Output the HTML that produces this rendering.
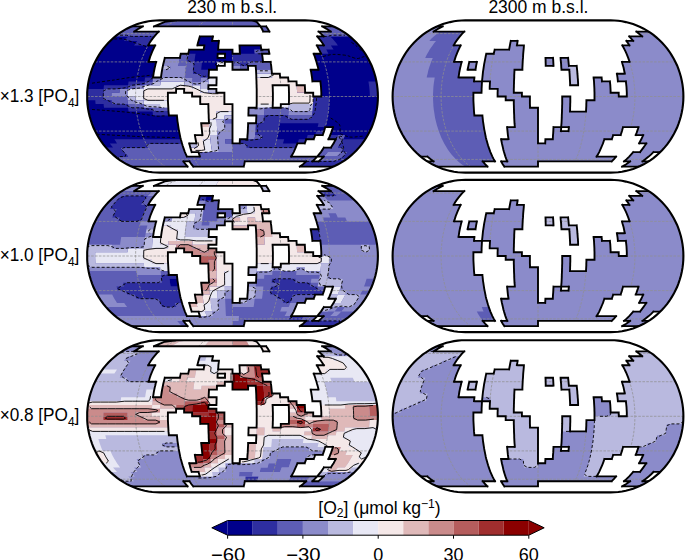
<!DOCTYPE html><html><head><meta charset="utf-8"><style>html,body{margin:0;padding:0;background:#fff;overflow:hidden}svg{display:block}text{font-family:"Liberation Sans",sans-serif}</style></head><body>
<svg width="685" height="560" viewBox="0 0 685 560">
<clipPath id="c232_96"><path d="M305.2,172.6 309.0,172.5 312.8,172.2 316.5,171.7 320.3,170.9 324.0,170.0 327.6,168.9 331.2,167.5 334.7,166.0 338.2,164.3 341.5,162.4 344.8,160.3 347.9,158.1 350.9,155.6 353.8,153.1 356.6,150.3 359.2,147.4 361.7,144.4 364.0,141.2 366.1,137.9 368.1,134.6 369.9,131.0 371.6,127.5 373.0,123.8 374.3,120.0 375.4,116.2 376.3,112.3 377.0,108.4 377.5,104.5 377.8,100.5 377.9,96.5 377.8,92.5 377.5,88.5 377.0,84.6 376.3,80.7 375.4,76.8 374.3,73.0 373.0,69.2 371.6,65.5 369.9,62.0 368.1,58.5 366.1,55.1 364.0,51.8 361.7,48.6 359.2,45.6 356.6,42.7 353.8,39.9 350.9,37.4 347.9,34.9 344.8,32.7 341.5,30.6 338.2,28.7 334.7,27.0 331.2,25.5 327.6,24.1 324.0,23.0 320.3,22.1 316.5,21.3 312.8,20.8 309.0,20.5 305.2,20.4 159.8,20.4 156.0,20.5 152.2,20.8 148.5,21.3 144.7,22.1 141.0,23.0 137.4,24.1 133.8,25.5 130.3,27.0 126.8,28.7 123.5,30.6 120.2,32.7 117.1,34.9 114.1,37.4 111.2,39.9 108.4,42.7 105.8,45.6 103.3,48.6 101.0,51.8 98.9,55.1 96.9,58.5 95.1,62.0 93.4,65.5 92.0,69.2 90.7,73.0 89.6,76.8 88.7,80.7 88.0,84.6 87.5,88.5 87.2,92.5 87.2,96.5 87.2,100.5 87.5,104.5 88.0,108.4 88.7,112.3 89.6,116.2 90.7,120.0 92.0,123.8 93.4,127.5 95.1,131.0 96.9,134.5 98.9,137.9 101.0,141.2 103.3,144.4 105.8,147.4 108.4,150.3 111.2,153.1 114.1,155.6 117.1,158.1 120.2,160.3 123.5,162.4 126.8,164.3 130.3,166.0 133.8,167.5 137.4,168.9 141.0,170.0 144.7,170.9 148.5,171.7 152.2,172.2 156.0,172.5 159.8,172.6Z"/></clipPath>
<g clip-path="url(#c232_96)">
<path d="M305.2,172.6 309.0,172.5 312.8,172.2 316.5,171.7 320.3,170.9 324.0,170.0 327.6,168.9 331.2,167.5 334.7,166.0 338.2,164.3 341.5,162.4 344.8,160.3 347.9,158.1 350.9,155.6 353.8,153.1 356.6,150.3 359.2,147.4 361.7,144.4 364.0,141.2 366.1,137.9 368.1,134.6 369.9,131.0 371.6,127.5 373.0,123.8 374.3,120.0 375.4,116.2 376.3,112.3 377.0,108.4 377.5,104.5 377.8,100.5 377.9,96.5 377.8,92.5 377.5,88.5 377.0,84.6 376.3,80.7 375.4,76.8 374.3,73.0 373.0,69.2 371.6,65.5 369.9,62.0 368.1,58.5 366.1,55.1 364.0,51.8 361.7,48.6 359.2,45.6 356.6,42.7 353.8,39.9 350.9,37.4 347.9,34.9 344.8,32.7 341.5,30.6 338.2,28.7 334.7,27.0 331.2,25.5 327.6,24.1 324.0,23.0 320.3,22.1 316.5,21.3 312.8,20.8 309.0,20.5 305.2,20.4 159.8,20.4 156.0,20.5 152.2,20.8 148.5,21.3 144.7,22.1 141.0,23.0 137.4,24.1 133.8,25.5 130.3,27.0 126.8,28.7 123.5,30.6 120.2,32.7 117.1,34.9 114.1,37.4 111.2,39.9 108.4,42.7 105.8,45.6 103.3,48.6 101.0,51.8 98.9,55.1 96.9,58.5 95.1,62.0 93.4,65.5 92.0,69.2 90.7,73.0 89.6,76.8 88.7,80.7 88.0,84.6 87.5,88.5 87.2,92.5 87.2,96.5 87.2,100.5 87.5,104.5 88.0,108.4 88.7,112.3 89.6,116.2 90.7,120.0 92.0,123.8 93.4,127.5 95.1,131.0 96.9,134.5 98.9,137.9 101.0,141.2 103.3,144.4 105.8,147.4 108.4,150.3 111.2,153.1 114.1,155.6 117.1,158.1 120.2,160.3 123.5,162.4 126.8,164.3 130.3,166.0 133.8,167.5 137.4,168.9 141.0,170.0 144.7,170.9 148.5,171.7 152.2,172.2 156.0,172.5 159.8,172.6Z" fill="#00008b"/>
<path d="M131.6,166.6 126.7,164.2 121.9,161.4 183.4,161.4 185.5,164.2 187.6,166.6ZM193.3,166.6 191.3,164.2 189.5,161.4 244.8,161.4 244.3,164.2 243.7,166.6ZM121.9,161.4 118.5,159.1 115.3,156.6 317.2,156.6 314.8,159.1 312.3,161.4ZM318.5,161.4 321.1,159.1 323.7,156.6 343.2,156.6 340.1,159.1 336.9,161.4ZM128.3,156.6 126.0,154.4 123.8,152.1 184.9,152.1 185.9,154.4 186.9,156.6ZM199.9,156.6 199.2,154.4 198.5,152.1 293.7,152.1 292.4,154.4 291.1,156.6ZM317.2,156.6 319.0,154.4 320.9,152.1 327.7,152.1 325.7,154.4 323.7,156.6ZM336.7,156.6 339.0,154.4 341.2,152.1 348.0,152.1 345.7,154.4 343.2,156.6ZM123.8,152.1 121.9,149.9 120.1,147.6 183.3,147.6 184.1,149.9 184.9,152.1ZM232.5,152.1 232.5,149.9 232.5,147.6 295.7,147.6 294.7,149.9 293.7,152.1ZM320.9,152.1 322.4,149.9 323.9,147.6 344.9,147.6 343.1,149.9 341.2,152.1ZM148.2,147.6 147.0,145.5 145.9,143.4 182.0,143.4 182.6,145.5 183.3,147.6ZM232.5,147.6 232.5,145.5 232.5,143.4 246.9,143.4 246.7,145.5 246.6,147.6ZM330.9,147.6 332.2,145.5 333.6,143.4 340.8,143.4 339.4,145.5 337.9,147.6ZM225.3,143.4 225.2,141.3 225.1,139.2 232.5,139.2 232.5,141.3 232.5,143.4ZM333.6,143.4 334.7,141.3 335.8,139.2 343.2,139.2 342.0,141.3 340.8,143.4ZM254.6,139.2 254.9,137.2 255.1,135.1 262.6,135.1 262.3,137.2 262.0,139.2ZM335.8,139.2 336.8,137.2 337.7,135.1 345.3,135.1 344.3,137.2 343.2,139.2ZM224.7,123.2 224.6,121.3 224.6,119.3 232.5,119.3 232.5,121.3 232.5,123.2ZM256.0,123.2 256.1,121.3 256.2,119.3 264.1,119.3 263.9,121.3 263.8,123.2ZM256.2,119.3 256.3,117.4 256.3,115.5 264.3,115.5 264.2,117.4 264.1,119.3ZM287.7,119.3 287.9,117.4 288.1,115.5 312.0,115.5 311.7,117.4 311.4,119.3ZM264.3,115.5 264.4,113.6 264.5,111.6 288.5,111.6 288.3,113.6 288.1,115.5ZM152.6,111.6 152.4,109.7 152.2,107.8 168.3,107.8 168.4,109.7 168.5,111.6ZM264.5,111.6 264.6,109.7 264.6,107.8 288.7,107.8 288.6,109.7 288.5,111.6ZM128.1,107.8 127.9,106.0 127.8,104.1 143.9,104.1 144.0,106.0 144.2,107.8ZM111.7,104.1 111.5,102.2 111.4,100.3 127.6,100.3 127.7,102.2 127.8,104.1ZM103.4,100.3 103.3,98.4 103.3,96.5 127.5,96.5 127.5,98.4 127.6,100.3ZM103.3,96.5 103.3,94.6 103.4,92.7 111.4,92.7 111.4,94.6 111.4,96.5ZM103.4,92.7 103.5,90.8 103.6,88.9 119.7,88.9 119.6,90.8 119.5,92.7ZM127.8,88.9 127.9,87.0 128.1,85.2 136.1,85.2 136.0,87.0 135.8,88.9ZM144.2,85.2 144.4,83.3 144.6,81.4 152.6,81.4 152.4,83.3 152.2,85.2ZM192.5,81.4 192.6,79.4 192.8,77.5 200.7,77.5 200.6,79.4 200.5,81.4ZM184.8,77.5 185.0,75.6 185.2,73.7 200.9,73.7 200.8,75.6 200.7,77.5ZM185.2,73.7 185.4,71.7 185.6,69.8 193.4,69.8 193.2,71.7 193.1,73.7ZM185.6,69.8 185.8,67.8 186.1,65.9 193.8,65.9 193.6,67.8 193.4,69.8ZM240.3,69.8 240.3,67.8 240.2,65.9 248.0,65.9 248.1,67.8 248.1,69.8ZM256.0,69.8 255.8,67.8 255.7,65.9 271.2,65.9 271.4,67.8 271.6,69.8ZM178.4,65.9 178.7,63.9 179.1,61.9 194.3,61.9 194.1,63.9 193.8,65.9ZM232.5,65.9 232.5,63.9 232.5,61.9 240.1,61.9 240.2,63.9 240.2,65.9ZM248.0,65.9 247.9,63.9 247.8,61.9 270.7,61.9 270.9,63.9 271.2,65.9ZM179.1,61.9 179.5,59.9 179.9,57.9 187.4,57.9 187.0,59.9 186.7,61.9ZM179.9,57.9 180.3,55.8 180.8,53.8 188.2,53.8 187.8,55.8 187.4,57.9ZM254.6,53.8 254.4,51.7 254.2,49.6 268.6,49.6 269.0,51.7 269.4,53.8ZM115.3,36.4 118.5,33.9 121.9,31.6 158.8,31.6 156.5,33.9 154.4,36.4ZM323.7,36.4 321.1,33.9 318.5,31.6 343.1,31.6 346.5,33.9 349.7,36.4ZM121.9,31.6 126.7,28.8 131.6,26.4 142.8,26.4 138.4,28.8 134.2,31.6ZM263.2,31.6 261.9,28.8 260.5,26.4 266.1,26.4 267.8,28.8 269.4,31.6ZM330.8,31.6 326.6,28.8 322.2,26.4 333.4,26.4 338.3,28.8 343.1,31.6ZM154.0,26.4 164.8,21.9 176.0,20.4 252.7,20.4 256.7,21.9 260.5,26.4Z" fill="#5d5db5"/>
<path d="M299.8,166.6 303.1,164.2 306.2,161.4 343.1,161.4 338.3,164.2 333.4,166.6ZM336.9,161.4 340.1,159.1 343.2,156.6 349.7,156.6 346.5,159.1 343.1,161.4ZM115.3,156.6 112.7,154.4 110.2,152.1 123.8,152.1 126.0,154.4 128.3,156.6ZM343.2,156.6 345.7,154.4 348.0,152.1 354.8,152.1 352.3,154.4 349.7,156.6ZM110.2,152.1 108.0,149.9 106.0,147.6 120.1,147.6 121.9,149.9 123.8,152.1ZM341.2,152.1 343.1,149.9 344.9,147.6 359.0,147.6 357.0,149.9 354.8,152.1ZM113.0,147.6 111.4,145.5 109.8,143.4 145.9,143.4 147.0,145.5 148.2,147.6ZM246.6,147.6 246.7,145.5 246.9,143.4 297.5,143.4 296.6,145.5 295.7,147.6ZM337.9,147.6 339.4,145.5 340.8,143.4 362.4,143.4 360.7,145.5 359.0,147.6ZM117.0,143.4 115.7,141.3 114.4,139.2 180.8,139.2 181.4,141.3 182.0,143.4ZM239.7,143.4 239.8,141.3 239.9,139.2 284.2,139.2 283.6,141.3 283.0,143.4ZM297.5,143.4 298.2,141.3 298.9,139.2 306.3,139.2 305.5,141.3 304.7,143.4ZM340.8,143.4 342.0,141.3 343.2,139.2 365.3,139.2 363.9,141.3 362.4,143.4ZM262.0,139.2 262.3,137.2 262.6,135.1 277.6,135.1 277.2,137.2 276.8,139.2ZM306.3,139.2 307.0,137.2 307.7,135.1 315.2,135.1 314.5,137.2 313.7,139.2ZM328.4,139.2 329.4,137.2 330.2,135.1 337.7,135.1 336.8,137.2 335.8,139.2ZM255.1,135.1 255.2,133.1 255.4,131.1 278.3,131.1 278.0,133.1 277.6,135.1ZM315.2,135.1 315.8,133.1 316.5,131.1 324.1,131.1 323.4,133.1 322.7,135.1ZM255.4,131.1 255.6,129.1 255.7,127.1 278.9,127.1 278.6,129.1 278.3,131.1ZM255.7,127.1 255.8,125.2 256.0,123.2 279.4,123.2 279.2,125.2 278.9,127.1ZM317.6,127.1 318.1,125.2 318.5,123.2 326.3,123.2 325.8,125.2 325.3,127.1ZM263.8,123.2 263.9,121.3 264.1,119.3 327.2,119.3 326.8,121.3 326.3,123.2ZM264.1,119.3 264.2,117.4 264.3,115.5 288.1,115.5 287.9,117.4 287.7,119.3ZM311.4,119.3 311.7,117.4 312.0,115.5 327.9,115.5 327.5,117.4 327.2,119.3ZM153.0,115.5 152.8,113.6 152.6,111.6 168.5,111.6 168.7,113.6 168.9,115.5ZM312.0,115.5 312.2,113.6 312.4,111.6 328.4,111.6 328.2,113.6 327.9,115.5ZM128.6,111.6 128.3,109.7 128.1,107.8 152.2,107.8 152.4,109.7 152.6,111.6ZM312.4,111.6 312.6,109.7 312.8,107.8 328.9,107.8 328.7,109.7 328.4,111.6ZM104.0,107.8 103.8,106.0 103.6,104.1 127.8,104.1 127.9,106.0 128.1,107.8ZM312.8,107.8 312.9,106.0 313.1,104.1 329.2,104.1 329.0,106.0 328.9,107.8ZM95.6,104.1 95.4,102.2 95.3,100.3 111.4,100.3 111.5,102.2 111.7,104.1ZM313.1,104.1 313.1,102.2 313.2,100.3 329.3,100.3 329.3,102.2 329.2,104.1ZM87.2,100.3 87.2,98.4 87.2,96.5 103.3,96.5 103.3,98.4 103.4,100.3ZM313.2,100.3 313.2,98.4 313.2,96.5 329.4,96.5 329.4,98.4 329.3,100.3ZM87.2,96.5 87.2,94.6 87.2,92.7 103.4,92.7 103.3,94.6 103.3,96.5ZM369.8,96.5 369.8,94.6 369.7,92.7 377.8,92.7 377.8,94.6 377.9,96.5ZM87.2,92.7 87.4,90.8 87.5,88.9 103.6,88.9 103.5,90.8 103.4,92.7ZM369.7,92.7 369.6,90.8 369.4,88.9 377.5,88.9 377.6,90.8 377.8,92.7ZM103.6,88.9 103.8,87.0 104.0,85.2 128.1,85.2 127.9,87.0 127.8,88.9ZM369.4,88.9 369.2,87.0 369.0,85.2 377.0,85.2 377.3,87.0 377.5,88.9ZM128.1,85.2 128.3,83.3 128.6,81.4 144.6,81.4 144.4,83.3 144.2,85.2ZM369.0,85.2 368.7,83.3 368.4,81.4 376.4,81.4 376.7,83.3 377.0,85.2ZM144.6,81.4 144.8,79.4 145.1,77.5 153.0,77.5 152.8,79.4 152.6,81.4ZM200.7,77.5 200.8,75.6 200.9,73.7 208.8,73.7 208.7,75.6 208.7,77.5ZM193.1,73.7 193.2,71.7 193.4,69.8 209.0,69.8 208.9,71.7 208.8,73.7ZM193.4,69.8 193.6,67.8 193.8,65.9 201.6,65.9 201.4,67.8 201.2,69.8ZM193.8,65.9 194.1,63.9 194.3,61.9 202.0,61.9 201.8,63.9 201.6,65.9ZM240.2,65.9 240.2,63.9 240.1,61.9 247.8,61.9 247.9,63.9 248.0,65.9ZM186.7,61.9 187.0,59.9 187.4,57.9 194.9,57.9 194.6,59.9 194.3,61.9ZM232.5,61.9 232.5,59.9 232.5,57.9 262.6,57.9 262.8,59.9 263.0,61.9ZM187.4,57.9 187.8,55.8 188.2,53.8 195.6,53.8 195.2,55.8 194.9,57.9ZM232.5,57.9 232.5,55.8 232.5,53.8 262.0,53.8 262.3,55.8 262.6,57.9ZM321.1,53.8 320.1,51.7 319.1,49.6 326.3,49.6 327.4,51.7 328.4,53.8ZM319.1,49.6 318.0,47.5 316.8,45.4 330.9,45.4 332.2,47.5 333.6,49.6ZM134.1,45.4 135.7,43.1 137.3,40.9 150.9,40.9 149.5,43.1 148.2,45.4ZM323.9,45.4 322.4,43.1 320.9,40.9 334.5,40.9 336.2,43.1 337.9,45.4ZM123.8,40.9 126.0,38.6 128.3,36.4 154.4,36.4 152.6,38.6 150.9,40.9ZM320.9,40.9 319.0,38.6 317.2,36.4 330.2,36.4 332.4,38.6 334.5,40.9Z" fill="#2e2ea0"/>
<path d="M323.7,156.6 325.7,154.4 327.7,152.1 341.2,152.1 339.0,154.4 336.7,156.6ZM218.9,152.1 218.7,149.9 218.4,147.6 232.5,147.6 232.5,149.9 232.5,152.1ZM218.4,147.6 218.3,145.5 218.1,143.4 232.5,143.4 232.5,145.5 232.5,147.6ZM218.1,143.4 217.9,141.3 217.7,139.2 225.1,139.2 225.2,141.3 225.3,143.4ZM217.7,139.2 217.6,137.2 217.5,135.1 232.5,135.1 232.5,137.2 232.5,139.2ZM247.3,139.2 247.4,137.2 247.5,135.1 255.1,135.1 254.9,137.2 254.6,139.2ZM217.5,135.1 217.3,133.1 217.2,131.1 232.5,131.1 232.5,133.1 232.5,135.1ZM247.5,135.1 247.7,133.1 247.8,131.1 255.4,131.1 255.2,133.1 255.1,135.1ZM224.9,131.1 224.8,129.1 224.8,127.1 232.5,127.1 232.5,129.1 232.5,131.1ZM247.8,131.1 247.9,129.1 248.0,127.1 255.7,127.1 255.6,129.1 255.4,131.1ZM224.8,127.1 224.7,125.2 224.7,123.2 232.5,123.2 232.5,125.2 232.5,127.1ZM248.0,127.1 248.1,125.2 248.1,123.2 256.0,123.2 255.8,125.2 255.7,127.1ZM248.4,115.5 248.4,113.6 248.5,111.6 264.5,111.6 264.4,113.6 264.3,115.5ZM288.1,115.5 288.3,113.6 288.5,111.6 312.4,111.6 312.2,113.6 312.0,115.5ZM248.5,111.6 248.5,109.7 248.6,107.8 264.6,107.8 264.6,109.7 264.5,111.6ZM127.8,104.1 127.7,102.2 127.6,100.3 135.7,100.3 135.7,102.2 135.8,104.1ZM111.4,96.5 111.4,94.6 111.4,92.7 127.6,92.7 127.5,94.6 127.5,96.5ZM119.5,92.7 119.6,90.8 119.7,88.9 127.8,88.9 127.7,90.8 127.6,92.7ZM135.8,88.9 136.0,87.0 136.1,85.2 144.2,85.2 144.0,87.0 143.9,88.9ZM192.4,85.2 192.4,83.3 192.5,81.4 200.5,81.4 200.4,83.3 200.4,85.2ZM152.6,81.4 152.8,79.4 153.0,77.5 161.0,77.5 160.8,79.4 160.6,81.4ZM184.5,81.4 184.7,79.4 184.8,77.5 192.8,77.5 192.6,79.4 192.5,81.4ZM200.5,81.4 200.6,79.4 200.7,77.5 208.7,77.5 208.6,79.4 208.5,81.4ZM161.0,77.5 161.2,75.6 161.5,73.7 185.2,73.7 185.0,75.6 184.8,77.5ZM161.5,73.7 161.8,71.7 162.1,69.8 185.6,69.8 185.4,71.7 185.2,73.7ZM170.0,69.8 170.3,67.8 170.6,65.9 186.1,65.9 185.8,67.8 185.6,69.8ZM232.5,69.8 232.5,67.8 232.5,65.9 240.2,65.9 240.3,67.8 240.3,69.8ZM162.9,65.9 163.3,63.9 163.8,61.9 179.1,61.9 178.7,63.9 178.4,65.9ZM163.8,61.9 164.3,59.9 164.8,57.9 179.9,57.9 179.5,59.9 179.1,61.9Z" fill="#8b8bca"/>
<path d="M191.7,152.1 191.0,149.9 190.3,147.6 204.4,147.6 204.8,149.9 205.3,152.1ZM197.4,147.6 196.9,145.5 196.4,143.4 203.6,143.4 204.0,145.5 204.4,147.6ZM196.4,143.4 196.0,141.3 195.6,139.2 203.0,139.2 203.3,141.3 203.6,143.4ZM195.6,139.2 195.2,137.2 194.9,135.1 209.9,135.1 210.1,137.2 210.4,139.2ZM202.4,135.1 202.2,133.1 202.0,131.1 209.6,131.1 209.8,133.1 209.9,135.1ZM202.0,131.1 201.8,129.1 201.6,127.1 209.3,127.1 209.4,129.1 209.6,131.1ZM208.8,119.3 208.7,117.4 208.7,115.5 216.6,115.5 216.7,117.4 216.7,119.3ZM208.7,115.5 208.6,113.6 208.5,111.6 216.5,111.6 216.6,113.6 216.6,115.5ZM208.5,111.6 208.5,109.7 208.4,107.8 232.5,107.8 232.5,109.7 232.5,111.6ZM208.4,107.8 208.4,106.0 208.3,104.1 232.5,104.1 232.5,106.0 232.5,107.8ZM200.3,104.1 200.2,102.2 200.2,100.3 224.4,100.3 224.4,102.2 224.4,104.1ZM256.7,104.1 256.7,102.2 256.7,100.3 272.9,100.3 272.8,102.2 272.8,104.1ZM288.9,104.1 288.9,102.2 289.0,100.3 313.2,100.3 313.1,102.2 313.1,104.1ZM143.7,100.3 143.7,98.4 143.7,96.5 167.9,96.5 167.9,98.4 167.9,100.3ZM200.2,100.3 200.2,98.4 200.2,96.5 224.4,96.5 224.4,98.4 224.4,100.3ZM256.7,100.3 256.7,98.4 256.7,96.5 272.9,96.5 272.9,98.4 272.9,100.3ZM289.0,100.3 289.0,98.4 289.0,96.5 313.2,96.5 313.2,98.4 313.2,100.3ZM143.7,96.5 143.7,94.6 143.7,92.7 167.9,92.7 167.9,94.6 167.9,96.5ZM192.1,96.5 192.1,94.6 192.1,92.7 224.4,92.7 224.4,94.6 224.4,96.5ZM256.7,96.5 256.7,94.6 256.7,92.7 272.9,92.7 272.9,94.6 272.9,96.5ZM289.0,96.5 289.0,94.6 289.0,92.7 313.2,92.7 313.2,94.6 313.2,96.5ZM143.7,92.7 143.8,90.8 143.9,88.9 176.1,88.9 176.1,90.8 176.0,92.7ZM184.1,92.7 184.1,90.8 184.2,88.9 200.3,88.9 200.2,90.8 200.2,92.7ZM256.7,92.7 256.7,90.8 256.7,88.9 272.8,88.9 272.8,90.8 272.9,92.7ZM289.0,92.7 288.9,90.8 288.9,88.9 296.9,88.9 297.0,90.8 297.1,92.7ZM176.1,88.9 176.2,87.0 176.3,85.2 192.4,85.2 192.3,87.0 192.2,88.9ZM256.7,88.9 256.6,87.0 256.6,85.2 272.6,85.2 272.7,87.0 272.8,88.9ZM288.9,88.9 288.8,87.0 288.7,85.2 296.7,85.2 296.8,87.0 296.9,88.9ZM256.6,85.2 256.5,83.3 256.5,81.4 296.5,81.4 296.6,83.3 296.7,85.2ZM256.5,81.4 256.4,79.4 256.3,77.5 288.1,77.5 288.3,79.4 288.5,81.4ZM272.2,77.5 272.1,75.6 271.9,73.7 279.8,73.7 280.0,75.6 280.2,77.5Z" fill="#f4e8e8"/>
<path d="M205.3,152.1 204.8,149.9 204.4,147.6 211.4,147.6 211.8,149.9 212.1,152.1ZM204.4,147.6 204.0,145.5 203.6,143.4 210.8,143.4 211.1,145.5 211.4,147.6ZM203.6,143.4 203.3,141.3 203.0,139.2 210.4,139.2 210.6,141.3 210.8,143.4ZM209.9,135.1 209.8,133.1 209.6,131.1 217.2,131.1 217.3,133.1 217.5,135.1ZM209.6,131.1 209.4,129.1 209.3,127.1 217.0,127.1 217.1,129.1 217.2,131.1ZM209.3,127.1 209.2,125.2 209.0,123.2 216.9,123.2 216.9,125.2 217.0,127.1ZM209.0,123.2 208.9,121.3 208.8,119.3 216.7,119.3 216.8,121.3 216.9,123.2ZM216.7,119.3 216.7,117.4 216.6,115.5 224.6,115.5 224.6,117.4 224.6,119.3ZM216.6,115.5 216.6,113.6 216.5,111.6 232.5,111.6 232.5,113.6 232.5,115.5ZM160.2,107.8 160.1,106.0 160.0,104.1 168.1,104.1 168.2,106.0 168.3,107.8ZM256.6,107.8 256.6,106.0 256.7,104.1 272.8,104.1 272.7,106.0 272.6,107.8ZM280.7,107.8 280.8,106.0 280.8,104.1 288.9,104.1 288.8,106.0 288.7,107.8ZM143.9,104.1 143.8,102.2 143.7,100.3 167.9,100.3 168.0,102.2 168.1,104.1ZM135.7,100.3 135.6,98.4 135.6,96.5 143.7,96.5 143.7,98.4 143.7,100.3ZM127.5,96.5 127.5,94.6 127.6,92.7 143.7,92.7 143.7,94.6 143.7,96.5ZM127.6,92.7 127.7,90.8 127.8,88.9 143.9,88.9 143.8,90.8 143.7,92.7ZM200.2,92.7 200.2,90.8 200.3,88.9 208.3,88.9 208.3,90.8 208.3,92.7ZM143.9,88.9 144.0,87.0 144.2,85.2 176.3,85.2 176.2,87.0 176.1,88.9ZM192.2,88.9 192.3,87.0 192.4,85.2 200.4,85.2 200.3,87.0 200.3,88.9ZM160.2,85.2 160.4,83.3 160.6,81.4 184.5,81.4 184.4,83.3 184.3,85.2ZM208.4,85.2 208.5,83.3 208.5,81.4 216.5,81.4 216.5,83.3 216.4,85.2ZM208.5,81.4 208.6,79.4 208.7,77.5 216.6,77.5 216.6,79.4 216.5,81.4ZM256.3,77.5 256.3,75.6 256.2,73.7 271.9,73.7 272.1,75.6 272.2,77.5ZM217.0,65.9 217.1,63.9 217.2,61.9 224.9,61.9 224.8,63.9 224.8,65.9Z" fill="#e8e8f4"/>
<path d="M212.1,152.1 211.8,149.9 211.4,147.6 218.4,147.6 218.7,149.9 218.9,152.1ZM190.3,147.6 189.8,145.5 189.2,143.4 196.4,143.4 196.9,145.5 197.4,147.6ZM211.4,147.6 211.1,145.5 210.8,143.4 218.1,143.4 218.3,145.5 218.4,147.6ZM210.8,143.4 210.6,141.3 210.4,139.2 217.7,139.2 217.9,141.3 218.1,143.4ZM210.4,139.2 210.1,137.2 209.9,135.1 217.5,135.1 217.6,137.2 217.7,139.2ZM217.2,131.1 217.1,129.1 217.0,127.1 224.8,127.1 224.8,129.1 224.9,131.1ZM217.0,127.1 216.9,125.2 216.9,123.2 224.7,123.2 224.7,125.2 224.8,127.1ZM216.9,123.2 216.8,121.3 216.7,119.3 224.6,119.3 224.6,121.3 224.7,123.2ZM224.6,119.3 224.6,117.4 224.6,115.5 232.5,115.5 232.5,117.4 232.5,119.3ZM288.5,111.6 288.6,109.7 288.7,107.8 312.8,107.8 312.6,109.7 312.4,111.6ZM144.2,107.8 144.0,106.0 143.9,104.1 160.0,104.1 160.1,106.0 160.2,107.8ZM288.7,107.8 288.8,106.0 288.9,104.1 313.1,104.1 312.9,106.0 312.8,107.8ZM135.8,104.1 135.7,102.2 135.7,100.3 143.7,100.3 143.8,102.2 143.9,104.1ZM127.6,100.3 127.5,98.4 127.5,96.5 135.6,96.5 135.6,98.4 135.7,100.3ZM208.3,92.7 208.3,90.8 208.3,88.9 216.4,88.9 216.4,90.8 216.4,92.7ZM200.3,88.9 200.3,87.0 200.4,85.2 208.4,85.2 208.4,87.0 208.3,88.9ZM152.2,85.2 152.4,83.3 152.6,81.4 160.6,81.4 160.4,83.3 160.2,85.2ZM184.3,85.2 184.4,83.3 184.5,81.4 192.5,81.4 192.4,83.3 192.4,85.2ZM200.4,85.2 200.4,83.3 200.5,81.4 208.5,81.4 208.5,83.3 208.4,85.2ZM160.6,81.4 160.8,79.4 161.0,77.5 184.8,77.5 184.7,79.4 184.5,81.4ZM256.2,73.7 256.1,71.7 256.0,69.8 271.6,69.8 271.8,71.7 271.9,73.7ZM162.1,69.8 162.5,67.8 162.9,65.9 170.6,65.9 170.3,67.8 170.0,69.8Z" fill="#b9b9df"/>
<path d="M201.6,127.1 201.4,125.2 201.2,123.2 209.0,123.2 209.2,125.2 209.3,127.1ZM297.1,92.7 297.0,90.8 296.9,88.9 305.0,88.9 305.1,90.8 305.1,92.7ZM296.9,88.9 296.8,87.0 296.7,85.2 304.8,85.2 304.9,87.0 305.0,88.9Z" fill="#dfb9b9"/>
<path d="M119.0,159.4H346.0M95.1,131.1H369.9M87.2,96.5H377.9M95.1,61.9H369.9M119.0,33.6H346.0M184.1,172.6 180.2,172.4 176.5,171.7 172.7,170.5 169.1,168.9 165.5,166.8 162.1,164.3 158.7,161.4 155.6,158.1 152.6,154.4 149.8,150.3 147.2,145.9 144.9,141.2 142.7,136.3 140.9,131.0 139.3,125.6 138.0,120.0 136.9,114.3 136.2,108.4 135.7,102.5 135.6,96.5 135.7,90.5 136.2,84.6 136.9,78.7 138.0,73.0 139.3,67.4 140.9,62.0 142.7,56.7 144.9,51.8 147.2,47.1 149.8,42.7 152.6,38.6 155.6,34.9 158.7,31.6 162.1,28.7 165.5,26.2 169.1,24.1 172.7,22.5 176.5,21.3 180.2,20.6 184.1,20.4M208.3,172.6 206.4,172.4 204.5,171.7 202.6,170.5 200.8,168.9 199.0,166.8 197.3,164.3 195.6,161.4 194.0,158.1 192.5,154.4 191.1,150.3 189.9,145.9 188.7,141.2 187.6,136.3 186.7,131.0 185.9,125.6 185.2,120.0 184.7,114.3 184.3,108.4 184.1,102.5 184.1,96.5 184.1,90.5 184.3,84.6 184.7,78.7 185.2,73.0 185.9,67.4 186.7,62.0 187.6,56.7 188.7,51.8 189.9,47.1 191.1,42.7 192.5,38.6 194.0,34.9 195.6,31.6 197.3,28.7 199.0,26.2 200.8,24.1 202.6,22.5 204.5,21.3 206.4,20.6 208.3,20.4M232.5,172.6 232.5,172.4 232.5,171.7 232.5,170.5 232.5,168.9 232.5,166.8 232.5,164.3 232.5,161.4 232.5,158.1 232.5,154.4 232.5,150.3 232.5,145.9 232.5,141.2 232.5,136.3 232.5,131.0 232.5,125.6 232.5,120.0 232.5,114.3 232.5,108.4 232.5,102.5 232.5,96.5 232.5,90.5 232.5,84.6 232.5,78.7 232.5,73.0 232.5,67.4 232.5,62.0 232.5,56.7 232.5,51.8 232.5,47.1 232.5,42.7 232.5,38.6 232.5,34.9 232.5,31.6 232.5,28.7 232.5,26.2 232.5,24.1 232.5,22.5 232.5,21.3 232.5,20.6 232.5,20.4M256.7,172.6 258.6,172.4 260.5,171.7 262.4,170.5 264.2,168.9 266.0,166.8 267.7,164.3 269.4,161.4 271.0,158.1 272.5,154.4 273.9,150.3 275.1,145.9 276.3,141.2 277.4,136.3 278.3,131.0 279.1,125.6 279.8,120.0 280.3,114.3 280.7,108.4 280.9,102.5 280.9,96.5 280.9,90.5 280.7,84.6 280.3,78.7 279.8,73.0 279.1,67.4 278.3,62.0 277.4,56.7 276.3,51.8 275.1,47.1 273.9,42.7 272.5,38.6 271.0,34.9 269.4,31.6 267.7,28.7 266.0,26.2 264.2,24.1 262.4,22.5 260.5,21.3 258.6,20.6 256.7,20.4M280.9,172.6 284.8,172.4 288.5,171.7 292.3,170.5 295.9,168.9 299.5,166.8 302.9,164.3 306.3,161.4 309.4,158.1 312.4,154.4 315.2,150.3 317.8,145.9 320.1,141.2 322.3,136.3 324.1,131.0 325.7,125.6 327.0,120.0 328.1,114.3 328.8,108.4 329.3,102.5 329.4,96.5 329.3,90.5 328.8,84.6 328.1,78.7 327.0,73.0 325.7,67.4 324.1,62.0 322.3,56.7 320.1,51.8 317.8,47.1 315.2,42.7 312.4,38.6 309.4,34.9 306.3,31.6 302.9,28.7 299.5,26.2 295.9,24.1 292.3,22.5 288.5,21.3 284.8,20.6 280.9,20.4" fill="none" stroke="#8f8f8f" stroke-opacity="0.9" stroke-width="0.8" stroke-dasharray="2.6,1.3"/>
<path d="M306.2,161.4 309.3,161.4 312.3,161.4M318.5,161.4 321.6,161.4 327.7,161.4 333.8,161.4 340.3,159.0 345.8,154.3 344.6,152.1 343.2,149.8 341.4,147.6 339.4,145.5 342.0,141.3 342.4,137.1 341.0,136.1 336.8,137.1 335.8,139.2M346.6,159.0 338.8,164.0M292.2,147.6 285.2,147.6 278.2,147.6 271.1,147.6 264.1,147.6 257.1,147.6 250.1,147.6 246.8,145.5 243.3,143.4 239.7,143.4M178.4,143.4 171.1,143.4 163.9,143.4 156.7,143.4 149.5,143.4 147.0,145.5 144.7,147.6 137.6,147.6 130.6,147.6 123.6,147.6 121.8,149.8 125.9,154.3 125.1,156.6 118.5,156.6 118.4,159.0 126.2,164.0M245.3,140.2 250.9,140.2 258.3,139.2 262.3,137.1 258.8,135.1 257.1,133.1 257.5,129.1 257.8,125.2 259.9,123.2 263.9,121.3 264.2,117.4 268.3,115.5 276.2,115.5 284.2,115.5 287.9,117.4 291.7,119.3 299.6,119.3 307.4,119.3 311.7,117.4 314.2,113.6 315.3,109.7 315.6,105.9 316.4,102.2 316.5,98.4 316.5,98.0M153.0,77.5 150.8,79.4 148.6,81.4 144.4,83.3 140.2,84.2 132.1,85.2 127.9,87.1 123.8,88.0 115.7,88.9 107.6,88.9 103.5,90.8 103.3,94.6 103.3,98.4 107.4,100.3 111.5,102.2 115.7,104.1 123.8,104.1 127.9,105.9 132.1,107.8 140.2,107.8 148.3,109.1 152.4,109.7 156.6,111.6 164.5,111.6M205.7,76.1 204.7,76.6 200.8,75.6 197.0,73.7 193.2,71.7 193.6,67.8 194.1,63.9 190.5,61.9 187.0,59.9 187.8,55.9 186.1,54.8M226.4,61.1 221.1,61.1 215.6,63.9 215.4,66.7M263.0,61.9 259.2,61.9 251.6,61.9 247.9,63.9 244.1,65.9 240.2,63.9 236.3,61.9 234.4,62.9M263.4,50.7 257.9,50.7 256.2,51.7 258.3,53.8 262.0,53.8M120.0,35.2 126.4,35.2 131.6,36.4 138.1,36.4 144.6,36.4 151.1,36.4M323.7,36.4 326.9,36.4 332.2,35.2 338.6,35.2 345.0,35.2" fill="none" stroke="#000" stroke-width="0.9" stroke-dasharray="3,2"/>
<path d="M199.5,152.6 202.1,152.6 208.7,152.1 215.4,150.9 218.7,149.8 218.2,145.5 217.9,141.3 217.6,137.1 219.2,133.1 221.0,131.1 224.8,129.1 224.7,125.2 222.7,121.3 228.5,118.4M254.6,108.8 260.6,108.8 268.6,107.8 272.6,107.8M280.7,107.8 284.7,107.8 290.6,109.7 292.5,111.6 300.5,111.6 308.4,111.6 310.0,109.7 310.3,105.9 313.1,102.2 313.2,98.4 313.2,96.5M209.6,78.0 206.6,79.4 204.5,81.4 200.4,83.3 196.4,84.2 192.4,83.3 188.5,81.4 184.7,79.4 180.8,77.5 172.9,77.5 164.9,77.5 160.7,79.4 156.6,81.4 154.4,83.3 148.2,85.2 142.0,87.1 139.9,88.0 131.8,88.9 125.7,90.8 125.5,94.6 129.6,98.4 131.6,100.3 135.7,102.2 139.8,103.1 146.0,105.9 148.1,106.6 156.1,106.9 164.2,107.8M166.0,69.8 170.3,67.8 166.8,65.9M267.8,70.8 259.9,70.8M223.3,62.7 221.0,62.7 218.7,63.9 218.6,65.1" fill="none" stroke="#000" stroke-width="0.9" stroke-dasharray="3,2"/>
<path d="M195.5,150.4 201.5,150.4 204.8,149.8 204.0,145.5 203.3,141.3 206.7,139.2 208.3,137.1 209.8,133.1 209.4,129.1 211.1,125.2 210.9,122.2M198.0,142.3 198.6,145.5 194.1,148.7M212.8,119.3 216.7,117.4 216.6,113.6 220.5,111.6 228.5,111.6M260.7,104.1 268.7,104.1M288.9,104.1 292.9,103.1 301.0,103.1 309.1,103.1 309.9,102.2 310.0,98.4 310.0,95.0M218.4,93.7 212.3,93.7 204.3,92.7 200.2,90.8 196.3,88.9 192.3,87.1 188.3,86.1 180.3,85.2 176.2,87.1 172.1,88.9 164.0,88.9 156.0,88.9 147.9,88.9 143.8,90.8 143.7,94.6 143.7,98.4 147.8,100.3 155.8,100.3 163.9,100.3M274.0,74.6 272.1,75.6 268.3,77.5 260.3,77.5" fill="none" stroke="#000" stroke-width="0.9"/>
<path d="M92,83.2 C100,82 108,80.8 114,80 S128,77.5 136.4,76.8 S148,75.5 152,75 M92,109.5 C100,110 108,110.6 118,111.4 S140,113.5 150.4,115.3 S160,115.8 165,115.9 M322.9,56.6 C327,55.5 330,54.5 333,54.4 S340,54.6 344.3,55.1 S350,56.5 354.3,58 S360,57.5 364.3,56.6 M351.4,42.3 C354,44 356,45.5 357.1,46.6 S360,49.5 361.4,50.9 M330.7,118 C334,120 337,122 338.9,123.8 S340,129 340,132 S345,135.5 348.2,136.7 S358,136.5 363.4,136.1 M338.9,136.7 C341,140 343,144 343.5,147.2 S341,153 338.9,155.4 M92,134 C100,134.4 110,135 120,135.5 S135,136.4 139.7,136.6 S165,137.3 177,137.7 M100,44 C105,41.5 109,40 112.4,39.4 S118,38.8 121.1,38.8 S127,40.2 131,41.5 S141,44.8 146.3,46.5" fill="none" stroke="#000" stroke-width="0.9" stroke-dasharray="3,2"/>

<path d="M159.8,172.6 145.4,171.1 131.6,166.6 333.4,166.6 319.6,171.1 305.2,172.6ZM187.6,166.6 185.5,164.2 183.4,161.4 189.5,161.4 191.3,164.2 193.3,166.6ZM243.7,166.6 244.3,164.2 244.8,161.4 306.2,161.4 303.1,164.2 299.8,166.6ZM312.3,161.4 314.8,159.1 317.2,156.6 323.7,156.6 321.1,159.1 318.5,161.4ZM186.9,156.6 185.9,154.4 184.9,152.1 198.5,152.1 199.2,154.4 199.9,156.6ZM291.1,156.6 292.4,154.4 293.7,152.1 320.9,152.1 319.0,154.4 317.2,156.6ZM184.9,152.1 184.1,149.9 183.3,147.6 190.3,147.6 191.0,149.9 191.7,152.1ZM293.7,152.1 294.7,149.9 295.7,147.6 323.9,147.6 322.4,149.9 320.9,152.1ZM183.3,147.6 182.6,145.5 182.0,143.4 189.2,143.4 189.8,145.5 190.3,147.6ZM295.7,147.6 296.6,145.5 297.5,143.4 333.6,143.4 332.2,145.5 330.9,147.6ZM182.0,143.4 181.4,141.3 180.8,139.2 195.6,139.2 196.0,141.3 196.4,143.4ZM232.5,143.4 232.5,141.3 232.5,139.2 239.9,139.2 239.8,141.3 239.7,143.4ZM304.7,143.4 305.5,141.3 306.3,139.2 335.8,139.2 334.7,141.3 333.6,143.4ZM180.8,139.2 180.3,137.2 179.9,135.1 194.9,135.1 195.2,137.2 195.6,139.2ZM232.5,139.2 232.5,137.2 232.5,135.1 247.5,135.1 247.4,137.2 247.3,139.2ZM313.7,139.2 314.5,137.2 315.2,135.1 330.2,135.1 329.4,137.2 328.4,139.2ZM179.9,135.1 179.5,133.1 179.1,131.1 202.0,131.1 202.2,133.1 202.4,135.1ZM232.5,135.1 232.5,133.1 232.5,131.1 247.8,131.1 247.7,133.1 247.5,135.1ZM322.7,135.1 323.4,133.1 324.1,131.1 331.7,131.1 331.0,133.1 330.2,135.1ZM179.1,131.1 178.7,129.1 178.4,127.1 201.6,127.1 201.8,129.1 202.0,131.1ZM232.5,131.1 232.5,129.1 232.5,127.1 248.0,127.1 247.9,129.1 247.8,131.1ZM324.1,131.1 324.7,129.1 325.3,127.1 333.0,127.1 332.4,129.1 331.7,131.1ZM178.4,127.1 178.1,125.2 177.8,123.2 201.2,123.2 201.4,125.2 201.6,127.1ZM232.5,127.1 232.5,125.2 232.5,123.2 248.1,123.2 248.1,125.2 248.0,127.1ZM177.8,123.2 177.5,121.3 177.3,119.3 208.8,119.3 208.9,121.3 209.0,123.2ZM232.5,123.2 232.5,121.3 232.5,119.3 256.2,119.3 256.1,121.3 256.0,123.2ZM177.3,119.3 177.1,117.4 176.9,115.5 208.7,115.5 208.7,117.4 208.8,119.3ZM232.5,119.3 232.5,117.4 232.5,115.5 256.3,115.5 256.3,117.4 256.2,119.3ZM168.9,115.5 168.7,113.6 168.5,111.6 208.5,111.6 208.6,113.6 208.7,115.5ZM232.5,115.5 232.5,113.6 232.5,111.6 248.5,111.6 248.4,113.6 248.4,115.5ZM168.5,111.6 168.4,109.7 168.3,107.8 208.4,107.8 208.5,109.7 208.5,111.6ZM232.5,111.6 232.5,109.7 232.5,107.8 248.6,107.8 248.5,109.7 248.5,111.6ZM168.3,107.8 168.2,106.0 168.1,104.1 208.3,104.1 208.4,106.0 208.4,107.8ZM232.5,107.8 232.5,106.0 232.5,104.1 256.7,104.1 256.6,106.0 256.6,107.8ZM272.6,107.8 272.7,106.0 272.8,104.1 280.8,104.1 280.8,106.0 280.7,107.8ZM168.1,104.1 168.0,102.2 167.9,100.3 200.2,100.3 200.2,102.2 200.3,104.1ZM224.4,104.1 224.4,102.2 224.4,100.3 256.7,100.3 256.7,102.2 256.7,104.1ZM272.8,104.1 272.8,102.2 272.9,100.3 289.0,100.3 288.9,102.2 288.9,104.1ZM167.9,100.3 167.9,98.4 167.9,96.5 200.2,96.5 200.2,98.4 200.2,100.3ZM224.4,100.3 224.4,98.4 224.4,96.5 256.7,96.5 256.7,98.4 256.7,100.3ZM272.9,100.3 272.9,98.4 272.9,96.5 289.0,96.5 289.0,98.4 289.0,100.3ZM167.9,96.5 167.9,94.6 167.9,92.7 192.1,92.7 192.1,94.6 192.1,96.5ZM224.4,96.5 224.4,94.6 224.4,92.7 256.7,92.7 256.7,94.6 256.7,96.5ZM272.9,96.5 272.9,94.6 272.9,92.7 289.0,92.7 289.0,94.6 289.0,96.5ZM313.2,96.5 313.2,94.6 313.2,92.7 321.3,92.7 321.3,94.6 321.3,96.5ZM176.0,92.7 176.1,90.8 176.1,88.9 184.2,88.9 184.1,90.8 184.1,92.7ZM216.4,92.7 216.4,90.8 216.4,88.9 256.7,88.9 256.7,90.8 256.7,92.7ZM272.9,92.7 272.8,90.8 272.8,88.9 288.9,88.9 288.9,90.8 289.0,92.7ZM305.1,92.7 305.1,90.8 305.0,88.9 321.1,88.9 321.2,90.8 321.3,92.7ZM208.3,88.9 208.4,87.0 208.4,85.2 256.6,85.2 256.6,87.0 256.7,88.9ZM272.8,88.9 272.7,87.0 272.6,85.2 288.7,85.2 288.8,87.0 288.9,88.9ZM305.0,88.9 304.9,87.0 304.8,85.2 320.8,85.2 321.0,87.0 321.1,88.9ZM216.4,85.2 216.5,83.3 216.5,81.4 256.5,81.4 256.5,83.3 256.6,85.2ZM296.7,85.2 296.6,83.3 296.5,81.4 320.4,81.4 320.6,83.3 320.8,85.2ZM216.5,81.4 216.6,79.4 216.6,77.5 256.3,77.5 256.4,79.4 256.5,81.4ZM288.5,81.4 288.3,79.4 288.1,77.5 312.0,77.5 312.2,79.4 312.4,81.4ZM153.0,77.5 153.3,75.6 153.6,73.7 161.5,73.7 161.2,75.6 161.0,77.5ZM208.7,77.5 208.7,75.6 208.8,73.7 256.2,73.7 256.3,75.6 256.3,77.5ZM280.2,77.5 280.0,75.6 279.8,73.7 311.4,73.7 311.7,75.6 312.0,77.5ZM153.6,73.7 153.9,71.7 154.3,69.8 162.1,69.8 161.8,71.7 161.5,73.7ZM208.8,73.7 208.9,71.7 209.0,69.8 256.0,69.8 256.1,71.7 256.2,73.7ZM271.9,73.7 271.8,71.7 271.6,69.8 310.7,69.8 311.1,71.7 311.4,73.7ZM154.3,69.8 154.7,67.8 155.2,65.9 162.9,65.9 162.5,67.8 162.1,69.8ZM216.9,69.8 216.9,67.8 217.0,65.9 232.5,65.9 232.5,67.8 232.5,69.8ZM248.1,69.8 248.1,67.8 248.0,65.9 255.7,65.9 255.8,67.8 256.0,69.8ZM271.6,69.8 271.4,67.8 271.2,65.9 317.6,65.9 318.1,67.8 318.5,69.8ZM155.2,65.9 155.6,63.9 156.2,61.9 163.8,61.9 163.3,63.9 162.9,65.9ZM224.8,65.9 224.8,63.9 224.9,61.9 232.5,61.9 232.5,63.9 232.5,65.9ZM271.2,65.9 270.9,63.9 270.7,61.9 316.5,61.9 317.0,63.9 317.6,65.9ZM148.5,61.9 149.2,59.9 149.8,57.9 164.8,57.9 164.3,59.9 163.8,61.9ZM263.0,61.9 262.8,59.9 262.6,57.9 315.2,57.9 315.8,59.9 316.5,61.9ZM149.8,57.9 150.5,55.8 151.3,53.8 180.8,53.8 180.3,55.8 179.9,57.9ZM217.5,57.9 217.6,55.8 217.7,53.8 225.1,53.8 225.0,55.8 225.0,57.9ZM262.6,57.9 262.3,55.8 262.0,53.8 313.7,53.8 314.5,55.8 315.2,57.9ZM151.3,53.8 152.2,51.7 153.1,49.6 189.2,49.6 188.7,51.7 188.2,53.8ZM232.5,53.8 232.5,51.7 232.5,49.6 239.7,49.6 239.8,51.7 239.9,53.8ZM269.4,53.8 269.0,51.7 268.6,49.6 319.1,49.6 320.1,51.7 321.1,53.8ZM153.1,49.6 154.1,47.5 155.2,45.4 204.4,45.4 204.0,47.5 203.6,49.6ZM218.1,49.6 218.3,47.5 218.4,45.4 239.5,45.4 239.6,47.5 239.7,49.6ZM261.4,49.6 261.0,47.5 260.6,45.4 316.8,45.4 318.0,47.5 319.1,49.6ZM148.2,45.4 149.5,43.1 150.9,40.9 198.5,40.9 197.9,43.1 197.4,45.4ZM218.4,45.4 218.7,43.1 218.9,40.9 320.9,40.9 322.4,43.1 323.9,45.4ZM150.9,40.9 152.6,38.6 154.4,36.4 199.9,36.4 199.2,38.6 198.5,40.9ZM212.1,40.9 212.5,38.6 213.0,36.4 317.2,36.4 319.0,38.6 320.9,40.9ZM154.4,36.4 156.5,33.9 158.8,31.6 318.5,31.6 321.1,33.9 323.7,36.4ZM134.2,31.6 138.4,28.8 142.8,26.4 260.5,26.4 261.9,28.8 263.2,31.6ZM269.4,31.6 267.8,28.8 266.1,26.4 322.2,26.4 326.6,28.8 330.8,31.6ZM131.6,26.4 145.4,21.9 159.8,20.4 176.0,20.4 164.8,21.9 154.0,26.4ZM260.5,26.4 256.7,21.9 252.7,20.4 305.2,20.4 319.6,21.9 333.4,26.4Z" fill="#fff"/>
<path d="M131.6,166.6 187.6,166.6M193.3,166.6 243.7,166.6M299.8,166.6 333.4,166.6M183.4,161.4 189.5,161.4M244.8,161.4 306.2,161.4M312.3,161.4 318.5,161.4M186.9,156.6 199.9,156.6M291.1,156.6 323.7,156.6M191.7,152.1 198.5,152.1M323.9,147.6 330.9,147.6M189.2,143.4 196.4,143.4M232.5,143.4 239.7,143.4M297.5,143.4 304.7,143.4M239.9,139.2 247.3,139.2M306.3,139.2 313.7,139.2M328.4,139.2 335.8,139.2M194.9,135.1 202.4,135.1M315.2,135.1 322.7,135.1M325.3,127.1 333.0,127.1M201.2,123.2 209.0,123.2M248.1,123.2 256.0,123.2M168.9,115.5 176.9,115.5M248.4,115.5 256.3,115.5M248.6,107.8 256.6,107.8M272.6,107.8 280.7,107.8M200.3,104.1 208.3,104.1M224.4,104.1 232.5,104.1M280.8,104.1 288.9,104.1M192.1,96.5 200.2,96.5M313.2,96.5 321.3,96.5M167.9,92.7 176.0,92.7M184.1,92.7 192.1,92.7M216.4,92.7 224.4,92.7M305.1,92.7 313.2,92.7M176.1,88.9 184.2,88.9M208.3,88.9 216.4,88.9M208.4,85.2 216.4,85.2M272.6,85.2 288.7,85.2M296.7,85.2 304.8,85.2M288.5,81.4 296.5,81.4M312.4,81.4 320.4,81.4M153.0,77.5 161.0,77.5M208.7,77.5 216.6,77.5M280.2,77.5 288.1,77.5M271.9,73.7 279.8,73.7M209.0,69.8 216.9,69.8M232.5,69.8 248.1,69.8M310.7,69.8 318.5,69.8M217.0,65.9 224.8,65.9M248.0,65.9 255.7,65.9M148.5,61.9 156.2,61.9M224.9,61.9 232.5,61.9M263.0,61.9 270.7,61.9M164.8,57.9 179.9,57.9M217.5,57.9 225.0,57.9M180.8,53.8 188.2,53.8M217.7,53.8 225.1,53.8M232.5,53.8 239.9,53.8M262.0,53.8 269.4,53.8M313.7,53.8 321.1,53.8M189.2,49.6 203.6,49.6M218.1,49.6 232.5,49.6M261.4,49.6 268.6,49.6M148.2,45.4 155.2,45.4M197.4,45.4 204.4,45.4M239.5,45.4 260.6,45.4M316.8,45.4 323.9,45.4M212.1,40.9 218.9,40.9M199.9,36.4 213.0,36.4M317.2,36.4 323.7,36.4M134.2,31.6 158.8,31.6M263.2,31.6 269.4,31.6M318.5,31.6 330.8,31.6M131.6,26.4 142.8,26.4M154.0,26.4 266.1,26.4M322.2,26.4 333.4,26.4M134.2,31.6 138.4,28.8 142.8,26.4M154.0,26.4 164.8,21.9 176.0,20.4M148.2,45.4 149.5,43.1 150.9,40.9 152.6,38.6 154.4,36.4 156.5,33.9 158.8,31.6M148.5,61.9 149.2,59.9 149.8,57.9 150.5,55.8 151.3,53.8 152.2,51.7 153.1,49.6 154.1,47.5 155.2,45.4M153.0,77.5 153.3,75.6 153.6,73.7 153.9,71.7 154.3,69.8 154.7,67.8 155.2,65.9 155.6,63.9 156.2,61.9M161.0,77.5 161.2,75.6 161.5,73.7 161.8,71.7 162.1,69.8 162.5,67.8 162.9,65.9 163.3,63.9 163.8,61.9 164.3,59.9 164.8,57.9M187.6,166.6 185.5,164.2 183.4,161.4M168.9,115.5 168.7,113.6 168.5,111.6 168.4,109.7 168.3,107.8 168.2,106.0 168.1,104.1 168.0,102.2 167.9,100.3 167.9,98.4 167.9,96.5 167.9,94.6 167.9,92.7M193.3,166.6 191.3,164.2 189.5,161.4M186.9,156.6 185.9,154.4 184.9,152.1 184.1,149.9 183.3,147.6 182.6,145.5 182.0,143.4 181.4,141.3 180.8,139.2 180.3,137.2 179.9,135.1 179.5,133.1 179.1,131.1 178.7,129.1 178.4,127.1 178.1,125.2 177.8,123.2 177.5,121.3 177.3,119.3 177.1,117.4 176.9,115.5M176.0,92.7 176.1,90.8 176.1,88.9M179.9,57.9 180.3,55.8 180.8,53.8M191.7,152.1 191.0,149.9 190.3,147.6 189.8,145.5 189.2,143.4M184.1,92.7 184.1,90.8 184.2,88.9M188.2,53.8 188.7,51.7 189.2,49.6M199.9,156.6 199.2,154.4 198.5,152.1M196.4,143.4 196.0,141.3 195.6,139.2 195.2,137.2 194.9,135.1M192.1,96.5 192.1,94.6 192.1,92.7M197.4,45.4 197.9,43.1 198.5,40.9 199.2,38.6 199.9,36.4M202.4,135.1 202.2,133.1 202.0,131.1 201.8,129.1 201.6,127.1 201.4,125.2 201.2,123.2M200.3,104.1 200.2,102.2 200.2,100.3 200.2,98.4 200.2,96.5M203.6,49.6 204.0,47.5 204.4,45.4M209.0,123.2 208.9,121.3 208.8,119.3 208.7,117.4 208.7,115.5 208.6,113.6 208.5,111.6 208.5,109.7 208.4,107.8 208.4,106.0 208.3,104.1M208.3,88.9 208.4,87.0 208.4,85.2M208.7,77.5 208.7,75.6 208.8,73.7 208.9,71.7 209.0,69.8M212.1,40.9 212.5,38.6 213.0,36.4M216.4,92.7 216.4,90.8 216.4,88.9M216.4,85.2 216.5,83.3 216.5,81.4 216.6,79.4 216.6,77.5M216.9,69.8 216.9,67.8 217.0,65.9M217.5,57.9 217.6,55.8 217.7,53.8M218.1,49.6 218.3,47.5 218.4,45.4 218.7,43.1 218.9,40.9M224.4,104.1 224.4,102.2 224.4,100.3 224.4,98.4 224.4,96.5 224.4,94.6 224.4,92.7M224.8,65.9 224.8,63.9 224.9,61.9M225.0,57.9 225.0,55.8 225.1,53.8M232.5,143.4 232.5,141.3 232.5,139.2 232.5,137.2 232.5,135.1 232.5,133.1 232.5,131.1 232.5,129.1 232.5,127.1 232.5,125.2 232.5,123.2 232.5,121.3 232.5,119.3 232.5,117.4 232.5,115.5 232.5,113.6 232.5,111.6 232.5,109.7 232.5,107.8 232.5,106.0 232.5,104.1M232.5,69.8 232.5,67.8 232.5,65.9 232.5,63.9 232.5,61.9M232.5,53.8 232.5,51.7 232.5,49.6M239.7,143.4 239.8,141.3 239.9,139.2M239.9,53.8 239.8,51.7 239.7,49.6 239.6,47.5 239.5,45.4M243.7,166.6 244.3,164.2 244.8,161.4M247.3,139.2 247.4,137.2 247.5,135.1 247.7,133.1 247.8,131.1 247.9,129.1 248.0,127.1 248.1,125.2 248.1,123.2M248.4,115.5 248.4,113.6 248.5,111.6 248.5,109.7 248.6,107.8M248.1,69.8 248.1,67.8 248.0,65.9M256.0,123.2 256.1,121.3 256.2,119.3 256.3,117.4 256.3,115.5M256.6,107.8 256.6,106.0 256.7,104.1 256.7,102.2 256.7,100.3 256.7,98.4 256.7,96.5 256.7,94.6 256.7,92.7 256.7,90.8 256.7,88.9 256.6,87.0 256.6,85.2 256.5,83.3 256.5,81.4 256.4,79.4 256.3,77.5 256.3,75.6 256.2,73.7 256.1,71.7 256.0,69.8 255.8,67.8 255.7,65.9M263.0,61.9 262.8,59.9 262.6,57.9 262.3,55.8 262.0,53.8M261.4,49.6 261.0,47.5 260.6,45.4M272.6,107.8 272.7,106.0 272.8,104.1 272.8,102.2 272.9,100.3 272.9,98.4 272.9,96.5 272.9,94.6 272.9,92.7 272.8,90.8 272.8,88.9 272.7,87.0 272.6,85.2M271.9,73.7 271.8,71.7 271.6,69.8 271.4,67.8 271.2,65.9 270.9,63.9 270.7,61.9M269.4,53.8 269.0,51.7 268.6,49.6M263.2,31.6 261.9,28.8 260.5,26.4 256.7,21.9 252.7,20.4M280.7,107.8 280.8,106.0 280.8,104.1M280.2,77.5 280.0,75.6 279.8,73.7M269.4,31.6 267.8,28.8 266.1,26.4M288.9,104.1 288.9,102.2 289.0,100.3 289.0,98.4 289.0,96.5 289.0,94.6 289.0,92.7 288.9,90.8 288.9,88.9 288.8,87.0 288.7,85.2M288.5,81.4 288.3,79.4 288.1,77.5M296.7,85.2 296.6,83.3 296.5,81.4M291.1,156.6 292.4,154.4 293.7,152.1 294.7,149.9 295.7,147.6 296.6,145.5 297.5,143.4M305.1,92.7 305.1,90.8 305.0,88.9 304.9,87.0 304.8,85.2M304.7,143.4 305.5,141.3 306.3,139.2M313.2,96.5 313.2,94.6 313.2,92.7M312.4,81.4 312.2,79.4 312.0,77.5 311.7,75.6 311.4,73.7 311.1,71.7 310.7,69.8M313.7,139.2 314.5,137.2 315.2,135.1M321.3,96.5 321.3,94.6 321.3,92.7 321.2,90.8 321.1,88.9 321.0,87.0 320.8,85.2 320.6,83.3 320.4,81.4M318.5,69.8 318.1,67.8 317.6,65.9 317.0,63.9 316.5,61.9 315.8,59.9 315.2,57.9 314.5,55.8 313.7,53.8M299.8,166.6 303.1,164.2 306.2,161.4M322.7,135.1 323.4,133.1 324.1,131.1 324.7,129.1 325.3,127.1M321.1,53.8 320.1,51.7 319.1,49.6 318.0,47.5 316.8,45.4M312.3,161.4 314.8,159.1 317.2,156.6 319.0,154.4 320.9,152.1 322.4,149.9 323.9,147.6M328.4,139.2 329.4,137.2 330.2,135.1 331.0,133.1 331.7,131.1 332.4,129.1 333.0,127.1M323.9,45.4 322.4,43.1 320.9,40.9 319.0,38.6 317.2,36.4M318.5,161.4 321.1,159.1 323.7,156.6M330.9,147.6 332.2,145.5 333.6,143.4 334.7,141.3 335.8,139.2M323.7,36.4 321.1,33.9 318.5,31.6M330.8,31.6 326.6,28.8 322.2,26.4" fill="none" stroke="#000" stroke-width="1.9" stroke-linecap="square"/>
</g>
<path d="M305.2,172.6 309.0,172.5 312.8,172.2 316.5,171.7 320.3,170.9 324.0,170.0 327.6,168.9 331.2,167.5 334.7,166.0 338.2,164.3 341.5,162.4 344.8,160.3 347.9,158.1 350.9,155.6 353.8,153.1 356.6,150.3 359.2,147.4 361.7,144.4 364.0,141.2 366.1,137.9 368.1,134.6 369.9,131.0 371.6,127.5 373.0,123.8 374.3,120.0 375.4,116.2 376.3,112.3 377.0,108.4 377.5,104.5 377.8,100.5 377.9,96.5 377.8,92.5 377.5,88.5 377.0,84.6 376.3,80.7 375.4,76.8 374.3,73.0 373.0,69.2 371.6,65.5 369.9,62.0 368.1,58.5 366.1,55.1 364.0,51.8 361.7,48.6 359.2,45.6 356.6,42.7 353.8,39.9 350.9,37.4 347.9,34.9 344.8,32.7 341.5,30.6 338.2,28.7 334.7,27.0 331.2,25.5 327.6,24.1 324.0,23.0 320.3,22.1 316.5,21.3 312.8,20.8 309.0,20.5 305.2,20.4 159.8,20.4 156.0,20.5 152.2,20.8 148.5,21.3 144.7,22.1 141.0,23.0 137.4,24.1 133.8,25.5 130.3,27.0 126.8,28.7 123.5,30.6 120.2,32.7 117.1,34.9 114.1,37.4 111.2,39.9 108.4,42.7 105.8,45.6 103.3,48.6 101.0,51.8 98.9,55.1 96.9,58.5 95.1,62.0 93.4,65.5 92.0,69.2 90.7,73.0 89.6,76.8 88.7,80.7 88.0,84.6 87.5,88.5 87.2,92.5 87.2,96.5 87.2,100.5 87.5,104.5 88.0,108.4 88.7,112.3 89.6,116.2 90.7,120.0 92.0,123.8 93.4,127.5 95.1,131.0 96.9,134.5 98.9,137.9 101.0,141.2 103.3,144.4 105.8,147.4 108.4,150.3 111.2,153.1 114.1,155.6 117.1,158.1 120.2,160.3 123.5,162.4 126.8,164.3 130.3,166.0 133.8,167.5 137.4,168.9 141.0,170.0 144.7,170.9 148.5,171.7 152.2,172.2 156.0,172.5 159.8,172.6Z" fill="none" stroke="#000" stroke-width="2.1"/>
<clipPath id="c538_96"><path d="M610.7,172.6 614.5,172.5 618.3,172.2 622.0,171.7 625.8,170.9 629.5,170.0 633.1,168.9 636.7,167.5 640.2,166.0 643.7,164.3 647.0,162.4 650.3,160.3 653.4,158.1 656.4,155.6 659.3,153.1 662.1,150.3 664.7,147.4 667.2,144.4 669.5,141.2 671.6,137.9 673.6,134.6 675.4,131.0 677.1,127.5 678.5,123.8 679.8,120.0 680.9,116.2 681.8,112.3 682.5,108.4 683.0,104.5 683.3,100.5 683.4,96.5 683.3,92.5 683.0,88.5 682.5,84.6 681.8,80.7 680.9,76.8 679.8,73.0 678.5,69.2 677.1,65.5 675.4,62.0 673.6,58.5 671.6,55.1 669.5,51.8 667.2,48.6 664.7,45.6 662.1,42.7 659.3,39.9 656.4,37.4 653.4,34.9 650.3,32.7 647.0,30.6 643.7,28.7 640.2,27.0 636.7,25.5 633.1,24.1 629.5,23.0 625.8,22.1 622.0,21.3 618.3,20.8 614.5,20.5 610.7,20.4 465.3,20.4 461.5,20.5 457.7,20.8 454.0,21.3 450.2,22.1 446.5,23.0 442.9,24.1 439.3,25.5 435.8,27.0 432.3,28.7 429.0,30.6 425.7,32.7 422.6,34.9 419.6,37.4 416.7,39.9 413.9,42.7 411.3,45.6 408.8,48.6 406.5,51.8 404.4,55.1 402.4,58.5 400.6,62.0 398.9,65.5 397.5,69.2 396.2,73.0 395.1,76.8 394.2,80.7 393.5,84.6 393.0,88.5 392.7,92.5 392.6,96.5 392.7,100.5 393.0,104.5 393.5,108.4 394.2,112.3 395.1,116.2 396.2,120.0 397.5,123.8 398.9,127.5 400.6,131.0 402.4,134.5 404.4,137.9 406.5,141.2 408.8,144.4 411.3,147.4 413.9,150.3 416.7,153.1 419.6,155.6 422.6,158.1 425.7,160.3 429.0,162.4 432.3,164.3 435.8,166.0 439.3,167.5 442.9,168.9 446.5,170.0 450.2,170.9 454.0,171.7 457.7,172.2 461.5,172.5 465.3,172.6Z"/></clipPath>
<g clip-path="url(#c538_96)">
<path d="M610.7,172.6 614.5,172.5 618.3,172.2 622.0,171.7 625.8,170.9 629.5,170.0 633.1,168.9 636.7,167.5 640.2,166.0 643.7,164.3 647.0,162.4 650.3,160.3 653.4,158.1 656.4,155.6 659.3,153.1 662.1,150.3 664.7,147.4 667.2,144.4 669.5,141.2 671.6,137.9 673.6,134.6 675.4,131.0 677.1,127.5 678.5,123.8 679.8,120.0 680.9,116.2 681.8,112.3 682.5,108.4 683.0,104.5 683.3,100.5 683.4,96.5 683.3,92.5 683.0,88.5 682.5,84.6 681.8,80.7 680.9,76.8 679.8,73.0 678.5,69.2 677.1,65.5 675.4,62.0 673.6,58.5 671.6,55.1 669.5,51.8 667.2,48.6 664.7,45.6 662.1,42.7 659.3,39.9 656.4,37.4 653.4,34.9 650.3,32.7 647.0,30.6 643.7,28.7 640.2,27.0 636.7,25.5 633.1,24.1 629.5,23.0 625.8,22.1 622.0,21.3 618.3,20.8 614.5,20.5 610.7,20.4 465.3,20.4 461.5,20.5 457.7,20.8 454.0,21.3 450.2,22.1 446.5,23.0 442.9,24.1 439.3,25.5 435.8,27.0 432.3,28.7 429.0,30.6 425.7,32.7 422.6,34.9 419.6,37.4 416.7,39.9 413.9,42.7 411.3,45.6 408.8,48.6 406.5,51.8 404.4,55.1 402.4,58.5 400.6,62.0 398.9,65.5 397.5,69.2 396.2,73.0 395.1,76.8 394.2,80.7 393.5,84.6 393.0,88.5 392.7,92.5 392.6,96.5 392.7,100.5 393.0,104.5 393.5,108.4 394.2,112.3 395.1,116.2 396.2,120.0 397.5,123.8 398.9,127.5 400.6,131.0 402.4,134.5 404.4,137.9 406.5,141.2 408.8,144.4 411.3,147.4 413.9,150.3 416.7,153.1 419.6,155.6 422.6,158.1 425.7,160.3 429.0,162.4 432.3,164.3 435.8,166.0 439.3,167.5 442.9,168.9 446.5,170.0 450.2,170.9 454.0,171.7 457.7,172.2 461.5,172.5 465.3,172.6Z" fill="#8b8bca"/>
<path d="M465.1,166.6 461.6,164.2 458.2,161.4 482.7,161.4 485.1,164.2 487.5,166.6ZM458.2,161.4 455.7,159.1 453.3,156.6 492.4,156.6 493.7,159.1 495.0,161.4ZM453.3,156.6 451.5,154.4 449.6,152.1 490.4,152.1 491.4,154.4 492.4,156.6ZM449.6,152.1 448.1,149.9 446.6,147.6 488.8,147.6 489.6,149.9 490.4,152.1ZM446.6,147.6 445.4,145.5 444.2,143.4 487.5,143.4 488.1,145.5 488.8,147.6ZM444.2,143.4 443.1,141.3 442.1,139.2 486.3,139.2 486.9,141.3 487.5,143.4ZM442.1,139.2 441.1,137.2 440.3,135.1 485.4,135.1 485.8,137.2 486.3,139.2ZM440.3,135.1 439.5,133.1 438.8,131.1 484.6,131.1 485.0,133.1 485.4,135.1ZM438.8,131.1 438.1,129.1 437.5,127.1 483.9,127.1 484.2,129.1 484.6,131.1ZM437.5,127.1 436.9,125.2 436.4,123.2 483.3,123.2 483.6,125.2 483.9,127.1ZM436.4,123.2 435.9,121.3 435.4,119.3 482.8,119.3 483.0,121.3 483.3,123.2ZM435.4,119.3 435.0,117.4 434.7,115.5 482.4,115.5 482.6,117.4 482.8,119.3ZM434.7,115.5 434.4,113.6 434.1,111.6 474.0,111.6 474.2,113.6 474.4,115.5ZM434.1,111.6 433.8,109.7 433.6,107.8 473.8,107.8 473.9,109.7 474.0,111.6ZM433.6,107.8 433.4,106.0 433.3,104.1 473.6,104.1 473.7,106.0 473.8,107.8ZM433.3,104.1 433.2,102.2 433.1,100.3 473.4,100.3 473.5,102.2 473.6,104.1ZM433.1,100.3 433.0,98.4 433.0,96.5 473.4,96.5 473.4,98.4 473.4,100.3ZM433.0,96.5 433.0,94.6 433.1,92.7 473.4,92.7 473.4,94.6 473.4,96.5ZM433.1,92.7 433.2,90.8 433.3,88.9 481.6,88.9 481.6,90.8 481.5,92.7ZM433.3,88.9 433.4,87.0 433.6,85.2 481.8,85.2 481.7,87.0 481.6,88.9ZM433.6,85.2 433.8,83.3 434.1,81.4 482.0,81.4 481.9,83.3 481.8,85.2ZM434.1,81.4 434.4,79.4 434.7,77.5 474.4,77.5 474.2,79.4 474.0,81.4ZM426.7,77.5 427.1,75.6 427.6,73.7 459.1,73.7 458.8,75.6 458.5,77.5ZM427.6,73.7 428.0,71.7 428.5,69.8 459.8,69.8 459.4,71.7 459.1,73.7ZM428.5,69.8 429.1,67.8 429.7,65.9 460.7,65.9 460.2,67.8 459.8,69.8ZM429.7,65.9 430.4,63.9 431.1,61.9 461.7,61.9 461.1,63.9 460.7,65.9ZM431.1,61.9 431.9,59.9 432.8,57.9 455.3,57.9 454.7,59.9 454.0,61.9ZM425.2,57.9 426.2,55.8 427.3,53.8 456.8,53.8 456.0,55.8 455.3,57.9ZM427.3,53.8 428.5,51.7 429.7,49.6 458.6,49.6 457.7,51.7 456.8,53.8ZM429.7,49.6 431.1,47.5 432.6,45.4 460.7,45.4 459.6,47.5 458.6,49.6ZM432.6,45.4 434.3,43.1 436.0,40.9 456.4,40.9 455.0,43.1 453.7,45.4ZM429.3,40.9 431.5,38.6 433.8,36.4 459.9,36.4 458.1,38.6 456.4,40.9ZM433.8,36.4 436.7,33.9 439.7,31.6 464.3,31.6 462.0,33.9 459.9,36.4Z" fill="#5d5db5"/>
<path d="M570.1,85.2 570.1,83.3 570.0,81.4 578.0,81.4 578.1,83.3 578.1,85.2ZM570.0,81.4 569.9,79.4 569.8,77.5 577.7,77.5 577.9,79.4 578.0,81.4ZM569.8,77.5 569.7,75.6 569.6,73.7 577.4,73.7 577.6,75.6 577.7,77.5ZM569.6,73.7 569.4,71.7 569.3,69.8 577.1,69.8 577.3,71.7 577.4,73.7ZM569.3,69.8 569.1,67.8 568.9,65.9 576.7,65.9 576.9,67.8 577.1,69.8Z" fill="#b9b9df"/>
<path d="M424.5,159.4H651.5M400.6,131.1H675.4M392.6,96.5H683.4M400.6,61.9H675.4M424.5,33.6H651.5M489.6,172.6 485.7,172.4 482.0,171.7 478.2,170.5 474.6,168.9 471.0,166.8 467.6,164.3 464.2,161.4 461.1,158.1 458.1,154.4 455.3,150.3 452.7,145.9 450.4,141.2 448.2,136.3 446.4,131.0 444.8,125.6 443.5,120.0 442.4,114.3 441.7,108.4 441.2,102.5 441.1,96.5 441.2,90.5 441.7,84.6 442.4,78.7 443.5,73.0 444.8,67.4 446.4,62.0 448.2,56.7 450.4,51.8 452.7,47.1 455.3,42.7 458.1,38.6 461.1,34.9 464.2,31.6 467.6,28.7 471.0,26.2 474.6,24.1 478.2,22.5 482.0,21.3 485.7,20.6 489.6,20.4M513.8,172.6 511.9,172.4 510.0,171.7 508.1,170.5 506.3,168.9 504.5,166.8 502.8,164.3 501.1,161.4 499.5,158.1 498.0,154.4 496.6,150.3 495.4,145.9 494.2,141.2 493.1,136.3 492.2,131.0 491.4,125.6 490.7,120.0 490.2,114.3 489.8,108.4 489.6,102.5 489.6,96.5 489.6,90.5 489.8,84.6 490.2,78.7 490.7,73.0 491.4,67.4 492.2,62.0 493.1,56.7 494.2,51.8 495.4,47.1 496.6,42.7 498.0,38.6 499.5,34.9 501.1,31.6 502.8,28.7 504.5,26.2 506.3,24.1 508.1,22.5 510.0,21.3 511.9,20.6 513.8,20.4M538.0,172.6 538.0,172.4 538.0,171.7 538.0,170.5 538.0,168.9 538.0,166.8 538.0,164.3 538.0,161.4 538.0,158.1 538.0,154.4 538.0,150.3 538.0,145.9 538.0,141.2 538.0,136.3 538.0,131.0 538.0,125.6 538.0,120.0 538.0,114.3 538.0,108.4 538.0,102.5 538.0,96.5 538.0,90.5 538.0,84.6 538.0,78.7 538.0,73.0 538.0,67.4 538.0,62.0 538.0,56.7 538.0,51.8 538.0,47.1 538.0,42.7 538.0,38.6 538.0,34.9 538.0,31.6 538.0,28.7 538.0,26.2 538.0,24.1 538.0,22.5 538.0,21.3 538.0,20.6 538.0,20.4M562.2,172.6 564.1,172.4 566.0,171.7 567.9,170.5 569.7,168.9 571.5,166.8 573.2,164.3 574.9,161.4 576.5,158.1 578.0,154.4 579.4,150.3 580.6,145.9 581.8,141.2 582.9,136.3 583.8,131.0 584.6,125.6 585.3,120.0 585.8,114.3 586.2,108.4 586.4,102.5 586.5,96.5 586.4,90.5 586.2,84.6 585.8,78.7 585.3,73.0 584.6,67.4 583.8,62.0 582.9,56.7 581.8,51.8 580.6,47.1 579.4,42.7 578.0,38.6 576.5,34.9 574.9,31.6 573.2,28.7 571.5,26.2 569.7,24.1 567.9,22.5 566.0,21.3 564.1,20.6 562.2,20.4M586.5,172.6 590.3,172.4 594.0,171.7 597.8,170.5 601.4,168.9 605.0,166.8 608.4,164.3 611.8,161.4 614.9,158.1 617.9,154.4 620.7,150.3 623.3,145.9 625.6,141.2 627.8,136.3 629.6,131.0 631.2,125.6 632.5,120.0 633.6,114.3 634.3,108.4 634.8,102.5 634.9,96.5 634.8,90.5 634.3,84.6 633.6,78.7 632.5,73.0 631.2,67.4 629.6,62.0 627.8,56.7 625.6,51.8 623.3,47.1 620.7,42.7 617.9,38.6 614.9,34.9 611.8,31.6 608.4,28.7 605.0,26.2 601.4,24.1 597.8,22.5 594.0,21.3 590.3,20.6 586.5,20.4" fill="none" stroke="#8f8f8f" stroke-opacity="0.9" stroke-width="0.8" stroke-dasharray="2.6,1.3"/>

<path d="M465.3,172.6 450.9,171.1 437.1,166.6 638.9,166.6 625.1,171.1 610.7,172.6ZM487.5,166.6 485.1,164.2 482.7,161.4 501.1,161.4 502.7,164.2 504.4,166.6ZM538.0,166.6 538.0,164.2 538.0,161.4 630.1,161.4 626.2,164.2 622.1,166.6ZM427.4,161.4 424.0,159.1 420.8,156.6 427.3,156.6 430.4,159.1 433.6,161.4ZM495.0,161.4 493.7,159.1 492.4,156.6 505.4,156.6 506.3,159.1 507.3,161.4ZM611.7,161.4 614.0,159.1 616.1,156.6 629.2,156.6 626.6,159.1 624.0,161.4ZM642.4,161.4 645.6,159.1 648.7,156.6 655.2,156.6 652.0,159.1 648.6,161.4ZM492.4,156.6 491.4,154.4 490.4,152.1 504.0,152.1 504.7,154.4 505.4,156.6ZM596.6,156.6 597.9,154.4 599.2,152.1 633.2,152.1 631.2,154.4 629.2,156.6ZM648.7,156.6 651.2,154.4 653.5,152.1 660.3,152.1 657.8,154.4 655.2,156.6ZM490.4,152.1 489.6,149.9 488.8,147.6 502.9,147.6 503.4,149.9 504.0,152.1ZM599.2,152.1 600.2,149.9 601.2,147.6 643.4,147.6 641.7,149.9 640.0,152.1ZM488.8,147.6 488.1,145.5 487.5,143.4 501.9,143.4 502.4,145.5 502.9,147.6ZM601.2,147.6 602.1,145.5 603.0,143.4 646.3,143.4 644.9,145.5 643.4,147.6ZM487.5,143.4 486.9,141.3 486.3,139.2 501.1,139.2 501.5,141.3 501.9,143.4ZM538.0,143.4 538.0,141.3 538.0,139.2 545.4,139.2 545.3,141.3 545.2,143.4ZM603.0,143.4 603.7,141.3 604.4,139.2 641.3,139.2 640.2,141.3 639.1,143.4ZM486.3,139.2 485.8,137.2 485.4,135.1 507.9,135.1 508.2,137.2 508.5,139.2ZM538.0,139.2 538.0,137.2 538.0,135.1 553.0,135.1 552.9,137.2 552.8,139.2ZM611.8,139.2 612.5,137.2 613.2,135.1 643.2,135.1 642.3,137.2 641.3,139.2ZM485.4,135.1 485.0,133.1 484.6,131.1 507.5,131.1 507.7,133.1 507.9,135.1ZM538.0,135.1 538.0,133.1 538.0,131.1 553.3,131.1 553.2,133.1 553.0,135.1ZM620.7,135.1 621.3,133.1 622.0,131.1 637.2,131.1 636.5,133.1 635.7,135.1ZM484.6,131.1 484.2,129.1 483.9,127.1 507.1,127.1 507.3,129.1 507.5,131.1ZM538.0,131.1 538.0,129.1 538.0,127.1 553.5,127.1 553.4,129.1 553.3,131.1ZM560.9,131.1 561.1,129.1 561.2,127.1 568.9,127.1 568.7,129.1 568.5,131.1ZM622.0,131.1 622.5,129.1 623.1,127.1 638.5,127.1 637.9,129.1 637.2,131.1ZM483.9,127.1 483.6,125.2 483.3,123.2 514.5,123.2 514.7,125.2 514.8,127.1ZM538.0,127.1 538.0,125.2 538.0,123.2 561.5,123.2 561.3,125.2 561.2,127.1ZM483.3,123.2 483.0,121.3 482.8,119.3 514.3,119.3 514.4,121.3 514.5,123.2ZM538.0,123.2 538.0,121.3 538.0,119.3 561.7,119.3 561.6,121.3 561.5,123.2ZM482.8,119.3 482.6,117.4 482.4,115.5 514.2,115.5 514.2,117.4 514.3,119.3ZM538.0,119.3 538.0,117.4 538.0,115.5 561.8,115.5 561.8,117.4 561.7,119.3ZM474.4,115.5 474.2,113.6 474.0,111.6 514.0,111.6 514.1,113.6 514.2,115.5ZM538.0,115.5 538.0,113.6 538.0,111.6 562.0,111.6 561.9,113.6 561.8,115.5ZM474.0,111.6 473.9,109.7 473.8,107.8 513.9,107.8 514.0,109.7 514.0,111.6ZM538.0,111.6 538.0,109.7 538.0,107.8 562.1,107.8 562.0,109.7 562.0,111.6ZM570.0,111.6 570.1,109.7 570.1,107.8 586.2,107.8 586.1,109.7 586.0,111.6ZM473.8,107.8 473.7,106.0 473.6,104.1 513.8,104.1 513.9,106.0 513.9,107.8ZM530.0,107.8 530.0,106.0 529.9,104.1 562.2,104.1 562.1,106.0 562.1,107.8ZM570.1,107.8 570.2,106.0 570.2,104.1 586.3,104.1 586.3,106.0 586.2,107.8ZM473.6,104.1 473.5,102.2 473.4,100.3 513.8,100.3 513.8,102.2 513.8,104.1ZM529.9,104.1 529.9,102.2 529.9,100.3 562.2,100.3 562.2,102.2 562.2,104.1ZM570.2,104.1 570.3,102.2 570.3,100.3 586.4,100.3 586.4,102.2 586.3,104.1ZM473.4,100.3 473.4,98.4 473.4,96.5 505.7,96.5 505.7,98.4 505.7,100.3ZM529.9,100.3 529.9,98.4 529.9,96.5 562.2,96.5 562.2,98.4 562.2,100.3ZM570.3,100.3 570.3,98.4 570.3,96.5 594.5,96.5 594.5,98.4 594.5,100.3ZM473.4,96.5 473.4,94.6 473.4,92.7 497.6,92.7 497.6,94.6 497.6,96.5ZM521.9,96.5 521.9,94.6 521.9,92.7 594.5,92.7 594.5,94.6 594.5,96.5ZM618.8,96.5 618.7,94.6 618.7,92.7 626.8,92.7 626.8,94.6 626.8,96.5ZM481.5,92.7 481.6,90.8 481.6,88.9 497.7,88.9 497.7,90.8 497.6,92.7ZM513.8,92.7 513.8,90.8 513.8,88.9 594.4,88.9 594.4,90.8 594.5,92.7ZM610.6,92.7 610.6,90.8 610.5,88.9 626.6,88.9 626.7,90.8 626.8,92.7ZM481.6,88.9 481.7,87.0 481.8,85.2 489.8,85.2 489.7,87.0 489.7,88.9ZM513.8,88.9 513.9,87.0 513.9,85.2 594.2,85.2 594.3,87.0 594.4,88.9ZM610.5,88.9 610.4,87.0 610.3,85.2 626.3,85.2 626.5,87.0 626.6,88.9ZM481.8,85.2 481.9,83.3 482.0,81.4 490.0,81.4 489.9,83.3 489.8,85.2ZM513.9,85.2 514.0,83.3 514.0,81.4 570.0,81.4 570.1,83.3 570.1,85.2ZM578.1,85.2 578.1,83.3 578.0,81.4 594.0,81.4 594.1,83.3 594.2,85.2ZM610.3,85.2 610.1,83.3 609.9,81.4 625.9,81.4 626.1,83.3 626.3,85.2ZM474.0,81.4 474.2,79.4 474.4,77.5 482.4,77.5 482.2,79.4 482.0,81.4ZM514.0,81.4 514.1,79.4 514.2,77.5 569.8,77.5 569.9,79.4 570.0,81.4ZM578.0,81.4 577.9,79.4 577.7,77.5 593.6,77.5 593.8,79.4 594.0,81.4ZM602.0,81.4 601.8,79.4 601.6,77.5 617.5,77.5 617.7,79.4 617.9,81.4ZM458.5,77.5 458.8,75.6 459.1,73.7 482.8,73.7 482.6,75.6 482.4,77.5ZM514.2,77.5 514.2,75.6 514.3,73.7 569.6,73.7 569.7,75.6 569.8,77.5ZM577.7,77.5 577.6,75.6 577.4,73.7 616.9,73.7 617.2,75.6 617.5,77.5ZM459.1,73.7 459.4,71.7 459.8,69.8 483.3,69.8 483.0,71.7 482.8,73.7ZM514.3,73.7 514.4,71.7 514.5,69.8 569.3,69.8 569.4,71.7 569.6,73.7ZM577.4,73.7 577.3,71.7 577.1,69.8 624.0,69.8 624.4,71.7 624.8,73.7ZM459.8,69.8 460.2,67.8 460.7,65.9 468.4,65.9 468.0,67.8 467.6,69.8ZM475.5,69.8 475.8,67.8 476.1,65.9 483.9,65.9 483.6,67.8 483.3,69.8ZM522.4,69.8 522.4,67.8 522.5,65.9 561.2,65.9 561.3,67.8 561.5,69.8ZM577.1,69.8 576.9,67.8 576.7,65.9 623.1,65.9 623.6,67.8 624.0,69.8ZM460.7,65.9 461.1,63.9 461.7,61.9 469.3,61.9 468.8,63.9 468.4,65.9ZM476.1,65.9 476.5,63.9 476.9,61.9 484.6,61.9 484.2,63.9 483.9,65.9ZM522.5,65.9 522.6,63.9 522.7,61.9 545.6,61.9 545.7,63.9 545.7,65.9ZM553.5,65.9 553.4,63.9 553.3,61.9 560.9,61.9 561.1,63.9 561.2,65.9ZM568.9,65.9 568.7,63.9 568.5,61.9 622.0,61.9 622.5,63.9 623.1,65.9ZM454.0,61.9 454.7,59.9 455.3,57.9 485.4,57.9 485.0,59.9 484.6,61.9ZM522.7,61.9 522.8,59.9 523.0,57.9 545.5,57.9 545.6,59.9 545.6,61.9ZM553.3,61.9 553.2,59.9 553.0,57.9 560.6,57.9 560.7,59.9 560.9,61.9ZM568.5,61.9 568.3,59.9 568.1,57.9 628.2,57.9 628.9,59.9 629.6,61.9ZM455.3,57.9 456.0,55.8 456.8,53.8 486.3,53.8 485.8,55.8 485.4,57.9ZM523.0,57.9 523.1,55.8 523.2,53.8 626.6,53.8 627.4,55.8 628.2,57.9ZM456.8,53.8 457.7,51.7 458.6,49.6 494.7,49.6 494.2,51.7 493.7,53.8ZM523.2,53.8 523.4,51.7 523.6,49.6 624.6,49.6 625.6,51.7 626.6,53.8ZM458.6,49.6 459.6,47.5 460.7,45.4 509.9,45.4 509.5,47.5 509.1,49.6ZM523.6,49.6 523.8,47.5 523.9,45.4 622.3,45.4 623.5,47.5 624.6,49.6ZM453.7,45.4 455.0,43.1 456.4,40.9 510.8,40.9 510.3,43.1 509.9,45.4ZM516.9,45.4 517.3,43.1 517.6,40.9 626.4,40.9 627.9,43.1 629.4,45.4ZM456.4,40.9 458.1,38.6 459.9,36.4 629.2,36.4 631.2,38.6 633.2,40.9ZM459.9,36.4 462.0,33.9 464.3,31.6 636.3,31.6 639.3,33.9 642.2,36.4ZM433.6,31.6 438.0,28.8 442.7,26.4 638.9,26.4 643.8,28.8 648.6,31.6ZM437.1,26.4 450.9,21.9 465.3,20.4 610.7,20.4 625.1,21.9 638.9,26.4Z" fill="#fff"/>
<path d="M437.1,166.6 487.5,166.6M504.4,166.6 538.0,166.6M622.1,166.6 638.9,166.6M427.4,161.4 433.6,161.4M482.7,161.4 495.0,161.4M501.1,161.4 507.3,161.4M538.0,161.4 611.7,161.4M624.0,161.4 630.1,161.4M642.4,161.4 648.6,161.4M420.8,156.6 427.3,156.6M596.6,156.6 616.1,156.6M633.2,152.1 640.0,152.1M653.5,152.1 660.3,152.1M538.0,143.4 545.2,143.4M639.1,143.4 646.3,143.4M501.1,139.2 508.5,139.2M545.4,139.2 552.8,139.2M604.4,139.2 611.8,139.2M613.2,135.1 620.7,135.1M635.7,135.1 643.2,135.1M560.9,131.1 568.5,131.1M507.1,127.1 514.8,127.1M553.5,127.1 568.9,127.1M623.1,127.1 638.5,127.1M474.4,115.5 482.4,115.5M570.0,111.6 586.0,111.6M530.0,107.8 538.0,107.8M505.7,100.3 513.8,100.3M586.4,100.3 594.5,100.3M497.6,96.5 505.7,96.5M521.9,96.5 529.9,96.5M562.2,96.5 570.3,96.5M618.8,96.5 626.8,96.5M473.4,92.7 481.5,92.7M513.8,92.7 521.9,92.7M610.6,92.7 618.7,92.7M489.7,88.9 497.7,88.9M570.1,85.2 578.1,85.2M474.0,81.4 490.0,81.4M602.0,81.4 609.9,81.4M617.9,81.4 625.9,81.4M458.5,77.5 474.4,77.5M593.6,77.5 601.6,77.5M616.9,73.7 624.8,73.7M467.6,69.8 475.5,69.8M514.5,69.8 522.4,69.8M561.5,69.8 569.3,69.8M545.7,65.9 553.5,65.9M568.9,65.9 576.7,65.9M454.0,61.9 461.7,61.9M469.3,61.9 476.9,61.9M622.0,61.9 629.6,61.9M545.5,57.9 553.0,57.9M560.6,57.9 568.1,57.9M486.3,53.8 493.7,53.8M494.7,49.6 509.1,49.6M453.7,45.4 460.7,45.4M516.9,45.4 523.9,45.4M622.3,45.4 629.4,45.4M510.8,40.9 517.6,40.9M626.4,40.9 633.2,40.9M629.2,36.4 642.2,36.4M433.6,31.6 464.3,31.6M636.3,31.6 648.6,31.6M437.1,26.4 442.7,26.4M433.6,161.4 430.4,159.1 427.3,156.6M433.6,31.6 438.0,28.8 442.7,26.4M453.7,45.4 455.0,43.1 456.4,40.9 458.1,38.6 459.9,36.4 462.0,33.9 464.3,31.6M454.0,61.9 454.7,59.9 455.3,57.9 456.0,55.8 456.8,53.8 457.7,51.7 458.6,49.6 459.6,47.5 460.7,45.4M458.5,77.5 458.8,75.6 459.1,73.7 459.4,71.7 459.8,69.8 460.2,67.8 460.7,65.9 461.1,63.9 461.7,61.9M487.5,166.6 485.1,164.2 482.7,161.4M467.6,69.8 468.0,67.8 468.4,65.9 468.8,63.9 469.3,61.9M474.4,115.5 474.2,113.6 474.0,111.6 473.9,109.7 473.8,107.8 473.7,106.0 473.6,104.1 473.5,102.2 473.4,100.3 473.4,98.4 473.4,96.5 473.4,94.6 473.4,92.7M474.0,81.4 474.2,79.4 474.4,77.5M475.5,69.8 475.8,67.8 476.1,65.9 476.5,63.9 476.9,61.9M495.0,161.4 493.7,159.1 492.4,156.6 491.4,154.4 490.4,152.1 489.6,149.9 488.8,147.6 488.1,145.5 487.5,143.4 486.9,141.3 486.3,139.2 485.8,137.2 485.4,135.1 485.0,133.1 484.6,131.1 484.2,129.1 483.9,127.1 483.6,125.2 483.3,123.2 483.0,121.3 482.8,119.3 482.6,117.4 482.4,115.5M481.5,92.7 481.6,90.8 481.6,88.9 481.7,87.0 481.8,85.2 481.9,83.3 482.0,81.4 482.2,79.4 482.4,77.5 482.6,75.6 482.8,73.7 483.0,71.7 483.3,69.8 483.6,67.8 483.9,65.9 484.2,63.9 484.6,61.9 485.0,59.9 485.4,57.9 485.8,55.8 486.3,53.8M504.4,166.6 502.7,164.2 501.1,161.4M489.7,88.9 489.7,87.0 489.8,85.2 489.9,83.3 490.0,81.4M493.7,53.8 494.2,51.7 494.7,49.6M507.3,161.4 506.3,159.1 505.4,156.6 504.7,154.4 504.0,152.1 503.4,149.9 502.9,147.6 502.4,145.5 501.9,143.4 501.5,141.3 501.1,139.2M497.6,96.5 497.6,94.6 497.6,92.7 497.7,90.8 497.7,88.9M508.5,139.2 508.2,137.2 507.9,135.1 507.7,133.1 507.5,131.1 507.3,129.1 507.1,127.1M505.7,100.3 505.7,98.4 505.7,96.5M509.1,49.6 509.5,47.5 509.9,45.4 510.3,43.1 510.8,40.9M514.8,127.1 514.7,125.2 514.5,123.2 514.4,121.3 514.3,119.3 514.2,117.4 514.2,115.5 514.1,113.6 514.0,111.6 514.0,109.7 513.9,107.8 513.9,106.0 513.8,104.1 513.8,102.2 513.8,100.3M513.8,92.7 513.8,90.8 513.8,88.9 513.9,87.0 513.9,85.2 514.0,83.3 514.0,81.4 514.1,79.4 514.2,77.5 514.2,75.6 514.3,73.7 514.4,71.7 514.5,69.8M516.9,45.4 517.3,43.1 517.6,40.9M521.9,96.5 521.9,94.6 521.9,92.7M522.4,69.8 522.4,67.8 522.5,65.9 522.6,63.9 522.7,61.9 522.8,59.9 523.0,57.9 523.1,55.8 523.2,53.8 523.4,51.7 523.6,49.6 523.8,47.5 523.9,45.4M530.0,107.8 530.0,106.0 529.9,104.1 529.9,102.2 529.9,100.3 529.9,98.4 529.9,96.5M538.0,166.6 538.0,164.2 538.0,161.4M538.0,143.4 538.0,141.3 538.0,139.2 538.0,137.2 538.0,135.1 538.0,133.1 538.0,131.1 538.0,129.1 538.0,127.1 538.0,125.2 538.0,123.2 538.0,121.3 538.0,119.3 538.0,117.4 538.0,115.5 538.0,113.6 538.0,111.6 538.0,109.7 538.0,107.8M545.2,143.4 545.3,141.3 545.4,139.2M545.7,65.9 545.7,63.9 545.6,61.9 545.6,59.9 545.5,57.9M552.8,139.2 552.9,137.2 553.0,135.1 553.2,133.1 553.3,131.1 553.4,129.1 553.5,127.1M553.5,65.9 553.4,63.9 553.3,61.9 553.2,59.9 553.0,57.9M560.9,131.1 561.1,129.1 561.2,127.1 561.3,125.2 561.5,123.2 561.6,121.3 561.7,119.3 561.8,117.4 561.8,115.5 561.9,113.6 562.0,111.6 562.0,109.7 562.1,107.8 562.1,106.0 562.2,104.1 562.2,102.2 562.2,100.3 562.2,98.4 562.2,96.5M561.5,69.8 561.3,67.8 561.2,65.9 561.1,63.9 560.9,61.9 560.7,59.9 560.6,57.9M568.5,131.1 568.7,129.1 568.9,127.1M570.0,111.6 570.1,109.7 570.1,107.8 570.2,106.0 570.2,104.1 570.3,102.2 570.3,100.3 570.3,98.4 570.3,96.5M570.1,85.2 570.1,83.3 570.0,81.4 569.9,79.4 569.8,77.5 569.7,75.6 569.6,73.7 569.4,71.7 569.3,69.8M568.9,65.9 568.7,63.9 568.5,61.9 568.3,59.9 568.1,57.9M578.1,85.2 578.1,83.3 578.0,81.4 577.9,79.4 577.7,77.5 577.6,75.6 577.4,73.7 577.3,71.7 577.1,69.8 576.9,67.8 576.7,65.9M586.0,111.6 586.1,109.7 586.2,107.8 586.3,106.0 586.3,104.1 586.4,102.2 586.4,100.3M594.5,100.3 594.5,98.4 594.5,96.5 594.5,94.6 594.5,92.7 594.4,90.8 594.4,88.9 594.3,87.0 594.2,85.2 594.1,83.3 594.0,81.4 593.8,79.4 593.6,77.5M602.0,81.4 601.8,79.4 601.6,77.5M596.6,156.6 597.9,154.4 599.2,152.1 600.2,149.9 601.2,147.6 602.1,145.5 603.0,143.4 603.7,141.3 604.4,139.2M610.6,92.7 610.6,90.8 610.5,88.9 610.4,87.0 610.3,85.2 610.1,83.3 609.9,81.4M611.8,139.2 612.5,137.2 613.2,135.1M618.8,96.5 618.7,94.6 618.7,92.7M617.9,81.4 617.7,79.4 617.5,77.5 617.2,75.6 616.9,73.7M620.7,135.1 621.3,133.1 622.0,131.1 622.5,129.1 623.1,127.1M626.8,96.5 626.8,94.6 626.8,92.7 626.7,90.8 626.6,88.9 626.5,87.0 626.3,85.2 626.1,83.3 625.9,81.4M624.8,73.7 624.4,71.7 624.0,69.8 623.6,67.8 623.1,65.9 622.5,63.9 622.0,61.9M611.7,161.4 614.0,159.1 616.1,156.6M629.6,61.9 628.9,59.9 628.2,57.9 627.4,55.8 626.6,53.8 625.6,51.7 624.6,49.6 623.5,47.5 622.3,45.4M635.7,135.1 636.5,133.1 637.2,131.1 637.9,129.1 638.5,127.1M629.4,45.4 627.9,43.1 626.4,40.9M624.0,161.4 626.6,159.1 629.2,156.6 631.2,154.4 633.2,152.1M639.1,143.4 640.2,141.3 641.3,139.2 642.3,137.2 643.2,135.1M633.2,40.9 631.2,38.6 629.2,36.4M622.1,166.6 626.2,164.2 630.1,161.4M640.0,152.1 641.7,149.9 643.4,147.6 644.9,145.5 646.3,143.4M642.2,36.4 639.3,33.9 636.3,31.6M642.4,161.4 645.6,159.1 648.7,156.6 651.2,154.4 653.5,152.1" fill="none" stroke="#000" stroke-width="1.9" stroke-linecap="square"/>
</g>
<path d="M610.7,172.6 614.5,172.5 618.3,172.2 622.0,171.7 625.8,170.9 629.5,170.0 633.1,168.9 636.7,167.5 640.2,166.0 643.7,164.3 647.0,162.4 650.3,160.3 653.4,158.1 656.4,155.6 659.3,153.1 662.1,150.3 664.7,147.4 667.2,144.4 669.5,141.2 671.6,137.9 673.6,134.6 675.4,131.0 677.1,127.5 678.5,123.8 679.8,120.0 680.9,116.2 681.8,112.3 682.5,108.4 683.0,104.5 683.3,100.5 683.4,96.5 683.3,92.5 683.0,88.5 682.5,84.6 681.8,80.7 680.9,76.8 679.8,73.0 678.5,69.2 677.1,65.5 675.4,62.0 673.6,58.5 671.6,55.1 669.5,51.8 667.2,48.6 664.7,45.6 662.1,42.7 659.3,39.9 656.4,37.4 653.4,34.9 650.3,32.7 647.0,30.6 643.7,28.7 640.2,27.0 636.7,25.5 633.1,24.1 629.5,23.0 625.8,22.1 622.0,21.3 618.3,20.8 614.5,20.5 610.7,20.4 465.3,20.4 461.5,20.5 457.7,20.8 454.0,21.3 450.2,22.1 446.5,23.0 442.9,24.1 439.3,25.5 435.8,27.0 432.3,28.7 429.0,30.6 425.7,32.7 422.6,34.9 419.6,37.4 416.7,39.9 413.9,42.7 411.3,45.6 408.8,48.6 406.5,51.8 404.4,55.1 402.4,58.5 400.6,62.0 398.9,65.5 397.5,69.2 396.2,73.0 395.1,76.8 394.2,80.7 393.5,84.6 393.0,88.5 392.7,92.5 392.6,96.5 392.7,100.5 393.0,104.5 393.5,108.4 394.2,112.3 395.1,116.2 396.2,120.0 397.5,123.8 398.9,127.5 400.6,131.0 402.4,134.5 404.4,137.9 406.5,141.2 408.8,144.4 411.3,147.4 413.9,150.3 416.7,153.1 419.6,155.6 422.6,158.1 425.7,160.3 429.0,162.4 432.3,164.3 435.8,166.0 439.3,167.5 442.9,168.9 446.5,170.0 450.2,170.9 454.0,171.7 457.7,172.2 461.5,172.5 465.3,172.6Z" fill="none" stroke="#000" stroke-width="2.1"/>
<clipPath id="c232_256"><path d="M305.2,332.1 309.0,332.0 312.8,331.7 316.5,331.2 320.3,330.4 324.0,329.5 327.6,328.4 331.2,327.0 334.7,325.5 338.2,323.8 341.5,321.9 344.8,319.8 347.9,317.6 350.9,315.1 353.8,312.6 356.6,309.8 359.2,306.9 361.7,303.9 364.0,300.7 366.1,297.4 368.1,294.1 369.9,290.5 371.6,287.0 373.0,283.3 374.3,279.5 375.4,275.7 376.3,271.8 377.0,267.9 377.5,264.0 377.8,260.0 377.9,256.0 377.8,252.0 377.5,248.0 377.0,244.1 376.3,240.2 375.4,236.3 374.3,232.5 373.0,228.7 371.6,225.0 369.9,221.5 368.1,218.0 366.1,214.6 364.0,211.3 361.7,208.1 359.2,205.1 356.6,202.2 353.8,199.4 350.9,196.9 347.9,194.4 344.8,192.2 341.5,190.1 338.2,188.2 334.7,186.5 331.2,185.0 327.6,183.6 324.0,182.5 320.3,181.6 316.5,180.8 312.8,180.3 309.0,180.0 305.2,179.9 159.8,179.9 156.0,180.0 152.2,180.3 148.5,180.8 144.7,181.6 141.0,182.5 137.4,183.6 133.8,185.0 130.3,186.5 126.8,188.2 123.5,190.1 120.2,192.2 117.1,194.4 114.1,196.9 111.2,199.4 108.4,202.2 105.8,205.1 103.3,208.1 101.0,211.3 98.9,214.6 96.9,217.9 95.1,221.5 93.4,225.0 92.0,228.7 90.7,232.5 89.6,236.3 88.7,240.2 88.0,244.1 87.5,248.0 87.2,252.0 87.2,256.0 87.2,260.0 87.5,264.0 88.0,267.9 88.7,271.8 89.6,275.7 90.7,279.5 92.0,283.3 93.4,287.0 95.1,290.5 96.9,294.0 98.9,297.4 101.0,300.7 103.3,303.9 105.8,306.9 108.4,309.8 111.2,312.6 114.1,315.1 117.1,317.6 120.2,319.8 123.5,321.9 126.8,323.8 130.3,325.5 133.8,327.0 137.4,328.4 141.0,329.5 144.7,330.4 148.5,331.2 152.2,331.7 156.0,332.0 159.8,332.1Z"/></clipPath>
<g clip-path="url(#c232_256)">
<path d="M305.2,332.1 309.0,332.0 312.8,331.7 316.5,331.2 320.3,330.4 324.0,329.5 327.6,328.4 331.2,327.0 334.7,325.5 338.2,323.8 341.5,321.9 344.8,319.8 347.9,317.6 350.9,315.1 353.8,312.6 356.6,309.8 359.2,306.9 361.7,303.9 364.0,300.7 366.1,297.4 368.1,294.1 369.9,290.5 371.6,287.0 373.0,283.3 374.3,279.5 375.4,275.7 376.3,271.8 377.0,267.9 377.5,264.0 377.8,260.0 377.9,256.0 377.8,252.0 377.5,248.0 377.0,244.1 376.3,240.2 375.4,236.3 374.3,232.5 373.0,228.7 371.6,225.0 369.9,221.5 368.1,218.0 366.1,214.6 364.0,211.3 361.7,208.1 359.2,205.1 356.6,202.2 353.8,199.4 350.9,196.9 347.9,194.4 344.8,192.2 341.5,190.1 338.2,188.2 334.7,186.5 331.2,185.0 327.6,183.6 324.0,182.5 320.3,181.6 316.5,180.8 312.8,180.3 309.0,180.0 305.2,179.9 159.8,179.9 156.0,180.0 152.2,180.3 148.5,180.8 144.7,181.6 141.0,182.5 137.4,183.6 133.8,185.0 130.3,186.5 126.8,188.2 123.5,190.1 120.2,192.2 117.1,194.4 114.1,196.9 111.2,199.4 108.4,202.2 105.8,205.1 103.3,208.1 101.0,211.3 98.9,214.6 96.9,217.9 95.1,221.5 93.4,225.0 92.0,228.7 90.7,232.5 89.6,236.3 88.7,240.2 88.0,244.1 87.5,248.0 87.2,252.0 87.2,256.0 87.2,260.0 87.5,264.0 88.0,267.9 88.7,271.8 89.6,275.7 90.7,279.5 92.0,283.3 93.4,287.0 95.1,290.5 96.9,294.0 98.9,297.4 101.0,300.7 103.3,303.9 105.8,306.9 108.4,309.8 111.2,312.6 114.1,315.1 117.1,317.6 120.2,319.8 123.5,321.9 126.8,323.8 130.3,325.5 133.8,327.0 137.4,328.4 141.0,329.5 144.7,330.4 148.5,331.2 152.2,331.7 156.0,332.0 159.8,332.1Z" fill="#5d5db5"/>
<path d="M131.6,326.1 126.7,323.7 121.9,320.9 177.2,320.9 179.6,323.7 182.0,326.1ZM193.3,326.1 191.3,323.7 189.5,320.9 232.5,320.9 232.5,323.7 232.5,326.1ZM121.9,320.9 118.5,318.6 115.3,316.1 239.0,316.1 238.8,318.6 238.6,320.9ZM213.0,316.1 212.5,313.9 212.1,311.6 225.7,311.6 225.8,313.9 226.0,316.1ZM284.6,316.1 285.8,313.9 286.9,311.6 293.7,311.6 292.4,313.9 291.1,316.1ZM330.2,316.1 332.4,313.9 334.5,311.6 341.2,311.6 339.0,313.9 336.7,316.1ZM218.9,311.6 218.7,309.4 218.4,307.1 225.5,307.1 225.6,309.4 225.7,311.6ZM280.1,311.6 280.9,309.4 281.7,307.1 295.7,307.1 294.7,309.4 293.7,311.6ZM327.7,311.6 329.3,309.4 330.9,307.1 337.9,307.1 336.2,309.4 334.5,311.6ZM341.2,311.6 343.1,309.4 344.9,307.1 359.0,307.1 357.0,309.4 354.8,311.6ZM106.0,307.1 104.3,305.0 102.6,302.9 124.2,302.9 125.6,305.0 127.1,307.1ZM218.4,307.1 218.3,305.0 218.1,302.9 225.3,302.9 225.4,305.0 225.5,307.1ZM232.5,307.1 232.5,305.0 232.5,302.9 254.2,302.9 253.9,305.0 253.6,307.1ZM288.7,307.1 289.5,305.0 290.2,302.9 297.5,302.9 296.6,305.0 295.7,307.1ZM352.0,307.1 353.6,305.0 355.2,302.9 362.4,302.9 360.7,305.0 359.0,307.1ZM102.6,302.9 101.1,300.8 99.7,298.7 114.4,298.7 115.7,300.8 117.0,302.9ZM218.1,302.9 217.9,300.8 217.7,298.7 225.1,298.7 225.2,300.8 225.3,302.9ZM246.9,302.9 247.1,300.8 247.3,298.7 254.6,298.7 254.4,300.8 254.2,302.9ZM355.2,302.9 356.6,300.8 358.0,298.7 365.3,298.7 363.9,300.8 362.4,302.9ZM99.7,298.7 98.4,296.7 97.2,294.6 112.2,294.6 113.3,296.7 114.4,298.7ZM225.1,298.7 225.0,296.7 225.0,294.6 232.5,294.6 232.5,296.7 232.5,298.7ZM254.6,298.7 254.9,296.7 255.1,294.6 262.6,294.6 262.3,296.7 262.0,298.7ZM358.0,298.7 359.2,296.7 360.3,294.6 367.8,294.6 366.6,296.7 365.3,298.7ZM225.0,294.6 224.9,292.6 224.9,290.6 232.5,290.6 232.5,292.6 232.5,294.6ZM255.1,294.6 255.2,292.6 255.4,290.6 263.0,290.6 262.8,292.6 262.6,294.6ZM345.3,294.6 346.2,292.6 347.0,290.6 362.3,290.6 361.3,292.6 360.3,294.6ZM255.4,290.6 255.6,288.6 255.7,286.6 263.4,286.6 263.2,288.6 263.0,290.6ZM339.4,290.6 340.1,288.6 340.8,286.6 371.7,286.6 370.8,288.6 369.9,290.6ZM248.0,286.6 248.1,284.7 248.1,282.7 256.0,282.7 255.8,284.7 255.7,286.6ZM340.8,286.6 341.4,284.7 342.0,282.7 365.4,282.7 364.7,284.7 364.0,286.6ZM310.7,282.7 311.1,280.8 311.4,278.8 319.3,278.8 318.9,280.8 318.5,282.7ZM342.0,282.7 342.5,280.8 342.9,278.8 366.6,278.8 366.0,280.8 365.4,282.7ZM256.2,278.8 256.3,276.9 256.3,275.0 264.3,275.0 264.2,276.9 264.1,278.8ZM327.2,278.8 327.5,276.9 327.9,275.0 375.6,275.0 375.1,276.9 374.5,278.8ZM137.1,275.0 136.8,273.1 136.6,271.1 160.6,271.1 160.8,273.1 161.0,275.0ZM256.3,275.0 256.4,273.1 256.5,271.1 272.5,271.1 272.4,273.1 272.2,275.0ZM296.1,275.0 296.3,273.1 296.5,271.1 320.4,271.1 320.2,273.1 319.9,275.0ZM327.9,275.0 328.2,273.1 328.4,271.1 376.4,271.1 376.0,273.1 375.6,275.0ZM88.6,271.1 88.3,269.2 88.0,267.3 160.2,267.3 160.4,269.2 160.6,271.1ZM272.5,271.1 272.6,269.2 272.6,267.3 280.7,267.3 280.6,269.2 280.5,271.1ZM296.5,271.1 296.6,269.2 296.7,267.3 304.8,267.3 304.6,269.2 304.4,271.1ZM328.4,271.1 328.7,269.2 328.9,267.3 377.0,267.3 376.7,269.2 376.4,271.1ZM328.9,267.3 329.0,265.5 329.2,263.6 377.5,263.6 377.3,265.5 377.0,267.3ZM329.2,263.6 329.3,261.7 329.3,259.8 377.8,259.8 377.6,261.7 377.5,263.6ZM329.3,259.8 329.4,257.9 329.4,256.0 377.9,256.0 377.8,257.9 377.8,259.8ZM321.3,256.0 321.3,254.1 321.3,252.2 377.8,252.2 377.8,254.1 377.9,256.0ZM321.3,252.2 321.2,250.3 321.1,248.4 361.4,248.4 361.5,250.3 361.6,252.2ZM369.7,252.2 369.6,250.3 369.4,248.4 377.5,248.4 377.6,250.3 377.8,252.2ZM111.7,248.4 111.8,246.5 112.1,244.7 144.2,244.7 144.0,246.5 143.9,248.4ZM321.1,248.4 321.0,246.5 320.8,244.7 361.0,244.7 361.2,246.5 361.4,248.4ZM369.4,248.4 369.2,246.5 369.0,244.7 377.0,244.7 377.3,246.5 377.5,248.4ZM120.1,244.7 120.3,242.8 120.6,240.9 144.6,240.9 144.4,242.8 144.2,244.7ZM120.6,240.9 120.9,238.9 121.2,237.0 145.1,237.0 144.8,238.9 144.6,240.9ZM145.1,237.0 145.4,235.1 145.7,233.2 153.6,233.2 153.3,235.1 153.0,237.0ZM146.5,229.3 146.9,227.3 147.4,225.4 155.2,225.4 154.7,227.3 154.3,229.3ZM193.4,229.3 193.6,227.3 193.8,225.4 217.0,225.4 216.9,227.3 216.9,229.3ZM139.7,225.4 140.3,223.4 140.9,221.4 156.2,221.4 155.6,223.4 155.2,225.4ZM193.8,225.4 194.1,223.4 194.3,221.4 202.0,221.4 201.8,223.4 201.6,225.4ZM209.3,225.4 209.4,223.4 209.6,221.4 224.9,221.4 224.8,223.4 224.8,225.4ZM163.8,221.4 164.3,219.4 164.8,217.4 172.4,217.4 171.9,219.4 171.4,221.4ZM217.2,221.4 217.3,219.4 217.5,217.4 225.0,217.4 224.9,219.4 224.9,221.4ZM316.5,221.4 315.8,219.4 315.2,217.4 322.7,217.4 323.4,219.4 324.1,221.4ZM347.0,221.4 346.2,219.4 345.3,217.4 367.8,217.4 368.9,219.4 369.9,221.4ZM315.2,217.4 314.5,215.3 313.7,213.3 328.4,213.3 329.4,215.3 330.2,217.4ZM337.7,217.4 336.8,215.3 335.8,213.3 365.3,213.3 366.6,215.3 367.8,217.4ZM321.1,213.3 320.1,211.2 319.1,209.1 362.4,209.1 363.9,211.2 365.3,213.3ZM239.7,209.1 239.6,207.0 239.5,204.9 246.6,204.9 246.7,207.0 246.9,209.1ZM333.6,209.1 332.2,207.0 330.9,204.9 359.0,204.9 360.7,207.0 362.4,209.1ZM197.4,204.9 197.9,202.6 198.5,200.4 205.3,200.4 204.8,202.6 204.4,204.9ZM330.9,204.9 329.3,202.6 327.7,200.4 354.8,200.4 357.0,202.6 359.0,204.9ZM320.9,200.4 319.0,198.1 317.2,195.9 323.7,195.9 325.7,198.1 327.7,200.4ZM147.8,195.9 150.2,193.4 152.7,191.1 158.8,191.1 156.5,193.4 154.4,195.9ZM121.9,191.1 126.7,188.3 131.6,185.9 142.8,185.9 138.4,188.3 134.2,191.1Z" fill="#8b8bca"/>
<path d="M299.8,326.1 303.1,323.7 306.2,320.9 343.1,320.9 338.3,323.7 333.4,326.1ZM287.8,320.9 289.5,318.6 291.1,316.1 304.1,316.1 302.1,318.6 300.1,320.9ZM162.2,307.1 161.3,305.0 160.3,302.9 174.8,302.9 175.5,305.0 176.3,307.1ZM160.3,302.9 159.5,300.8 158.7,298.7 180.8,298.7 181.4,300.8 182.0,302.9ZM283.0,302.9 283.6,300.8 284.2,298.7 291.5,298.7 290.9,300.8 290.2,302.9ZM136.6,298.7 135.6,296.7 134.8,294.6 179.9,294.6 180.3,296.7 180.8,298.7ZM276.8,298.7 277.2,296.7 277.6,294.6 292.6,294.6 292.1,296.7 291.5,298.7ZM127.3,294.6 126.4,292.6 125.6,290.6 179.1,290.6 179.5,292.6 179.9,294.6ZM270.1,294.6 270.4,292.6 270.7,290.6 324.1,290.6 323.4,292.6 322.7,294.6ZM118.0,290.6 117.2,288.6 116.5,286.6 178.4,286.6 178.7,288.6 179.1,290.6ZM270.7,290.6 270.9,288.6 271.2,286.6 317.6,286.6 317.0,288.6 316.5,290.6ZM124.2,286.6 123.6,284.7 123.0,282.7 170.0,282.7 170.3,284.7 170.6,286.6ZM278.9,286.6 279.2,284.7 279.4,282.7 310.7,282.7 310.3,284.7 309.8,286.6ZM162.1,282.7 161.8,280.8 161.5,278.8 169.4,278.8 169.7,280.8 170.0,282.7ZM271.6,282.7 271.8,280.8 271.9,278.8 295.6,278.8 295.3,280.8 295.0,282.7ZM161.5,278.8 161.2,276.9 161.0,275.0 176.9,275.0 177.1,276.9 177.3,278.8ZM312.4,240.9 312.2,238.9 312.0,237.0 319.9,237.0 320.2,238.9 320.4,240.9ZM312.0,237.0 311.7,235.1 311.4,233.2 319.3,233.2 319.6,235.1 319.9,237.0ZM311.4,233.2 311.1,231.2 310.7,229.3 318.5,229.3 318.9,231.2 319.3,233.2ZM118.0,221.4 118.8,219.4 119.7,217.4 142.3,217.4 141.6,219.4 140.9,221.4ZM112.2,217.4 113.3,215.3 114.4,213.3 143.9,213.3 143.1,215.3 142.3,217.4ZM114.4,213.3 115.7,211.2 117.0,209.1 145.9,209.1 144.9,211.2 143.9,213.3ZM109.8,209.1 111.4,207.0 113.0,204.9 148.2,204.9 147.0,207.0 145.9,209.1ZM113.0,204.9 115.0,202.6 117.0,200.4 144.1,200.4 142.6,202.6 141.1,204.9ZM117.0,200.4 119.3,198.1 121.8,195.9 147.8,195.9 146.0,198.1 144.1,200.4ZM198.5,200.4 199.2,198.1 199.9,195.9 206.5,195.9 205.9,198.1 205.3,200.4ZM323.7,195.9 321.1,193.4 318.5,191.1 330.8,191.1 333.8,193.4 336.7,195.9Z" fill="#2e2ea0"/>
<path d="M199.9,316.1 199.2,313.9 198.5,311.6 205.3,311.6 205.9,313.9 206.5,316.1ZM205.3,311.6 204.8,309.4 204.4,307.1 211.4,307.1 211.8,309.4 212.1,311.6ZM204.4,307.1 204.0,305.0 203.6,302.9 210.8,302.9 211.1,305.0 211.4,307.1ZM333.6,302.9 334.7,300.8 335.8,298.7 343.2,298.7 342.0,300.8 340.8,302.9ZM210.4,298.7 210.1,296.7 209.9,294.6 217.5,294.6 217.6,296.7 217.7,298.7ZM335.8,298.7 336.8,296.7 337.7,294.6 345.3,294.6 344.3,296.7 343.2,298.7ZM209.9,294.6 209.8,292.6 209.6,290.6 217.2,290.6 217.3,292.6 217.5,294.6ZM330.2,294.6 331.0,292.6 331.7,290.6 339.4,290.6 338.6,292.6 337.7,294.6ZM217.2,290.6 217.1,288.6 217.0,286.6 224.8,286.6 224.8,288.6 224.9,290.6ZM331.7,290.6 332.4,288.6 333.0,286.6 340.8,286.6 340.1,288.6 339.4,290.6ZM224.8,286.6 224.7,284.7 224.7,282.7 232.5,282.7 232.5,284.7 232.5,286.6ZM224.7,282.7 224.6,280.8 224.6,278.8 232.5,278.8 232.5,280.8 232.5,282.7ZM224.6,278.8 224.6,276.9 224.6,275.0 232.5,275.0 232.5,276.9 232.5,278.8ZM224.6,275.0 224.5,273.1 224.5,271.1 232.5,271.1 232.5,273.1 232.5,275.0ZM160.6,271.1 160.4,269.2 160.2,267.3 168.3,267.3 168.4,269.2 168.5,271.1ZM256.5,271.1 256.5,269.2 256.6,267.3 272.6,267.3 272.6,269.2 272.5,271.1ZM280.5,271.1 280.6,269.2 280.7,267.3 296.7,267.3 296.6,269.2 296.5,271.1ZM304.4,271.1 304.6,269.2 304.8,267.3 320.8,267.3 320.6,269.2 320.4,271.1ZM144.2,267.3 144.0,265.5 143.9,263.6 168.1,263.6 168.2,265.5 168.3,267.3ZM256.6,267.3 256.6,265.5 256.7,263.6 272.8,263.6 272.7,265.5 272.6,267.3ZM280.7,267.3 280.8,265.5 280.8,263.6 321.1,263.6 321.0,265.5 320.8,267.3ZM95.6,263.6 95.4,261.7 95.3,259.8 151.8,259.8 151.9,261.7 151.9,263.6ZM321.1,263.6 321.2,261.7 321.3,259.8 329.3,259.8 329.3,261.7 329.2,263.6ZM95.3,259.8 95.2,257.9 95.2,256.0 143.7,256.0 143.7,257.9 143.7,259.8ZM321.3,259.8 321.3,257.9 321.3,256.0 329.4,256.0 329.4,257.9 329.3,259.8ZM95.2,256.0 95.2,254.1 95.3,252.2 143.7,252.2 143.7,254.1 143.7,256.0ZM127.6,252.2 127.7,250.3 127.8,248.4 143.9,248.4 143.8,250.3 143.7,252.2ZM151.9,248.4 152.1,246.5 152.2,244.7 168.3,244.7 168.2,246.5 168.1,248.4ZM152.2,244.7 152.4,242.8 152.6,240.9 160.6,240.9 160.4,242.8 160.2,244.7ZM152.6,240.9 152.8,238.9 153.0,237.0 161.0,237.0 160.8,238.9 160.6,240.9ZM176.5,240.9 176.7,238.9 176.9,237.0 216.6,237.0 216.6,238.9 216.5,240.9ZM176.9,237.0 177.1,235.1 177.3,233.2 185.2,233.2 185.0,235.1 184.8,237.0ZM177.3,233.2 177.5,231.2 177.8,229.3 185.6,229.3 185.4,231.2 185.2,233.2ZM170.0,229.3 170.3,227.3 170.6,225.4 186.1,225.4 185.8,227.3 185.6,229.3ZM162.9,225.4 163.3,223.4 163.8,221.4 186.7,221.4 186.4,223.4 186.1,225.4ZM171.4,221.4 171.9,219.4 172.4,217.4 194.9,217.4 194.6,219.4 194.3,221.4ZM187.4,217.4 187.8,215.3 188.2,213.3 195.6,213.3 195.2,215.3 194.9,217.4ZM232.5,217.4 232.5,215.3 232.5,213.3 239.9,213.3 240.0,215.3 240.0,217.4ZM247.3,213.3 247.1,211.2 246.9,209.1 254.2,209.1 254.4,211.2 254.6,213.3ZM246.9,209.1 246.7,207.0 246.6,204.9 253.6,204.9 253.9,207.0 254.2,209.1ZM154.0,185.9 164.8,181.4 176.0,179.9 220.4,179.9 218.0,181.4 215.7,185.9Z" fill="#e8e8f4"/>
<path d="M206.5,316.1 205.9,313.9 205.3,311.6 212.1,311.6 212.5,313.9 213.0,316.1ZM212.1,311.6 211.8,309.4 211.4,307.1 218.4,307.1 218.7,309.4 218.9,311.6ZM320.9,311.6 322.4,309.4 323.9,307.1 330.9,307.1 329.3,309.4 327.7,311.6ZM211.4,307.1 211.1,305.0 210.8,302.9 218.1,302.9 218.3,305.0 218.4,307.1ZM330.9,307.1 332.2,305.0 333.6,302.9 355.2,302.9 353.6,305.0 352.0,307.1ZM210.8,302.9 210.6,300.8 210.4,298.7 217.7,298.7 217.9,300.8 218.1,302.9ZM239.7,302.9 239.8,300.8 239.9,298.7 247.3,298.7 247.1,300.8 246.9,302.9ZM340.8,302.9 342.0,300.8 343.2,298.7 358.0,298.7 356.6,300.8 355.2,302.9ZM217.7,298.7 217.6,296.7 217.5,294.6 225.0,294.6 225.0,296.7 225.1,298.7ZM247.3,298.7 247.4,296.7 247.5,294.6 255.1,294.6 254.9,296.7 254.6,298.7ZM328.4,298.7 329.4,296.7 330.2,294.6 337.7,294.6 336.8,296.7 335.8,298.7ZM343.2,298.7 344.3,296.7 345.3,294.6 360.3,294.6 359.2,296.7 358.0,298.7ZM217.5,294.6 217.3,292.6 217.2,290.6 224.9,290.6 224.9,292.6 225.0,294.6ZM247.5,294.6 247.7,292.6 247.8,290.6 255.4,290.6 255.2,292.6 255.1,294.6ZM337.7,294.6 338.6,292.6 339.4,290.6 347.0,290.6 346.2,292.6 345.3,294.6ZM224.9,290.6 224.8,288.6 224.8,286.6 232.5,286.6 232.5,288.6 232.5,290.6ZM247.8,290.6 247.9,288.6 248.0,286.6 255.7,286.6 255.6,288.6 255.4,290.6ZM317.6,286.6 318.1,284.7 318.5,282.7 342.0,282.7 341.4,284.7 340.8,286.6ZM318.5,282.7 318.9,280.8 319.3,278.8 342.9,278.8 342.5,280.8 342.0,282.7ZM319.3,278.8 319.6,276.9 319.9,275.0 327.9,275.0 327.5,276.9 327.2,278.8ZM248.4,275.0 248.4,273.1 248.5,271.1 256.5,271.1 256.4,273.1 256.3,275.0ZM319.9,275.0 320.2,273.1 320.4,271.1 328.4,271.1 328.2,273.1 327.9,275.0ZM248.5,271.1 248.5,269.2 248.6,267.3 256.6,267.3 256.5,269.2 256.5,271.1ZM320.4,271.1 320.6,269.2 320.8,267.3 328.9,267.3 328.7,269.2 328.4,271.1ZM88.0,267.3 87.7,265.5 87.5,263.6 143.9,263.6 144.0,265.5 144.2,267.3ZM320.8,267.3 321.0,265.5 321.1,263.6 329.2,263.6 329.0,265.5 328.9,267.3ZM87.5,263.6 87.4,261.7 87.2,259.8 95.3,259.8 95.4,261.7 95.6,263.6ZM87.2,259.8 87.2,257.9 87.2,256.0 95.2,256.0 95.2,257.9 95.3,259.8ZM87.2,256.0 87.2,254.1 87.2,252.2 95.3,252.2 95.2,254.1 95.2,256.0ZM87.2,252.2 87.4,250.3 87.5,248.4 127.8,248.4 127.7,250.3 127.6,252.2ZM361.6,252.2 361.5,250.3 361.4,248.4 369.4,248.4 369.6,250.3 369.7,252.2ZM87.5,248.4 87.7,246.5 88.0,244.7 112.1,244.7 111.8,246.5 111.7,248.4ZM143.9,248.4 144.0,246.5 144.2,244.7 152.2,244.7 152.1,246.5 151.9,248.4ZM361.4,248.4 361.2,246.5 361.0,244.7 369.0,244.7 369.2,246.5 369.4,248.4ZM144.2,244.7 144.4,242.8 144.6,240.9 152.6,240.9 152.4,242.8 152.2,244.7ZM144.6,240.9 144.8,238.9 145.1,237.0 153.0,237.0 152.8,238.9 152.6,240.9ZM184.8,237.0 185.0,235.1 185.2,233.2 208.8,233.2 208.7,235.1 208.7,237.0ZM145.7,233.2 146.1,231.2 146.5,229.3 154.3,229.3 153.9,231.2 153.6,233.2ZM185.2,233.2 185.4,231.2 185.6,229.3 209.0,229.3 208.9,231.2 208.8,233.2ZM185.6,229.3 185.8,227.3 186.1,225.4 193.8,225.4 193.6,227.3 193.4,229.3ZM186.1,225.4 186.4,223.4 186.7,221.4 194.3,221.4 194.1,223.4 193.8,225.4ZM194.3,221.4 194.6,219.4 194.9,217.4 202.4,217.4 202.2,219.4 202.0,221.4ZM224.9,221.4 224.9,219.4 225.0,217.4 232.5,217.4 232.5,219.4 232.5,221.4ZM194.9,217.4 195.2,215.3 195.6,213.3 203.0,213.3 202.7,215.3 202.4,217.4ZM188.2,213.3 188.7,211.2 189.2,209.1 203.6,209.1 203.3,211.2 203.0,213.3ZM239.9,213.3 239.8,211.2 239.7,209.1 246.9,209.1 247.1,211.2 247.3,213.3ZM319.1,209.1 318.0,207.0 316.8,204.9 330.9,204.9 332.2,207.0 333.6,209.1ZM323.9,204.9 322.4,202.6 320.9,200.4 327.7,200.4 329.3,202.6 330.9,204.9ZM263.2,191.1 261.9,188.3 260.5,185.9 266.1,185.9 267.8,188.3 269.4,191.1Z" fill="#b9b9df"/>
<path d="M191.7,311.6 191.0,309.4 190.3,307.1 204.4,307.1 204.8,309.4 205.3,311.6ZM197.4,307.1 196.9,305.0 196.4,302.9 203.6,302.9 204.0,305.0 204.4,307.1ZM203.6,302.9 203.3,300.8 203.0,298.7 210.4,298.7 210.6,300.8 210.8,302.9ZM203.0,298.7 202.7,296.7 202.4,294.6 209.9,294.6 210.1,296.7 210.4,298.7ZM209.6,290.6 209.4,288.6 209.3,286.6 217.0,286.6 217.1,288.6 217.2,290.6ZM217.0,286.6 216.9,284.7 216.9,282.7 224.7,282.7 224.7,284.7 224.8,286.6ZM216.9,282.7 216.8,280.8 216.7,278.8 224.6,278.8 224.6,280.8 224.7,282.7ZM216.7,278.8 216.7,276.9 216.6,275.0 224.6,275.0 224.6,276.9 224.6,278.8ZM216.6,275.0 216.6,273.1 216.5,271.1 224.5,271.1 224.5,273.1 224.6,275.0ZM216.5,271.1 216.5,269.2 216.4,267.3 232.5,267.3 232.5,269.2 232.5,271.1ZM216.4,267.3 216.4,265.5 216.4,263.6 232.5,263.6 232.5,265.5 232.5,267.3ZM151.9,263.6 151.9,261.7 151.8,259.8 167.9,259.8 168.0,261.7 168.1,263.6ZM216.4,263.6 216.4,261.7 216.4,259.8 224.4,259.8 224.4,261.7 224.4,263.6ZM256.7,263.6 256.7,261.7 256.7,259.8 272.9,259.8 272.8,261.7 272.8,263.6ZM288.9,263.6 288.9,261.7 289.0,259.8 321.3,259.8 321.2,261.7 321.1,263.6ZM143.7,259.8 143.7,257.9 143.7,256.0 167.9,256.0 167.9,257.9 167.9,259.8ZM216.4,259.8 216.4,257.9 216.3,256.0 224.4,256.0 224.4,257.9 224.4,259.8ZM256.7,259.8 256.7,257.9 256.7,256.0 272.9,256.0 272.9,257.9 272.9,259.8ZM289.0,259.8 289.0,257.9 289.0,256.0 321.3,256.0 321.3,257.9 321.3,259.8ZM143.7,256.0 143.7,254.1 143.7,252.2 167.9,252.2 167.9,254.1 167.9,256.0ZM216.3,256.0 216.4,254.1 216.4,252.2 224.4,252.2 224.4,254.1 224.4,256.0ZM256.7,256.0 256.7,254.1 256.7,252.2 272.9,252.2 272.9,254.1 272.9,256.0ZM289.0,256.0 289.0,254.1 289.0,252.2 313.2,252.2 313.2,254.1 313.2,256.0ZM143.7,252.2 143.8,250.3 143.9,248.4 176.1,248.4 176.1,250.3 176.0,252.2ZM256.7,252.2 256.7,250.3 256.7,248.4 272.8,248.4 272.8,250.3 272.9,252.2ZM289.0,252.2 288.9,250.3 288.9,248.4 296.9,248.4 297.0,250.3 297.1,252.2ZM168.1,248.4 168.2,246.5 168.3,244.7 176.3,244.7 176.2,246.5 176.1,248.4ZM256.7,248.4 256.6,246.5 256.6,244.7 272.6,244.7 272.7,246.5 272.8,248.4ZM288.9,248.4 288.8,246.5 288.7,244.7 296.7,244.7 296.8,246.5 296.9,248.4ZM160.2,244.7 160.4,242.8 160.6,240.9 168.5,240.9 168.4,242.8 168.3,244.7ZM192.4,244.7 192.4,242.8 192.5,240.9 216.5,240.9 216.5,242.8 216.4,244.7ZM264.6,244.7 264.6,242.8 264.5,240.9 296.5,240.9 296.6,242.8 296.7,244.7ZM160.6,240.9 160.8,238.9 161.0,237.0 176.9,237.0 176.7,238.9 176.5,240.9ZM264.5,240.9 264.4,238.9 264.3,237.0 288.1,237.0 288.3,238.9 288.5,240.9ZM161.0,237.0 161.2,235.1 161.5,233.2 177.3,233.2 177.1,235.1 176.9,237.0ZM272.2,237.0 272.1,235.1 271.9,233.2 279.8,233.2 280.0,235.1 280.2,237.0ZM161.5,233.2 161.8,231.2 162.1,229.3 177.8,229.3 177.5,231.2 177.3,233.2ZM162.1,229.3 162.5,227.3 162.9,225.4 170.6,225.4 170.3,227.3 170.0,229.3ZM232.5,225.4 232.5,223.4 232.5,221.4 247.8,221.4 247.9,223.4 248.0,225.4ZM240.1,221.4 240.1,219.4 240.0,217.4 247.5,217.4 247.7,219.4 247.8,221.4ZM255.4,221.4 255.2,219.4 255.1,217.4 262.6,217.4 262.8,219.4 263.0,221.4ZM179.9,217.4 180.3,215.3 180.8,213.3 188.2,213.3 187.8,215.3 187.4,217.4ZM240.0,217.4 240.0,215.3 239.9,213.3 262.0,213.3 262.3,215.3 262.6,217.4ZM254.6,213.3 254.4,211.2 254.2,209.1 261.4,209.1 261.7,211.2 262.0,213.3ZM254.2,209.1 253.9,207.0 253.6,204.9 260.6,204.9 261.0,207.0 261.4,209.1ZM215.7,185.9 218.0,181.4 220.4,179.9 252.7,179.9 256.7,181.4 260.5,185.9Z" fill="#f4e8e8"/>
<path d="M190.3,307.1 189.8,305.0 189.2,302.9 196.4,302.9 196.9,305.0 197.4,307.1ZM196.4,302.9 196.0,300.8 195.6,298.7 203.0,298.7 203.3,300.8 203.6,302.9ZM195.6,298.7 195.2,296.7 194.9,294.6 202.4,294.6 202.7,296.7 203.0,298.7ZM202.4,294.6 202.2,292.6 202.0,290.6 209.6,290.6 209.8,292.6 209.9,294.6ZM209.3,286.6 209.2,284.7 209.0,282.7 216.9,282.7 216.9,284.7 217.0,286.6ZM208.8,278.8 208.7,276.9 208.7,275.0 216.6,275.0 216.7,276.9 216.7,278.8ZM208.7,275.0 208.6,273.1 208.5,271.1 216.5,271.1 216.6,273.1 216.6,275.0ZM200.2,252.2 200.2,250.3 200.3,248.4 208.3,248.4 208.3,250.3 208.3,252.2ZM297.1,252.2 297.0,250.3 296.9,248.4 305.0,248.4 305.1,250.3 305.1,252.2ZM192.2,248.4 192.3,246.5 192.4,244.7 208.4,244.7 208.4,246.5 208.3,248.4ZM296.9,248.4 296.8,246.5 296.7,244.7 304.8,244.7 304.9,246.5 305.0,248.4ZM168.3,244.7 168.4,242.8 168.5,240.9 192.5,240.9 192.4,242.8 192.4,244.7ZM256.6,244.7 256.5,242.8 256.5,240.9 264.5,240.9 264.6,242.8 264.6,244.7ZM256.5,240.9 256.4,238.9 256.3,237.0 264.3,237.0 264.4,238.9 264.5,240.9ZM264.3,237.0 264.2,235.1 264.1,233.2 271.9,233.2 272.1,235.1 272.2,237.0ZM264.1,233.2 263.9,231.2 263.8,229.3 271.6,229.3 271.8,231.2 271.9,233.2ZM232.5,229.3 232.5,227.3 232.5,225.4 248.0,225.4 248.1,227.3 248.1,229.3ZM256.0,229.3 255.8,227.3 255.7,225.4 271.2,225.4 271.4,227.3 271.6,229.3ZM248.0,225.4 247.9,223.4 247.8,221.4 270.7,221.4 270.9,223.4 271.2,225.4ZM232.5,221.4 232.5,219.4 232.5,217.4 240.0,217.4 240.1,219.4 240.1,221.4ZM247.8,221.4 247.7,219.4 247.5,217.4 255.1,217.4 255.2,219.4 255.4,221.4Z" fill="#dfb9b9"/>
<path d="M202.0,290.6 201.8,288.6 201.6,286.6 209.3,286.6 209.4,288.6 209.6,290.6ZM201.6,286.6 201.4,284.7 201.2,282.7 209.0,282.7 209.2,284.7 209.3,286.6ZM209.0,282.7 208.9,280.8 208.8,278.8 216.7,278.8 216.8,280.8 216.9,282.7ZM208.5,271.1 208.5,269.2 208.4,267.3 216.4,267.3 216.5,269.2 216.5,271.1ZM208.4,267.3 208.4,265.5 208.3,263.6 216.4,263.6 216.4,265.5 216.4,267.3ZM208.3,263.6 208.3,261.7 208.3,259.8 216.4,259.8 216.4,261.7 216.4,263.6ZM192.1,256.0 192.1,254.1 192.1,252.2 216.4,252.2 216.4,254.1 216.3,256.0ZM184.1,252.2 184.1,250.3 184.2,248.4 200.3,248.4 200.2,250.3 200.2,252.2ZM208.3,252.2 208.3,250.3 208.3,248.4 216.4,248.4 216.4,250.3 216.4,252.2ZM176.1,248.4 176.2,246.5 176.3,244.7 192.4,244.7 192.3,246.5 192.2,248.4ZM256.3,237.0 256.3,235.1 256.2,233.2 264.1,233.2 264.2,235.1 264.3,237.0ZM256.2,233.2 256.1,231.2 256.0,229.3 263.8,229.3 263.9,231.2 264.1,233.2ZM262.0,213.3 261.7,211.2 261.4,209.1 268.6,209.1 269.0,211.2 269.4,213.3Z" fill="#ca8b8b"/>
<path d="M170.6,286.6 170.3,284.7 170.0,282.7 177.8,282.7 178.1,284.7 178.4,286.6ZM170.0,282.7 169.7,280.8 169.4,278.8 177.3,278.8 177.5,280.8 177.8,282.7ZM205.3,200.4 205.9,198.1 206.5,195.9 213.0,195.9 212.5,198.1 212.1,200.4Z" fill="#00008b"/>
<path d="M200.3,263.6 200.2,261.7 200.2,259.8 208.3,259.8 208.3,261.7 208.3,263.6ZM200.2,259.8 200.2,257.9 200.2,256.0 216.3,256.0 216.4,257.9 216.4,259.8Z" fill="#b55d5d"/>
<path d="M119.0,318.9H346.0M95.1,290.6H369.9M87.2,256.0H377.9M95.1,221.4H369.9M119.0,193.1H346.0M184.1,332.1 180.2,331.9 176.5,331.2 172.7,330.0 169.1,328.4 165.5,326.3 162.1,323.8 158.7,320.9 155.6,317.6 152.6,313.9 149.8,309.8 147.2,305.4 144.9,300.7 142.7,295.8 140.9,290.5 139.3,285.1 138.0,279.5 136.9,273.8 136.2,267.9 135.7,262.0 135.6,256.0 135.7,250.0 136.2,244.1 136.9,238.2 138.0,232.5 139.3,226.9 140.9,221.5 142.7,216.2 144.9,211.3 147.2,206.6 149.8,202.2 152.6,198.1 155.6,194.4 158.7,191.1 162.1,188.2 165.5,185.7 169.1,183.6 172.7,182.0 176.5,180.8 180.2,180.1 184.1,179.9M208.3,332.1 206.4,331.9 204.5,331.2 202.6,330.0 200.8,328.4 199.0,326.3 197.3,323.8 195.6,320.9 194.0,317.6 192.5,313.9 191.1,309.8 189.9,305.4 188.7,300.7 187.6,295.8 186.7,290.5 185.9,285.1 185.2,279.5 184.7,273.8 184.3,267.9 184.1,262.0 184.1,256.0 184.1,250.0 184.3,244.1 184.7,238.2 185.2,232.5 185.9,226.9 186.7,221.5 187.6,216.2 188.7,211.3 189.9,206.6 191.1,202.2 192.5,198.1 194.0,194.4 195.6,191.1 197.3,188.2 199.0,185.7 200.8,183.6 202.6,182.0 204.5,180.8 206.4,180.1 208.3,179.9M232.5,332.1 232.5,331.9 232.5,331.2 232.5,330.0 232.5,328.4 232.5,326.3 232.5,323.8 232.5,320.9 232.5,317.6 232.5,313.9 232.5,309.8 232.5,305.4 232.5,300.7 232.5,295.8 232.5,290.5 232.5,285.1 232.5,279.5 232.5,273.8 232.5,267.9 232.5,262.0 232.5,256.0 232.5,250.0 232.5,244.1 232.5,238.2 232.5,232.5 232.5,226.9 232.5,221.5 232.5,216.2 232.5,211.3 232.5,206.6 232.5,202.2 232.5,198.1 232.5,194.4 232.5,191.1 232.5,188.2 232.5,185.7 232.5,183.6 232.5,182.0 232.5,180.8 232.5,180.1 232.5,179.9M256.7,332.1 258.6,331.9 260.5,331.2 262.4,330.0 264.2,328.4 266.0,326.3 267.7,323.8 269.4,320.9 271.0,317.6 272.5,313.9 273.9,309.8 275.1,305.4 276.3,300.7 277.4,295.8 278.3,290.5 279.1,285.1 279.8,279.5 280.3,273.8 280.7,267.9 280.9,262.0 280.9,256.0 280.9,250.0 280.7,244.1 280.3,238.2 279.8,232.5 279.1,226.9 278.3,221.5 277.4,216.2 276.3,211.3 275.1,206.6 273.9,202.2 272.5,198.1 271.0,194.4 269.4,191.1 267.7,188.2 266.0,185.7 264.2,183.6 262.4,182.0 260.5,180.8 258.6,180.1 256.7,179.9M280.9,332.1 284.8,331.9 288.5,331.2 292.3,330.0 295.9,328.4 299.5,326.3 302.9,323.8 306.3,320.9 309.4,317.6 312.4,313.9 315.2,309.8 317.8,305.4 320.1,300.7 322.3,295.8 324.1,290.5 325.7,285.1 327.0,279.5 328.1,273.8 328.8,267.9 329.3,262.0 329.4,256.0 329.3,250.0 328.8,244.1 328.1,238.2 327.0,232.5 325.7,226.9 324.1,221.5 322.3,216.2 320.1,211.3 317.8,206.6 315.2,202.2 312.4,198.1 309.4,194.4 306.3,191.1 302.9,188.2 299.5,185.7 295.9,183.6 292.3,182.0 288.5,180.8 284.8,180.1 280.9,179.9" fill="none" stroke="#8f8f8f" stroke-opacity="0.9" stroke-width="0.8" stroke-dasharray="2.6,1.3"/>
<path d="M306.2,320.9 309.3,320.9 312.3,320.9M318.5,320.9 321.6,320.9 327.7,320.9 333.8,320.9 340.0,320.9 337.3,323.5M289.6,318.5 292.0,317.3M178.4,302.9 175.5,305.0 172.8,307.1 165.7,307.1 161.2,305.0 159.5,300.8 155.0,298.7 147.6,298.7 140.3,298.7 135.6,296.6 131.0,294.6 126.4,292.6 121.8,290.6 117.2,288.6 120.4,286.6 123.6,284.7 127.0,282.7 134.8,282.7 142.6,282.7 150.4,282.7 158.2,282.7 161.8,280.8 161.2,276.9 164.9,275.0 168.9,275.0M315.2,294.6 311.4,294.6 303.9,294.6 296.4,294.6 292.1,296.6 290.9,300.8 286.6,302.9 283.6,300.8 280.5,298.7 277.2,296.6 273.8,294.6 270.4,292.6 270.9,288.6 275.0,286.6 279.2,284.7 275.5,282.7 271.8,280.8 275.9,278.8 283.8,278.8 291.7,278.8 295.3,280.8 299.0,282.7 306.8,282.7 310.3,284.7 313.7,286.6 317.0,288.6 320.3,290.6M318.5,229.3 318.9,231.2 319.6,235.1 320.2,238.9 320.4,240.9M121.8,221.4 118.8,219.4 116.0,217.4 113.3,215.4 115.7,211.2 113.4,209.1 111.3,207.0 114.9,202.7 119.2,198.2 125.1,195.9 131.6,195.9 138.1,195.9 144.6,195.9 145.9,198.2 142.6,202.7 144.7,204.9 147.0,207.0 144.9,211.2 143.1,215.4 141.6,219.4 137.1,221.4 129.4,221.4 121.8,221.4M213.6,201.6 208.5,201.6 202.2,199.3M330.8,191.1 334.0,193.5 333.4,195.9 326.9,195.9 324.1,194.7" fill="none" stroke="#000" stroke-width="0.9" stroke-dasharray="3,2"/>
<path d="M198.7,317.3 203.6,317.3 209.7,316.1 212.5,313.8 215.5,311.6 218.7,309.3 218.2,305.0 217.9,300.8 221.4,298.7 225.0,296.6 224.9,292.6 228.7,290.6M325.1,310.4 329.3,309.3 334.4,307.1 342.2,306.1 348.4,307.1 353.7,305.0 356.6,300.8 359.2,296.6 356.5,294.6 349.0,294.6 346.2,292.6 343.2,290.6 342.0,288.6 341.4,284.7 342.5,280.8 339.0,278.8 331.1,278.8 327.5,276.9 328.2,273.1 328.7,269.2 329.0,265.4 331.3,261.7 331.4,257.9 325.4,255.1 324.0,254.7M239.7,302.9 243.3,302.9 247.1,300.8 250.9,298.7 254.9,296.6 255.2,292.6 255.6,288.6 251.8,286.6M256.3,275.0 256.4,273.1 260.4,272.1 268.4,272.1 274.6,269.2 274.6,268.3M278.6,268.3 278.6,269.2 284.5,271.1 292.5,271.1 298.6,269.2 300.7,268.3 302.6,269.2 308.3,272.1 316.3,272.1 320.2,273.1 321.6,276.9 318.9,280.8 320.0,284.7 321.7,285.6 327.5,285.6M361.5,250.3 365.7,252.2 369.6,250.3 369.2,246.6 365.1,245.6 361.2,246.6 361.5,250.3M377.3,246.6 377.6,250.3 377.8,254.1 377.8,257.9 377.6,261.7 377.3,265.4M151.2,236.1 149.1,237.0 144.8,238.9 144.4,242.8 144.0,246.6 139.9,247.5 131.9,247.5 123.8,248.4 115.7,248.4 111.8,246.6 107.9,245.6 99.9,245.6 91.8,245.6 87.7,246.6 87.4,250.3 87.2,254.1 87.2,257.9 87.4,261.7 87.7,265.4 92.0,267.3 100.0,267.3 108.0,267.3 116.1,267.3 124.1,267.3 132.1,267.3 140.2,267.3 148.3,268.3 156.3,268.3 158.4,269.2 164.5,271.1M150.4,229.3 148.1,231.2 149.7,233.2M209.0,229.3 205.1,229.3 197.3,229.3 193.6,227.3 194.1,223.4 198.1,221.4 200.3,219.4 200.8,215.4 201.5,211.2 201.6,210.2M170.0,219.4 167.8,220.4M232.5,213.3 232.5,215.4 228.7,218.4 224.9,219.4 224.9,221.4M245.0,207.0 243.3,209.1M322.7,209.1 329.9,209.1 332.3,207.0 329.3,202.7 324.3,200.4" fill="none" stroke="#000" stroke-width="0.9" stroke-dasharray="3,2"/>
<path d="M198.5,311.6 201.9,311.6 204.8,309.3 204.0,305.0 207.2,302.9 208.8,300.8 210.1,296.6 211.7,292.6 213.4,290.6 217.1,288.6 220.9,286.6 224.7,284.7 224.6,280.8 224.6,276.9 224.5,273.1 228.5,271.1M260.7,263.6 268.7,263.6M288.9,263.6 292.9,263.6 301.0,263.6 309.0,263.6 317.1,263.6 321.2,261.7 321.3,257.9 318.6,257.3M212.5,240.9 204.5,240.9 196.5,240.9 188.6,239.9 180.6,239.9 176.7,238.9 177.1,235.1 177.5,231.2 173.9,229.3 170.3,227.3 166.8,225.4M161.0,237.0 160.7,238.9 160.4,242.8 164.2,244.7 168.1,246.6 164.0,248.4 156.0,248.4 147.9,249.4 143.8,250.3 143.7,254.1 143.7,257.9 147.8,259.8 151.9,261.7 156.0,263.6 164.0,263.6M179.9,217.4 183.6,217.4 187.8,215.4 186.1,214.3M253.9,207.0 254.4,211.2 250.9,213.3 243.6,214.3 240.0,215.4 236.2,216.4 232.5,219.4 234.4,222.4" fill="none" stroke="#000" stroke-width="0.9"/>
<path d="M205.8,290.6 207.5,288.6 209.2,284.7 213.0,282.7 214.8,280.8 212.8,278.8M212.5,271.1 214.5,269.2 214.4,265.4 214.4,261.7 216.4,257.9 214.3,254.1 214.3,251.3M208.3,248.4 208.3,250.3 204.3,252.2 200.2,250.3 196.3,248.4 192.3,246.6 188.3,244.7 180.3,244.7 178.2,246.6 178.2,247.5M260.3,237.0 264.2,235.1 263.9,231.2 259.9,229.3M263.4,210.2 263.5,211.2 263.7,212.3" fill="none" stroke="#000" stroke-width="0.9"/>

<path d="M159.8,332.1 145.4,330.6 131.6,326.1 333.4,326.1 319.6,330.6 305.2,332.1ZM187.6,326.1 185.5,323.7 183.4,320.9 189.5,320.9 191.3,323.7 193.3,326.1ZM243.7,326.1 244.3,323.7 244.8,320.9 306.2,320.9 303.1,323.7 299.8,326.1ZM312.3,320.9 314.8,318.6 317.2,316.1 323.7,316.1 321.1,318.6 318.5,320.9ZM186.9,316.1 185.9,313.9 184.9,311.6 198.5,311.6 199.2,313.9 199.9,316.1ZM291.1,316.1 292.4,313.9 293.7,311.6 320.9,311.6 319.0,313.9 317.2,316.1ZM184.9,311.6 184.1,309.4 183.3,307.1 190.3,307.1 191.0,309.4 191.7,311.6ZM293.7,311.6 294.7,309.4 295.7,307.1 323.9,307.1 322.4,309.4 320.9,311.6ZM183.3,307.1 182.6,305.0 182.0,302.9 189.2,302.9 189.8,305.0 190.3,307.1ZM295.7,307.1 296.6,305.0 297.5,302.9 333.6,302.9 332.2,305.0 330.9,307.1ZM182.0,302.9 181.4,300.8 180.8,298.7 195.6,298.7 196.0,300.8 196.4,302.9ZM232.5,302.9 232.5,300.8 232.5,298.7 239.9,298.7 239.8,300.8 239.7,302.9ZM304.7,302.9 305.5,300.8 306.3,298.7 335.8,298.7 334.7,300.8 333.6,302.9ZM180.8,298.7 180.3,296.7 179.9,294.6 194.9,294.6 195.2,296.7 195.6,298.7ZM232.5,298.7 232.5,296.7 232.5,294.6 247.5,294.6 247.4,296.7 247.3,298.7ZM313.7,298.7 314.5,296.7 315.2,294.6 330.2,294.6 329.4,296.7 328.4,298.7ZM179.9,294.6 179.5,292.6 179.1,290.6 202.0,290.6 202.2,292.6 202.4,294.6ZM232.5,294.6 232.5,292.6 232.5,290.6 247.8,290.6 247.7,292.6 247.5,294.6ZM322.7,294.6 323.4,292.6 324.1,290.6 331.7,290.6 331.0,292.6 330.2,294.6ZM179.1,290.6 178.7,288.6 178.4,286.6 201.6,286.6 201.8,288.6 202.0,290.6ZM232.5,290.6 232.5,288.6 232.5,286.6 248.0,286.6 247.9,288.6 247.8,290.6ZM324.1,290.6 324.7,288.6 325.3,286.6 333.0,286.6 332.4,288.6 331.7,290.6ZM178.4,286.6 178.1,284.7 177.8,282.7 201.2,282.7 201.4,284.7 201.6,286.6ZM232.5,286.6 232.5,284.7 232.5,282.7 248.1,282.7 248.1,284.7 248.0,286.6ZM177.8,282.7 177.5,280.8 177.3,278.8 208.8,278.8 208.9,280.8 209.0,282.7ZM232.5,282.7 232.5,280.8 232.5,278.8 256.2,278.8 256.1,280.8 256.0,282.7ZM177.3,278.8 177.1,276.9 176.9,275.0 208.7,275.0 208.7,276.9 208.8,278.8ZM232.5,278.8 232.5,276.9 232.5,275.0 256.3,275.0 256.3,276.9 256.2,278.8ZM168.9,275.0 168.7,273.1 168.5,271.1 208.5,271.1 208.6,273.1 208.7,275.0ZM232.5,275.0 232.5,273.1 232.5,271.1 248.5,271.1 248.4,273.1 248.4,275.0ZM168.5,271.1 168.4,269.2 168.3,267.3 208.4,267.3 208.5,269.2 208.5,271.1ZM232.5,271.1 232.5,269.2 232.5,267.3 248.6,267.3 248.5,269.2 248.5,271.1ZM168.3,267.3 168.2,265.5 168.1,263.6 208.3,263.6 208.4,265.5 208.4,267.3ZM232.5,267.3 232.5,265.5 232.5,263.6 256.7,263.6 256.6,265.5 256.6,267.3ZM272.6,267.3 272.7,265.5 272.8,263.6 280.8,263.6 280.8,265.5 280.7,267.3ZM168.1,263.6 168.0,261.7 167.9,259.8 200.2,259.8 200.2,261.7 200.3,263.6ZM224.4,263.6 224.4,261.7 224.4,259.8 256.7,259.8 256.7,261.7 256.7,263.6ZM272.8,263.6 272.8,261.7 272.9,259.8 289.0,259.8 288.9,261.7 288.9,263.6ZM167.9,259.8 167.9,257.9 167.9,256.0 200.2,256.0 200.2,257.9 200.2,259.8ZM224.4,259.8 224.4,257.9 224.4,256.0 256.7,256.0 256.7,257.9 256.7,259.8ZM272.9,259.8 272.9,257.9 272.9,256.0 289.0,256.0 289.0,257.9 289.0,259.8ZM167.9,256.0 167.9,254.1 167.9,252.2 192.1,252.2 192.1,254.1 192.1,256.0ZM224.4,256.0 224.4,254.1 224.4,252.2 256.7,252.2 256.7,254.1 256.7,256.0ZM272.9,256.0 272.9,254.1 272.9,252.2 289.0,252.2 289.0,254.1 289.0,256.0ZM313.2,256.0 313.2,254.1 313.2,252.2 321.3,252.2 321.3,254.1 321.3,256.0ZM176.0,252.2 176.1,250.3 176.1,248.4 184.2,248.4 184.1,250.3 184.1,252.2ZM216.4,252.2 216.4,250.3 216.4,248.4 256.7,248.4 256.7,250.3 256.7,252.2ZM272.9,252.2 272.8,250.3 272.8,248.4 288.9,248.4 288.9,250.3 289.0,252.2ZM305.1,252.2 305.1,250.3 305.0,248.4 321.1,248.4 321.2,250.3 321.3,252.2ZM208.3,248.4 208.4,246.5 208.4,244.7 256.6,244.7 256.6,246.5 256.7,248.4ZM272.8,248.4 272.7,246.5 272.6,244.7 288.7,244.7 288.8,246.5 288.9,248.4ZM305.0,248.4 304.9,246.5 304.8,244.7 320.8,244.7 321.0,246.5 321.1,248.4ZM216.4,244.7 216.5,242.8 216.5,240.9 256.5,240.9 256.5,242.8 256.6,244.7ZM296.7,244.7 296.6,242.8 296.5,240.9 320.4,240.9 320.6,242.8 320.8,244.7ZM216.5,240.9 216.6,238.9 216.6,237.0 256.3,237.0 256.4,238.9 256.5,240.9ZM288.5,240.9 288.3,238.9 288.1,237.0 312.0,237.0 312.2,238.9 312.4,240.9ZM153.0,237.0 153.3,235.1 153.6,233.2 161.5,233.2 161.2,235.1 161.0,237.0ZM208.7,237.0 208.7,235.1 208.8,233.2 256.2,233.2 256.3,235.1 256.3,237.0ZM280.2,237.0 280.0,235.1 279.8,233.2 311.4,233.2 311.7,235.1 312.0,237.0ZM153.6,233.2 153.9,231.2 154.3,229.3 162.1,229.3 161.8,231.2 161.5,233.2ZM208.8,233.2 208.9,231.2 209.0,229.3 256.0,229.3 256.1,231.2 256.2,233.2ZM271.9,233.2 271.8,231.2 271.6,229.3 310.7,229.3 311.1,231.2 311.4,233.2ZM154.3,229.3 154.7,227.3 155.2,225.4 162.9,225.4 162.5,227.3 162.1,229.3ZM216.9,229.3 216.9,227.3 217.0,225.4 232.5,225.4 232.5,227.3 232.5,229.3ZM248.1,229.3 248.1,227.3 248.0,225.4 255.7,225.4 255.8,227.3 256.0,229.3ZM271.6,229.3 271.4,227.3 271.2,225.4 317.6,225.4 318.1,227.3 318.5,229.3ZM155.2,225.4 155.6,223.4 156.2,221.4 163.8,221.4 163.3,223.4 162.9,225.4ZM224.8,225.4 224.8,223.4 224.9,221.4 232.5,221.4 232.5,223.4 232.5,225.4ZM271.2,225.4 270.9,223.4 270.7,221.4 316.5,221.4 317.0,223.4 317.6,225.4ZM148.5,221.4 149.2,219.4 149.8,217.4 164.8,217.4 164.3,219.4 163.8,221.4ZM263.0,221.4 262.8,219.4 262.6,217.4 315.2,217.4 315.8,219.4 316.5,221.4ZM149.8,217.4 150.5,215.3 151.3,213.3 180.8,213.3 180.3,215.3 179.9,217.4ZM217.5,217.4 217.6,215.3 217.7,213.3 225.1,213.3 225.0,215.3 225.0,217.4ZM262.6,217.4 262.3,215.3 262.0,213.3 313.7,213.3 314.5,215.3 315.2,217.4ZM151.3,213.3 152.2,211.2 153.1,209.1 189.2,209.1 188.7,211.2 188.2,213.3ZM232.5,213.3 232.5,211.2 232.5,209.1 239.7,209.1 239.8,211.2 239.9,213.3ZM269.4,213.3 269.0,211.2 268.6,209.1 319.1,209.1 320.1,211.2 321.1,213.3ZM153.1,209.1 154.1,207.0 155.2,204.9 204.4,204.9 204.0,207.0 203.6,209.1ZM218.1,209.1 218.3,207.0 218.4,204.9 239.5,204.9 239.6,207.0 239.7,209.1ZM261.4,209.1 261.0,207.0 260.6,204.9 316.8,204.9 318.0,207.0 319.1,209.1ZM148.2,204.9 149.5,202.6 150.9,200.4 198.5,200.4 197.9,202.6 197.4,204.9ZM218.4,204.9 218.7,202.6 218.9,200.4 320.9,200.4 322.4,202.6 323.9,204.9ZM150.9,200.4 152.6,198.1 154.4,195.9 199.9,195.9 199.2,198.1 198.5,200.4ZM212.1,200.4 212.5,198.1 213.0,195.9 317.2,195.9 319.0,198.1 320.9,200.4ZM154.4,195.9 156.5,193.4 158.8,191.1 318.5,191.1 321.1,193.4 323.7,195.9ZM134.2,191.1 138.4,188.3 142.8,185.9 260.5,185.9 261.9,188.3 263.2,191.1ZM269.4,191.1 267.8,188.3 266.1,185.9 322.2,185.9 326.6,188.3 330.8,191.1ZM131.6,185.9 145.4,181.4 159.8,179.9 176.0,179.9 164.8,181.4 154.0,185.9ZM260.5,185.9 256.7,181.4 252.7,179.9 305.2,179.9 319.6,181.4 333.4,185.9Z" fill="#fff"/>
<path d="M131.6,326.1 187.6,326.1M193.3,326.1 243.7,326.1M299.8,326.1 333.4,326.1M183.4,320.9 189.5,320.9M244.8,320.9 306.2,320.9M312.3,320.9 318.5,320.9M186.9,316.1 199.9,316.1M291.1,316.1 323.7,316.1M191.7,311.6 198.5,311.6M323.9,307.1 330.9,307.1M189.2,302.9 196.4,302.9M232.5,302.9 239.7,302.9M297.5,302.9 304.7,302.9M239.9,298.7 247.3,298.7M306.3,298.7 313.7,298.7M328.4,298.7 335.8,298.7M194.9,294.6 202.4,294.6M315.2,294.6 322.7,294.6M325.3,286.6 333.0,286.6M201.2,282.7 209.0,282.7M248.1,282.7 256.0,282.7M168.9,275.0 176.9,275.0M248.4,275.0 256.3,275.0M248.6,267.3 256.6,267.3M272.6,267.3 280.7,267.3M200.3,263.6 208.3,263.6M224.4,263.6 232.5,263.6M280.8,263.6 288.9,263.6M192.1,256.0 200.2,256.0M313.2,256.0 321.3,256.0M167.9,252.2 176.0,252.2M184.1,252.2 192.1,252.2M216.4,252.2 224.4,252.2M305.1,252.2 313.2,252.2M176.1,248.4 184.2,248.4M208.3,248.4 216.4,248.4M208.4,244.7 216.4,244.7M272.6,244.7 288.7,244.7M296.7,244.7 304.8,244.7M288.5,240.9 296.5,240.9M312.4,240.9 320.4,240.9M153.0,237.0 161.0,237.0M208.7,237.0 216.6,237.0M280.2,237.0 288.1,237.0M271.9,233.2 279.8,233.2M209.0,229.3 216.9,229.3M232.5,229.3 248.1,229.3M310.7,229.3 318.5,229.3M217.0,225.4 224.8,225.4M248.0,225.4 255.7,225.4M148.5,221.4 156.2,221.4M224.9,221.4 232.5,221.4M263.0,221.4 270.7,221.4M164.8,217.4 179.9,217.4M217.5,217.4 225.0,217.4M180.8,213.3 188.2,213.3M217.7,213.3 225.1,213.3M232.5,213.3 239.9,213.3M262.0,213.3 269.4,213.3M313.7,213.3 321.1,213.3M189.2,209.1 203.6,209.1M218.1,209.1 232.5,209.1M261.4,209.1 268.6,209.1M148.2,204.9 155.2,204.9M197.4,204.9 204.4,204.9M239.5,204.9 260.6,204.9M316.8,204.9 323.9,204.9M212.1,200.4 218.9,200.4M199.9,195.9 213.0,195.9M317.2,195.9 323.7,195.9M134.2,191.1 158.8,191.1M263.2,191.1 269.4,191.1M318.5,191.1 330.8,191.1M131.6,185.9 142.8,185.9M154.0,185.9 266.1,185.9M322.2,185.9 333.4,185.9M134.2,191.1 138.4,188.3 142.8,185.9M154.0,185.9 164.8,181.4 176.0,179.9M148.2,204.9 149.5,202.6 150.9,200.4 152.6,198.1 154.4,195.9 156.5,193.4 158.8,191.1M148.5,221.4 149.2,219.4 149.8,217.4 150.5,215.3 151.3,213.3 152.2,211.2 153.1,209.1 154.1,207.0 155.2,204.9M153.0,237.0 153.3,235.1 153.6,233.2 153.9,231.2 154.3,229.3 154.7,227.3 155.2,225.4 155.6,223.4 156.2,221.4M161.0,237.0 161.2,235.1 161.5,233.2 161.8,231.2 162.1,229.3 162.5,227.3 162.9,225.4 163.3,223.4 163.8,221.4 164.3,219.4 164.8,217.4M187.6,326.1 185.5,323.7 183.4,320.9M168.9,275.0 168.7,273.1 168.5,271.1 168.4,269.2 168.3,267.3 168.2,265.5 168.1,263.6 168.0,261.7 167.9,259.8 167.9,257.9 167.9,256.0 167.9,254.1 167.9,252.2M193.3,326.1 191.3,323.7 189.5,320.9M186.9,316.1 185.9,313.9 184.9,311.6 184.1,309.4 183.3,307.1 182.6,305.0 182.0,302.9 181.4,300.8 180.8,298.7 180.3,296.7 179.9,294.6 179.5,292.6 179.1,290.6 178.7,288.6 178.4,286.6 178.1,284.7 177.8,282.7 177.5,280.8 177.3,278.8 177.1,276.9 176.9,275.0M176.0,252.2 176.1,250.3 176.1,248.4M179.9,217.4 180.3,215.3 180.8,213.3M191.7,311.6 191.0,309.4 190.3,307.1 189.8,305.0 189.2,302.9M184.1,252.2 184.1,250.3 184.2,248.4M188.2,213.3 188.7,211.2 189.2,209.1M199.9,316.1 199.2,313.9 198.5,311.6M196.4,302.9 196.0,300.8 195.6,298.7 195.2,296.7 194.9,294.6M192.1,256.0 192.1,254.1 192.1,252.2M197.4,204.9 197.9,202.6 198.5,200.4 199.2,198.1 199.9,195.9M202.4,294.6 202.2,292.6 202.0,290.6 201.8,288.6 201.6,286.6 201.4,284.7 201.2,282.7M200.3,263.6 200.2,261.7 200.2,259.8 200.2,257.9 200.2,256.0M203.6,209.1 204.0,207.0 204.4,204.9M209.0,282.7 208.9,280.8 208.8,278.8 208.7,276.9 208.7,275.0 208.6,273.1 208.5,271.1 208.5,269.2 208.4,267.3 208.4,265.5 208.3,263.6M208.3,248.4 208.4,246.5 208.4,244.7M208.7,237.0 208.7,235.1 208.8,233.2 208.9,231.2 209.0,229.3M212.1,200.4 212.5,198.1 213.0,195.9M216.4,252.2 216.4,250.3 216.4,248.4M216.4,244.7 216.5,242.8 216.5,240.9 216.6,238.9 216.6,237.0M216.9,229.3 216.9,227.3 217.0,225.4M217.5,217.4 217.6,215.3 217.7,213.3M218.1,209.1 218.3,207.0 218.4,204.9 218.7,202.6 218.9,200.4M224.4,263.6 224.4,261.7 224.4,259.8 224.4,257.9 224.4,256.0 224.4,254.1 224.4,252.2M224.8,225.4 224.8,223.4 224.9,221.4M225.0,217.4 225.0,215.3 225.1,213.3M232.5,302.9 232.5,300.8 232.5,298.7 232.5,296.7 232.5,294.6 232.5,292.6 232.5,290.6 232.5,288.6 232.5,286.6 232.5,284.7 232.5,282.7 232.5,280.8 232.5,278.8 232.5,276.9 232.5,275.0 232.5,273.1 232.5,271.1 232.5,269.2 232.5,267.3 232.5,265.5 232.5,263.6M232.5,229.3 232.5,227.3 232.5,225.4 232.5,223.4 232.5,221.4M232.5,213.3 232.5,211.2 232.5,209.1M239.7,302.9 239.8,300.8 239.9,298.7M239.9,213.3 239.8,211.2 239.7,209.1 239.6,207.0 239.5,204.9M243.7,326.1 244.3,323.7 244.8,320.9M247.3,298.7 247.4,296.7 247.5,294.6 247.7,292.6 247.8,290.6 247.9,288.6 248.0,286.6 248.1,284.7 248.1,282.7M248.4,275.0 248.4,273.1 248.5,271.1 248.5,269.2 248.6,267.3M248.1,229.3 248.1,227.3 248.0,225.4M256.0,282.7 256.1,280.8 256.2,278.8 256.3,276.9 256.3,275.0M256.6,267.3 256.6,265.5 256.7,263.6 256.7,261.7 256.7,259.8 256.7,257.9 256.7,256.0 256.7,254.1 256.7,252.2 256.7,250.3 256.7,248.4 256.6,246.5 256.6,244.7 256.5,242.8 256.5,240.9 256.4,238.9 256.3,237.0 256.3,235.1 256.2,233.2 256.1,231.2 256.0,229.3 255.8,227.3 255.7,225.4M263.0,221.4 262.8,219.4 262.6,217.4 262.3,215.3 262.0,213.3M261.4,209.1 261.0,207.0 260.6,204.9M272.6,267.3 272.7,265.5 272.8,263.6 272.8,261.7 272.9,259.8 272.9,257.9 272.9,256.0 272.9,254.1 272.9,252.2 272.8,250.3 272.8,248.4 272.7,246.5 272.6,244.7M271.9,233.2 271.8,231.2 271.6,229.3 271.4,227.3 271.2,225.4 270.9,223.4 270.7,221.4M269.4,213.3 269.0,211.2 268.6,209.1M263.2,191.1 261.9,188.3 260.5,185.9 256.7,181.4 252.7,179.9M280.7,267.3 280.8,265.5 280.8,263.6M280.2,237.0 280.0,235.1 279.8,233.2M269.4,191.1 267.8,188.3 266.1,185.9M288.9,263.6 288.9,261.7 289.0,259.8 289.0,257.9 289.0,256.0 289.0,254.1 289.0,252.2 288.9,250.3 288.9,248.4 288.8,246.5 288.7,244.7M288.5,240.9 288.3,238.9 288.1,237.0M296.7,244.7 296.6,242.8 296.5,240.9M291.1,316.1 292.4,313.9 293.7,311.6 294.7,309.4 295.7,307.1 296.6,305.0 297.5,302.9M305.1,252.2 305.1,250.3 305.0,248.4 304.9,246.5 304.8,244.7M304.7,302.9 305.5,300.8 306.3,298.7M313.2,256.0 313.2,254.1 313.2,252.2M312.4,240.9 312.2,238.9 312.0,237.0 311.7,235.1 311.4,233.2 311.1,231.2 310.7,229.3M313.7,298.7 314.5,296.7 315.2,294.6M321.3,256.0 321.3,254.1 321.3,252.2 321.2,250.3 321.1,248.4 321.0,246.5 320.8,244.7 320.6,242.8 320.4,240.9M318.5,229.3 318.1,227.3 317.6,225.4 317.0,223.4 316.5,221.4 315.8,219.4 315.2,217.4 314.5,215.3 313.7,213.3M299.8,326.1 303.1,323.7 306.2,320.9M322.7,294.6 323.4,292.6 324.1,290.6 324.7,288.6 325.3,286.6M321.1,213.3 320.1,211.2 319.1,209.1 318.0,207.0 316.8,204.9M312.3,320.9 314.8,318.6 317.2,316.1 319.0,313.9 320.9,311.6 322.4,309.4 323.9,307.1M328.4,298.7 329.4,296.7 330.2,294.6 331.0,292.6 331.7,290.6 332.4,288.6 333.0,286.6M323.9,204.9 322.4,202.6 320.9,200.4 319.0,198.1 317.2,195.9M318.5,320.9 321.1,318.6 323.7,316.1M330.9,307.1 332.2,305.0 333.6,302.9 334.7,300.8 335.8,298.7M323.7,195.9 321.1,193.4 318.5,191.1M330.8,191.1 326.6,188.3 322.2,185.9" fill="none" stroke="#000" stroke-width="1.9" stroke-linecap="square"/>
</g>
<path d="M305.2,332.1 309.0,332.0 312.8,331.7 316.5,331.2 320.3,330.4 324.0,329.5 327.6,328.4 331.2,327.0 334.7,325.5 338.2,323.8 341.5,321.9 344.8,319.8 347.9,317.6 350.9,315.1 353.8,312.6 356.6,309.8 359.2,306.9 361.7,303.9 364.0,300.7 366.1,297.4 368.1,294.1 369.9,290.5 371.6,287.0 373.0,283.3 374.3,279.5 375.4,275.7 376.3,271.8 377.0,267.9 377.5,264.0 377.8,260.0 377.9,256.0 377.8,252.0 377.5,248.0 377.0,244.1 376.3,240.2 375.4,236.3 374.3,232.5 373.0,228.7 371.6,225.0 369.9,221.5 368.1,218.0 366.1,214.6 364.0,211.3 361.7,208.1 359.2,205.1 356.6,202.2 353.8,199.4 350.9,196.9 347.9,194.4 344.8,192.2 341.5,190.1 338.2,188.2 334.7,186.5 331.2,185.0 327.6,183.6 324.0,182.5 320.3,181.6 316.5,180.8 312.8,180.3 309.0,180.0 305.2,179.9 159.8,179.9 156.0,180.0 152.2,180.3 148.5,180.8 144.7,181.6 141.0,182.5 137.4,183.6 133.8,185.0 130.3,186.5 126.8,188.2 123.5,190.1 120.2,192.2 117.1,194.4 114.1,196.9 111.2,199.4 108.4,202.2 105.8,205.1 103.3,208.1 101.0,211.3 98.9,214.6 96.9,217.9 95.1,221.5 93.4,225.0 92.0,228.7 90.7,232.5 89.6,236.3 88.7,240.2 88.0,244.1 87.5,248.0 87.2,252.0 87.2,256.0 87.2,260.0 87.5,264.0 88.0,267.9 88.7,271.8 89.6,275.7 90.7,279.5 92.0,283.3 93.4,287.0 95.1,290.5 96.9,294.0 98.9,297.4 101.0,300.7 103.3,303.9 105.8,306.9 108.4,309.8 111.2,312.6 114.1,315.1 117.1,317.6 120.2,319.8 123.5,321.9 126.8,323.8 130.3,325.5 133.8,327.0 137.4,328.4 141.0,329.5 144.7,330.4 148.5,331.2 152.2,331.7 156.0,332.0 159.8,332.1Z" fill="none" stroke="#000" stroke-width="2.1"/>
<clipPath id="c538_256"><path d="M610.7,332.1 614.5,332.0 618.3,331.7 622.0,331.2 625.8,330.4 629.5,329.5 633.1,328.4 636.7,327.0 640.2,325.5 643.7,323.8 647.0,321.9 650.3,319.8 653.4,317.6 656.4,315.1 659.3,312.6 662.1,309.8 664.7,306.9 667.2,303.9 669.5,300.7 671.6,297.4 673.6,294.1 675.4,290.5 677.1,287.0 678.5,283.3 679.8,279.5 680.9,275.7 681.8,271.8 682.5,267.9 683.0,264.0 683.3,260.0 683.4,256.0 683.3,252.0 683.0,248.0 682.5,244.1 681.8,240.2 680.9,236.3 679.8,232.5 678.5,228.7 677.1,225.0 675.4,221.5 673.6,218.0 671.6,214.6 669.5,211.3 667.2,208.1 664.7,205.1 662.1,202.2 659.3,199.4 656.4,196.9 653.4,194.4 650.3,192.2 647.0,190.1 643.7,188.2 640.2,186.5 636.7,185.0 633.1,183.6 629.5,182.5 625.8,181.6 622.0,180.8 618.3,180.3 614.5,180.0 610.7,179.9 465.3,179.9 461.5,180.0 457.7,180.3 454.0,180.8 450.2,181.6 446.5,182.5 442.9,183.6 439.3,185.0 435.8,186.5 432.3,188.2 429.0,190.1 425.7,192.2 422.6,194.4 419.6,196.9 416.7,199.4 413.9,202.2 411.3,205.1 408.8,208.1 406.5,211.3 404.4,214.6 402.4,217.9 400.6,221.5 398.9,225.0 397.5,228.7 396.2,232.5 395.1,236.3 394.2,240.2 393.5,244.1 393.0,248.0 392.7,252.0 392.6,256.0 392.7,260.0 393.0,264.0 393.5,267.9 394.2,271.8 395.1,275.7 396.2,279.5 397.5,283.3 398.9,287.0 400.6,290.5 402.4,294.0 404.4,297.4 406.5,300.7 408.8,303.9 411.3,306.9 413.9,309.8 416.7,312.6 419.6,315.1 422.6,317.6 425.7,319.8 429.0,321.9 432.3,323.8 435.8,325.5 439.3,327.0 442.9,328.4 446.5,329.5 450.2,330.4 454.0,331.2 457.7,331.7 461.5,332.0 465.3,332.1Z"/></clipPath>
<g clip-path="url(#c538_256)">
<path d="M610.7,332.1 614.5,332.0 618.3,331.7 622.0,331.2 625.8,330.4 629.5,329.5 633.1,328.4 636.7,327.0 640.2,325.5 643.7,323.8 647.0,321.9 650.3,319.8 653.4,317.6 656.4,315.1 659.3,312.6 662.1,309.8 664.7,306.9 667.2,303.9 669.5,300.7 671.6,297.4 673.6,294.1 675.4,290.5 677.1,287.0 678.5,283.3 679.8,279.5 680.9,275.7 681.8,271.8 682.5,267.9 683.0,264.0 683.3,260.0 683.4,256.0 683.3,252.0 683.0,248.0 682.5,244.1 681.8,240.2 680.9,236.3 679.8,232.5 678.5,228.7 677.1,225.0 675.4,221.5 673.6,218.0 671.6,214.6 669.5,211.3 667.2,208.1 664.7,205.1 662.1,202.2 659.3,199.4 656.4,196.9 653.4,194.4 650.3,192.2 647.0,190.1 643.7,188.2 640.2,186.5 636.7,185.0 633.1,183.6 629.5,182.5 625.8,181.6 622.0,180.8 618.3,180.3 614.5,180.0 610.7,179.9 465.3,179.9 461.5,180.0 457.7,180.3 454.0,180.8 450.2,181.6 446.5,182.5 442.9,183.6 439.3,185.0 435.8,186.5 432.3,188.2 429.0,190.1 425.7,192.2 422.6,194.4 419.6,196.9 416.7,199.4 413.9,202.2 411.3,205.1 408.8,208.1 406.5,211.3 404.4,214.6 402.4,217.9 400.6,221.5 398.9,225.0 397.5,228.7 396.2,232.5 395.1,236.3 394.2,240.2 393.5,244.1 393.0,248.0 392.7,252.0 392.6,256.0 392.7,260.0 393.0,264.0 393.5,267.9 394.2,271.8 395.1,275.7 396.2,279.5 397.5,283.3 398.9,287.0 400.6,290.5 402.4,294.0 404.4,297.4 406.5,300.7 408.8,303.9 411.3,306.9 413.9,309.8 416.7,312.6 419.6,315.1 422.6,317.6 425.7,319.8 429.0,321.9 432.3,323.8 435.8,325.5 439.3,327.0 442.9,328.4 446.5,329.5 450.2,330.4 454.0,331.2 457.7,331.7 461.5,332.0 465.3,332.1Z" fill="#8b8bca"/>
<path d="M482.7,320.9 481.0,318.6 479.4,316.1 492.4,316.1 493.7,318.6 495.0,320.9ZM479.4,316.1 478.1,313.9 476.8,311.6 490.4,311.6 491.4,313.9 492.4,316.1ZM483.6,311.6 482.7,309.4 481.8,307.1 488.8,307.1 489.6,309.4 490.4,311.6Z" fill="#5d5db5"/>
<path d="M570.1,244.7 570.1,242.8 570.0,240.9 578.0,240.9 578.1,242.8 578.1,244.7ZM570.0,240.9 569.9,238.9 569.8,237.0 577.7,237.0 577.9,238.9 578.0,240.9ZM569.8,237.0 569.7,235.1 569.6,233.2 577.4,233.2 577.6,235.1 577.7,237.0ZM569.6,233.2 569.4,231.2 569.3,229.3 577.1,229.3 577.3,231.2 577.4,233.2ZM561.5,229.3 561.3,227.3 561.2,225.4 576.7,225.4 576.9,227.3 577.1,229.3ZM545.7,225.4 545.7,223.4 545.6,221.4 553.3,221.4 553.4,223.4 553.5,225.4ZM561.2,225.4 561.1,223.4 560.9,221.4 568.5,221.4 568.7,223.4 568.9,225.4ZM545.6,221.4 545.6,219.4 545.5,217.4 553.0,217.4 553.2,219.4 553.3,221.4ZM560.9,221.4 560.7,219.4 560.6,217.4 568.1,217.4 568.3,219.4 568.5,221.4Z" fill="#b9b9df"/>
<path d="M424.5,318.9H651.5M400.6,290.6H675.4M392.6,256.0H683.4M400.6,221.4H675.4M424.5,193.1H651.5M489.6,332.1 485.7,331.9 482.0,331.2 478.2,330.0 474.6,328.4 471.0,326.3 467.6,323.8 464.2,320.9 461.1,317.6 458.1,313.9 455.3,309.8 452.7,305.4 450.4,300.7 448.2,295.8 446.4,290.5 444.8,285.1 443.5,279.5 442.4,273.8 441.7,267.9 441.2,262.0 441.1,256.0 441.2,250.0 441.7,244.1 442.4,238.2 443.5,232.5 444.8,226.9 446.4,221.5 448.2,216.2 450.4,211.3 452.7,206.6 455.3,202.2 458.1,198.1 461.1,194.4 464.2,191.1 467.6,188.2 471.0,185.7 474.6,183.6 478.2,182.0 482.0,180.8 485.7,180.1 489.6,179.9M513.8,332.1 511.9,331.9 510.0,331.2 508.1,330.0 506.3,328.4 504.5,326.3 502.8,323.8 501.1,320.9 499.5,317.6 498.0,313.9 496.6,309.8 495.4,305.4 494.2,300.7 493.1,295.8 492.2,290.5 491.4,285.1 490.7,279.5 490.2,273.8 489.8,267.9 489.6,262.0 489.6,256.0 489.6,250.0 489.8,244.1 490.2,238.2 490.7,232.5 491.4,226.9 492.2,221.5 493.1,216.2 494.2,211.3 495.4,206.6 496.6,202.2 498.0,198.1 499.5,194.4 501.1,191.1 502.8,188.2 504.5,185.7 506.3,183.6 508.1,182.0 510.0,180.8 511.9,180.1 513.8,179.9M538.0,332.1 538.0,331.9 538.0,331.2 538.0,330.0 538.0,328.4 538.0,326.3 538.0,323.8 538.0,320.9 538.0,317.6 538.0,313.9 538.0,309.8 538.0,305.4 538.0,300.7 538.0,295.8 538.0,290.5 538.0,285.1 538.0,279.5 538.0,273.8 538.0,267.9 538.0,262.0 538.0,256.0 538.0,250.0 538.0,244.1 538.0,238.2 538.0,232.5 538.0,226.9 538.0,221.5 538.0,216.2 538.0,211.3 538.0,206.6 538.0,202.2 538.0,198.1 538.0,194.4 538.0,191.1 538.0,188.2 538.0,185.7 538.0,183.6 538.0,182.0 538.0,180.8 538.0,180.1 538.0,179.9M562.2,332.1 564.1,331.9 566.0,331.2 567.9,330.0 569.7,328.4 571.5,326.3 573.2,323.8 574.9,320.9 576.5,317.6 578.0,313.9 579.4,309.8 580.6,305.4 581.8,300.7 582.9,295.8 583.8,290.5 584.6,285.1 585.3,279.5 585.8,273.8 586.2,267.9 586.4,262.0 586.5,256.0 586.4,250.0 586.2,244.1 585.8,238.2 585.3,232.5 584.6,226.9 583.8,221.5 582.9,216.2 581.8,211.3 580.6,206.6 579.4,202.2 578.0,198.1 576.5,194.4 574.9,191.1 573.2,188.2 571.5,185.7 569.7,183.6 567.9,182.0 566.0,180.8 564.1,180.1 562.2,179.9M586.5,332.1 590.3,331.9 594.0,331.2 597.8,330.0 601.4,328.4 605.0,326.3 608.4,323.8 611.8,320.9 614.9,317.6 617.9,313.9 620.7,309.8 623.3,305.4 625.6,300.7 627.8,295.8 629.6,290.5 631.2,285.1 632.5,279.5 633.6,273.8 634.3,267.9 634.8,262.0 634.9,256.0 634.8,250.0 634.3,244.1 633.6,238.2 632.5,232.5 631.2,226.9 629.6,221.5 627.8,216.2 625.6,211.3 623.3,206.6 620.7,202.2 617.9,198.1 614.9,194.4 611.8,191.1 608.4,188.2 605.0,185.7 601.4,183.6 597.8,182.0 594.0,180.8 590.3,180.1 586.5,179.9" fill="none" stroke="#8f8f8f" stroke-opacity="0.9" stroke-width="0.8" stroke-dasharray="2.6,1.3"/>

<path d="M465.3,332.1 450.9,330.6 437.1,326.1 638.9,326.1 625.1,330.6 610.7,332.1ZM487.5,326.1 485.1,323.7 482.7,320.9 501.1,320.9 502.7,323.7 504.4,326.1ZM538.0,326.1 538.0,323.7 538.0,320.9 630.1,320.9 626.2,323.7 622.1,326.1ZM427.4,320.9 424.0,318.6 420.8,316.1 427.3,316.1 430.4,318.6 433.6,320.9ZM495.0,320.9 493.7,318.6 492.4,316.1 505.4,316.1 506.3,318.6 507.3,320.9ZM611.7,320.9 614.0,318.6 616.1,316.1 629.2,316.1 626.6,318.6 624.0,320.9ZM642.4,320.9 645.6,318.6 648.7,316.1 655.2,316.1 652.0,318.6 648.6,320.9ZM492.4,316.1 491.4,313.9 490.4,311.6 504.0,311.6 504.7,313.9 505.4,316.1ZM596.6,316.1 597.9,313.9 599.2,311.6 633.2,311.6 631.2,313.9 629.2,316.1ZM648.7,316.1 651.2,313.9 653.5,311.6 660.3,311.6 657.8,313.9 655.2,316.1ZM490.4,311.6 489.6,309.4 488.8,307.1 502.9,307.1 503.4,309.4 504.0,311.6ZM599.2,311.6 600.2,309.4 601.2,307.1 643.4,307.1 641.7,309.4 640.0,311.6ZM488.8,307.1 488.1,305.0 487.5,302.9 501.9,302.9 502.4,305.0 502.9,307.1ZM601.2,307.1 602.1,305.0 603.0,302.9 646.3,302.9 644.9,305.0 643.4,307.1ZM487.5,302.9 486.9,300.8 486.3,298.7 501.1,298.7 501.5,300.8 501.9,302.9ZM538.0,302.9 538.0,300.8 538.0,298.7 545.4,298.7 545.3,300.8 545.2,302.9ZM603.0,302.9 603.7,300.8 604.4,298.7 641.3,298.7 640.2,300.8 639.1,302.9ZM486.3,298.7 485.8,296.7 485.4,294.6 507.9,294.6 508.2,296.7 508.5,298.7ZM538.0,298.7 538.0,296.7 538.0,294.6 553.0,294.6 552.9,296.7 552.8,298.7ZM611.8,298.7 612.5,296.7 613.2,294.6 643.2,294.6 642.3,296.7 641.3,298.7ZM485.4,294.6 485.0,292.6 484.6,290.6 507.5,290.6 507.7,292.6 507.9,294.6ZM538.0,294.6 538.0,292.6 538.0,290.6 553.3,290.6 553.2,292.6 553.0,294.6ZM620.7,294.6 621.3,292.6 622.0,290.6 637.2,290.6 636.5,292.6 635.7,294.6ZM484.6,290.6 484.2,288.6 483.9,286.6 507.1,286.6 507.3,288.6 507.5,290.6ZM538.0,290.6 538.0,288.6 538.0,286.6 553.5,286.6 553.4,288.6 553.3,290.6ZM560.9,290.6 561.1,288.6 561.2,286.6 568.9,286.6 568.7,288.6 568.5,290.6ZM622.0,290.6 622.5,288.6 623.1,286.6 638.5,286.6 637.9,288.6 637.2,290.6ZM483.9,286.6 483.6,284.7 483.3,282.7 514.5,282.7 514.7,284.7 514.8,286.6ZM538.0,286.6 538.0,284.7 538.0,282.7 561.5,282.7 561.3,284.7 561.2,286.6ZM483.3,282.7 483.0,280.8 482.8,278.8 514.3,278.8 514.4,280.8 514.5,282.7ZM538.0,282.7 538.0,280.8 538.0,278.8 561.7,278.8 561.6,280.8 561.5,282.7ZM482.8,278.8 482.6,276.9 482.4,275.0 514.2,275.0 514.2,276.9 514.3,278.8ZM538.0,278.8 538.0,276.9 538.0,275.0 561.8,275.0 561.8,276.9 561.7,278.8ZM474.4,275.0 474.2,273.1 474.0,271.1 514.0,271.1 514.1,273.1 514.2,275.0ZM538.0,275.0 538.0,273.1 538.0,271.1 562.0,271.1 561.9,273.1 561.8,275.0ZM474.0,271.1 473.9,269.2 473.8,267.3 513.9,267.3 514.0,269.2 514.0,271.1ZM538.0,271.1 538.0,269.2 538.0,267.3 562.1,267.3 562.0,269.2 562.0,271.1ZM570.0,271.1 570.1,269.2 570.1,267.3 586.2,267.3 586.1,269.2 586.0,271.1ZM473.8,267.3 473.7,265.5 473.6,263.6 513.8,263.6 513.9,265.5 513.9,267.3ZM530.0,267.3 530.0,265.5 529.9,263.6 562.2,263.6 562.1,265.5 562.1,267.3ZM570.1,267.3 570.2,265.5 570.2,263.6 586.3,263.6 586.3,265.5 586.2,267.3ZM473.6,263.6 473.5,261.7 473.4,259.8 513.8,259.8 513.8,261.7 513.8,263.6ZM529.9,263.6 529.9,261.7 529.9,259.8 562.2,259.8 562.2,261.7 562.2,263.6ZM570.2,263.6 570.3,261.7 570.3,259.8 586.4,259.8 586.4,261.7 586.3,263.6ZM473.4,259.8 473.4,257.9 473.4,256.0 505.7,256.0 505.7,257.9 505.7,259.8ZM529.9,259.8 529.9,257.9 529.9,256.0 562.2,256.0 562.2,257.9 562.2,259.8ZM570.3,259.8 570.3,257.9 570.3,256.0 594.5,256.0 594.5,257.9 594.5,259.8ZM473.4,256.0 473.4,254.1 473.4,252.2 497.6,252.2 497.6,254.1 497.6,256.0ZM521.9,256.0 521.9,254.1 521.9,252.2 594.5,252.2 594.5,254.1 594.5,256.0ZM618.8,256.0 618.7,254.1 618.7,252.2 626.8,252.2 626.8,254.1 626.8,256.0ZM481.5,252.2 481.6,250.3 481.6,248.4 497.7,248.4 497.7,250.3 497.6,252.2ZM513.8,252.2 513.8,250.3 513.8,248.4 594.4,248.4 594.4,250.3 594.5,252.2ZM610.6,252.2 610.6,250.3 610.5,248.4 626.6,248.4 626.7,250.3 626.8,252.2ZM481.6,248.4 481.7,246.5 481.8,244.7 489.8,244.7 489.7,246.5 489.7,248.4ZM513.8,248.4 513.9,246.5 513.9,244.7 594.2,244.7 594.3,246.5 594.4,248.4ZM610.5,248.4 610.4,246.5 610.3,244.7 626.3,244.7 626.5,246.5 626.6,248.4ZM481.8,244.7 481.9,242.8 482.0,240.9 490.0,240.9 489.9,242.8 489.8,244.7ZM513.9,244.7 514.0,242.8 514.0,240.9 570.0,240.9 570.1,242.8 570.1,244.7ZM578.1,244.7 578.1,242.8 578.0,240.9 594.0,240.9 594.1,242.8 594.2,244.7ZM610.3,244.7 610.1,242.8 609.9,240.9 625.9,240.9 626.1,242.8 626.3,244.7ZM474.0,240.9 474.2,238.9 474.4,237.0 482.4,237.0 482.2,238.9 482.0,240.9ZM514.0,240.9 514.1,238.9 514.2,237.0 569.8,237.0 569.9,238.9 570.0,240.9ZM578.0,240.9 577.9,238.9 577.7,237.0 593.6,237.0 593.8,238.9 594.0,240.9ZM602.0,240.9 601.8,238.9 601.6,237.0 617.5,237.0 617.7,238.9 617.9,240.9ZM458.5,237.0 458.8,235.1 459.1,233.2 482.8,233.2 482.6,235.1 482.4,237.0ZM514.2,237.0 514.2,235.1 514.3,233.2 569.6,233.2 569.7,235.1 569.8,237.0ZM577.7,237.0 577.6,235.1 577.4,233.2 616.9,233.2 617.2,235.1 617.5,237.0ZM459.1,233.2 459.4,231.2 459.8,229.3 483.3,229.3 483.0,231.2 482.8,233.2ZM514.3,233.2 514.4,231.2 514.5,229.3 569.3,229.3 569.4,231.2 569.6,233.2ZM577.4,233.2 577.3,231.2 577.1,229.3 624.0,229.3 624.4,231.2 624.8,233.2ZM459.8,229.3 460.2,227.3 460.7,225.4 468.4,225.4 468.0,227.3 467.6,229.3ZM475.5,229.3 475.8,227.3 476.1,225.4 483.9,225.4 483.6,227.3 483.3,229.3ZM522.4,229.3 522.4,227.3 522.5,225.4 561.2,225.4 561.3,227.3 561.5,229.3ZM577.1,229.3 576.9,227.3 576.7,225.4 623.1,225.4 623.6,227.3 624.0,229.3ZM460.7,225.4 461.1,223.4 461.7,221.4 469.3,221.4 468.8,223.4 468.4,225.4ZM476.1,225.4 476.5,223.4 476.9,221.4 484.6,221.4 484.2,223.4 483.9,225.4ZM522.5,225.4 522.6,223.4 522.7,221.4 545.6,221.4 545.7,223.4 545.7,225.4ZM553.5,225.4 553.4,223.4 553.3,221.4 560.9,221.4 561.1,223.4 561.2,225.4ZM568.9,225.4 568.7,223.4 568.5,221.4 622.0,221.4 622.5,223.4 623.1,225.4ZM454.0,221.4 454.7,219.4 455.3,217.4 485.4,217.4 485.0,219.4 484.6,221.4ZM522.7,221.4 522.8,219.4 523.0,217.4 545.5,217.4 545.6,219.4 545.6,221.4ZM553.3,221.4 553.2,219.4 553.0,217.4 560.6,217.4 560.7,219.4 560.9,221.4ZM568.5,221.4 568.3,219.4 568.1,217.4 628.2,217.4 628.9,219.4 629.6,221.4ZM455.3,217.4 456.0,215.3 456.8,213.3 486.3,213.3 485.8,215.3 485.4,217.4ZM523.0,217.4 523.1,215.3 523.2,213.3 626.6,213.3 627.4,215.3 628.2,217.4ZM456.8,213.3 457.7,211.2 458.6,209.1 494.7,209.1 494.2,211.2 493.7,213.3ZM523.2,213.3 523.4,211.2 523.6,209.1 624.6,209.1 625.6,211.2 626.6,213.3ZM458.6,209.1 459.6,207.0 460.7,204.9 509.9,204.9 509.5,207.0 509.1,209.1ZM523.6,209.1 523.8,207.0 523.9,204.9 622.3,204.9 623.5,207.0 624.6,209.1ZM453.7,204.9 455.0,202.6 456.4,200.4 510.8,200.4 510.3,202.6 509.9,204.9ZM516.9,204.9 517.3,202.6 517.6,200.4 626.4,200.4 627.9,202.6 629.4,204.9ZM456.4,200.4 458.1,198.1 459.9,195.9 629.2,195.9 631.2,198.1 633.2,200.4ZM459.9,195.9 462.0,193.4 464.3,191.1 636.3,191.1 639.3,193.4 642.2,195.9ZM433.6,191.1 438.0,188.3 442.7,185.9 638.9,185.9 643.8,188.3 648.6,191.1ZM437.1,185.9 450.9,181.4 465.3,179.9 610.7,179.9 625.1,181.4 638.9,185.9Z" fill="#fff"/>
<path d="M437.1,326.1 487.5,326.1M504.4,326.1 538.0,326.1M622.1,326.1 638.9,326.1M427.4,320.9 433.6,320.9M482.7,320.9 495.0,320.9M501.1,320.9 507.3,320.9M538.0,320.9 611.7,320.9M624.0,320.9 630.1,320.9M642.4,320.9 648.6,320.9M420.8,316.1 427.3,316.1M596.6,316.1 616.1,316.1M633.2,311.6 640.0,311.6M653.5,311.6 660.3,311.6M538.0,302.9 545.2,302.9M639.1,302.9 646.3,302.9M501.1,298.7 508.5,298.7M545.4,298.7 552.8,298.7M604.4,298.7 611.8,298.7M613.2,294.6 620.7,294.6M635.7,294.6 643.2,294.6M560.9,290.6 568.5,290.6M507.1,286.6 514.8,286.6M553.5,286.6 568.9,286.6M623.1,286.6 638.5,286.6M474.4,275.0 482.4,275.0M570.0,271.1 586.0,271.1M530.0,267.3 538.0,267.3M505.7,259.8 513.8,259.8M586.4,259.8 594.5,259.8M497.6,256.0 505.7,256.0M521.9,256.0 529.9,256.0M562.2,256.0 570.3,256.0M618.8,256.0 626.8,256.0M473.4,252.2 481.5,252.2M513.8,252.2 521.9,252.2M610.6,252.2 618.7,252.2M489.7,248.4 497.7,248.4M570.1,244.7 578.1,244.7M474.0,240.9 490.0,240.9M602.0,240.9 609.9,240.9M617.9,240.9 625.9,240.9M458.5,237.0 474.4,237.0M593.6,237.0 601.6,237.0M616.9,233.2 624.8,233.2M467.6,229.3 475.5,229.3M514.5,229.3 522.4,229.3M561.5,229.3 569.3,229.3M545.7,225.4 553.5,225.4M568.9,225.4 576.7,225.4M454.0,221.4 461.7,221.4M469.3,221.4 476.9,221.4M622.0,221.4 629.6,221.4M545.5,217.4 553.0,217.4M560.6,217.4 568.1,217.4M486.3,213.3 493.7,213.3M494.7,209.1 509.1,209.1M453.7,204.9 460.7,204.9M516.9,204.9 523.9,204.9M622.3,204.9 629.4,204.9M510.8,200.4 517.6,200.4M626.4,200.4 633.2,200.4M629.2,195.9 642.2,195.9M433.6,191.1 464.3,191.1M636.3,191.1 648.6,191.1M437.1,185.9 442.7,185.9M433.6,320.9 430.4,318.6 427.3,316.1M433.6,191.1 438.0,188.3 442.7,185.9M453.7,204.9 455.0,202.6 456.4,200.4 458.1,198.1 459.9,195.9 462.0,193.4 464.3,191.1M454.0,221.4 454.7,219.4 455.3,217.4 456.0,215.3 456.8,213.3 457.7,211.2 458.6,209.1 459.6,207.0 460.7,204.9M458.5,237.0 458.8,235.1 459.1,233.2 459.4,231.2 459.8,229.3 460.2,227.3 460.7,225.4 461.1,223.4 461.7,221.4M487.5,326.1 485.1,323.7 482.7,320.9M467.6,229.3 468.0,227.3 468.4,225.4 468.8,223.4 469.3,221.4M474.4,275.0 474.2,273.1 474.0,271.1 473.9,269.2 473.8,267.3 473.7,265.5 473.6,263.6 473.5,261.7 473.4,259.8 473.4,257.9 473.4,256.0 473.4,254.1 473.4,252.2M474.0,240.9 474.2,238.9 474.4,237.0M475.5,229.3 475.8,227.3 476.1,225.4 476.5,223.4 476.9,221.4M495.0,320.9 493.7,318.6 492.4,316.1 491.4,313.9 490.4,311.6 489.6,309.4 488.8,307.1 488.1,305.0 487.5,302.9 486.9,300.8 486.3,298.7 485.8,296.7 485.4,294.6 485.0,292.6 484.6,290.6 484.2,288.6 483.9,286.6 483.6,284.7 483.3,282.7 483.0,280.8 482.8,278.8 482.6,276.9 482.4,275.0M481.5,252.2 481.6,250.3 481.6,248.4 481.7,246.5 481.8,244.7 481.9,242.8 482.0,240.9 482.2,238.9 482.4,237.0 482.6,235.1 482.8,233.2 483.0,231.2 483.3,229.3 483.6,227.3 483.9,225.4 484.2,223.4 484.6,221.4 485.0,219.4 485.4,217.4 485.8,215.3 486.3,213.3M504.4,326.1 502.7,323.7 501.1,320.9M489.7,248.4 489.7,246.5 489.8,244.7 489.9,242.8 490.0,240.9M493.7,213.3 494.2,211.2 494.7,209.1M507.3,320.9 506.3,318.6 505.4,316.1 504.7,313.9 504.0,311.6 503.4,309.4 502.9,307.1 502.4,305.0 501.9,302.9 501.5,300.8 501.1,298.7M497.6,256.0 497.6,254.1 497.6,252.2 497.7,250.3 497.7,248.4M508.5,298.7 508.2,296.7 507.9,294.6 507.7,292.6 507.5,290.6 507.3,288.6 507.1,286.6M505.7,259.8 505.7,257.9 505.7,256.0M509.1,209.1 509.5,207.0 509.9,204.9 510.3,202.6 510.8,200.4M514.8,286.6 514.7,284.7 514.5,282.7 514.4,280.8 514.3,278.8 514.2,276.9 514.2,275.0 514.1,273.1 514.0,271.1 514.0,269.2 513.9,267.3 513.9,265.5 513.8,263.6 513.8,261.7 513.8,259.8M513.8,252.2 513.8,250.3 513.8,248.4 513.9,246.5 513.9,244.7 514.0,242.8 514.0,240.9 514.1,238.9 514.2,237.0 514.2,235.1 514.3,233.2 514.4,231.2 514.5,229.3M516.9,204.9 517.3,202.6 517.6,200.4M521.9,256.0 521.9,254.1 521.9,252.2M522.4,229.3 522.4,227.3 522.5,225.4 522.6,223.4 522.7,221.4 522.8,219.4 523.0,217.4 523.1,215.3 523.2,213.3 523.4,211.2 523.6,209.1 523.8,207.0 523.9,204.9M530.0,267.3 530.0,265.5 529.9,263.6 529.9,261.7 529.9,259.8 529.9,257.9 529.9,256.0M538.0,326.1 538.0,323.7 538.0,320.9M538.0,302.9 538.0,300.8 538.0,298.7 538.0,296.7 538.0,294.6 538.0,292.6 538.0,290.6 538.0,288.6 538.0,286.6 538.0,284.7 538.0,282.7 538.0,280.8 538.0,278.8 538.0,276.9 538.0,275.0 538.0,273.1 538.0,271.1 538.0,269.2 538.0,267.3M545.2,302.9 545.3,300.8 545.4,298.7M545.7,225.4 545.7,223.4 545.6,221.4 545.6,219.4 545.5,217.4M552.8,298.7 552.9,296.7 553.0,294.6 553.2,292.6 553.3,290.6 553.4,288.6 553.5,286.6M553.5,225.4 553.4,223.4 553.3,221.4 553.2,219.4 553.0,217.4M560.9,290.6 561.1,288.6 561.2,286.6 561.3,284.7 561.5,282.7 561.6,280.8 561.7,278.8 561.8,276.9 561.8,275.0 561.9,273.1 562.0,271.1 562.0,269.2 562.1,267.3 562.1,265.5 562.2,263.6 562.2,261.7 562.2,259.8 562.2,257.9 562.2,256.0M561.5,229.3 561.3,227.3 561.2,225.4 561.1,223.4 560.9,221.4 560.7,219.4 560.6,217.4M568.5,290.6 568.7,288.6 568.9,286.6M570.0,271.1 570.1,269.2 570.1,267.3 570.2,265.5 570.2,263.6 570.3,261.7 570.3,259.8 570.3,257.9 570.3,256.0M570.1,244.7 570.1,242.8 570.0,240.9 569.9,238.9 569.8,237.0 569.7,235.1 569.6,233.2 569.4,231.2 569.3,229.3M568.9,225.4 568.7,223.4 568.5,221.4 568.3,219.4 568.1,217.4M578.1,244.7 578.1,242.8 578.0,240.9 577.9,238.9 577.7,237.0 577.6,235.1 577.4,233.2 577.3,231.2 577.1,229.3 576.9,227.3 576.7,225.4M586.0,271.1 586.1,269.2 586.2,267.3 586.3,265.5 586.3,263.6 586.4,261.7 586.4,259.8M594.5,259.8 594.5,257.9 594.5,256.0 594.5,254.1 594.5,252.2 594.4,250.3 594.4,248.4 594.3,246.5 594.2,244.7 594.1,242.8 594.0,240.9 593.8,238.9 593.6,237.0M602.0,240.9 601.8,238.9 601.6,237.0M596.6,316.1 597.9,313.9 599.2,311.6 600.2,309.4 601.2,307.1 602.1,305.0 603.0,302.9 603.7,300.8 604.4,298.7M610.6,252.2 610.6,250.3 610.5,248.4 610.4,246.5 610.3,244.7 610.1,242.8 609.9,240.9M611.8,298.7 612.5,296.7 613.2,294.6M618.8,256.0 618.7,254.1 618.7,252.2M617.9,240.9 617.7,238.9 617.5,237.0 617.2,235.1 616.9,233.2M620.7,294.6 621.3,292.6 622.0,290.6 622.5,288.6 623.1,286.6M626.8,256.0 626.8,254.1 626.8,252.2 626.7,250.3 626.6,248.4 626.5,246.5 626.3,244.7 626.1,242.8 625.9,240.9M624.8,233.2 624.4,231.2 624.0,229.3 623.6,227.3 623.1,225.4 622.5,223.4 622.0,221.4M611.7,320.9 614.0,318.6 616.1,316.1M629.6,221.4 628.9,219.4 628.2,217.4 627.4,215.3 626.6,213.3 625.6,211.2 624.6,209.1 623.5,207.0 622.3,204.9M635.7,294.6 636.5,292.6 637.2,290.6 637.9,288.6 638.5,286.6M629.4,204.9 627.9,202.6 626.4,200.4M624.0,320.9 626.6,318.6 629.2,316.1 631.2,313.9 633.2,311.6M639.1,302.9 640.2,300.8 641.3,298.7 642.3,296.7 643.2,294.6M633.2,200.4 631.2,198.1 629.2,195.9M622.1,326.1 626.2,323.7 630.1,320.9M640.0,311.6 641.7,309.4 643.4,307.1 644.9,305.0 646.3,302.9M642.2,195.9 639.3,193.4 636.3,191.1M642.4,320.9 645.6,318.6 648.7,316.1 651.2,313.9 653.5,311.6" fill="none" stroke="#000" stroke-width="1.9" stroke-linecap="square"/>
</g>
<path d="M610.7,332.1 614.5,332.0 618.3,331.7 622.0,331.2 625.8,330.4 629.5,329.5 633.1,328.4 636.7,327.0 640.2,325.5 643.7,323.8 647.0,321.9 650.3,319.8 653.4,317.6 656.4,315.1 659.3,312.6 662.1,309.8 664.7,306.9 667.2,303.9 669.5,300.7 671.6,297.4 673.6,294.1 675.4,290.5 677.1,287.0 678.5,283.3 679.8,279.5 680.9,275.7 681.8,271.8 682.5,267.9 683.0,264.0 683.3,260.0 683.4,256.0 683.3,252.0 683.0,248.0 682.5,244.1 681.8,240.2 680.9,236.3 679.8,232.5 678.5,228.7 677.1,225.0 675.4,221.5 673.6,218.0 671.6,214.6 669.5,211.3 667.2,208.1 664.7,205.1 662.1,202.2 659.3,199.4 656.4,196.9 653.4,194.4 650.3,192.2 647.0,190.1 643.7,188.2 640.2,186.5 636.7,185.0 633.1,183.6 629.5,182.5 625.8,181.6 622.0,180.8 618.3,180.3 614.5,180.0 610.7,179.9 465.3,179.9 461.5,180.0 457.7,180.3 454.0,180.8 450.2,181.6 446.5,182.5 442.9,183.6 439.3,185.0 435.8,186.5 432.3,188.2 429.0,190.1 425.7,192.2 422.6,194.4 419.6,196.9 416.7,199.4 413.9,202.2 411.3,205.1 408.8,208.1 406.5,211.3 404.4,214.6 402.4,217.9 400.6,221.5 398.9,225.0 397.5,228.7 396.2,232.5 395.1,236.3 394.2,240.2 393.5,244.1 393.0,248.0 392.7,252.0 392.6,256.0 392.7,260.0 393.0,264.0 393.5,267.9 394.2,271.8 395.1,275.7 396.2,279.5 397.5,283.3 398.9,287.0 400.6,290.5 402.4,294.0 404.4,297.4 406.5,300.7 408.8,303.9 411.3,306.9 413.9,309.8 416.7,312.6 419.6,315.1 422.6,317.6 425.7,319.8 429.0,321.9 432.3,323.8 435.8,325.5 439.3,327.0 442.9,328.4 446.5,329.5 450.2,330.4 454.0,331.2 457.7,331.7 461.5,332.0 465.3,332.1Z" fill="none" stroke="#000" stroke-width="2.1"/>
<clipPath id="c232_416"><path d="M305.2,492.4 309.0,492.3 312.8,492.0 316.5,491.5 320.3,490.7 324.0,489.8 327.6,488.7 331.2,487.3 334.7,485.8 338.2,484.1 341.5,482.2 344.8,480.1 347.9,477.9 350.9,475.4 353.8,472.9 356.6,470.1 359.2,467.2 361.7,464.2 364.0,461.0 366.1,457.7 368.1,454.4 369.9,450.8 371.6,447.3 373.0,443.6 374.3,439.8 375.4,436.0 376.3,432.1 377.0,428.2 377.5,424.3 377.8,420.3 377.9,416.3 377.8,412.3 377.5,408.3 377.0,404.4 376.3,400.5 375.4,396.6 374.3,392.8 373.0,389.0 371.6,385.3 369.9,381.8 368.1,378.2 366.1,374.9 364.0,371.6 361.7,368.4 359.2,365.4 356.6,362.5 353.8,359.7 350.9,357.2 347.9,354.7 344.8,352.5 341.5,350.4 338.2,348.5 334.7,346.8 331.2,345.3 327.6,343.9 324.0,342.8 320.3,341.9 316.5,341.1 312.8,340.6 309.0,340.3 305.2,340.2 159.8,340.2 156.0,340.3 152.2,340.6 148.5,341.1 144.7,341.9 141.0,342.8 137.4,343.9 133.8,345.3 130.3,346.8 126.8,348.5 123.5,350.4 120.2,352.5 117.1,354.7 114.1,357.2 111.2,359.7 108.4,362.5 105.8,365.4 103.3,368.4 101.0,371.6 98.9,374.9 96.9,378.2 95.1,381.8 93.4,385.3 92.0,389.0 90.7,392.8 89.6,396.6 88.7,400.5 88.0,404.4 87.5,408.3 87.2,412.3 87.2,416.3 87.2,420.3 87.5,424.3 88.0,428.2 88.7,432.1 89.6,436.0 90.7,439.8 92.0,443.6 93.4,447.3 95.1,450.8 96.9,454.4 98.9,457.7 101.0,461.0 103.3,464.2 105.8,467.2 108.4,470.1 111.2,472.9 114.1,475.4 117.1,477.9 120.2,480.1 123.5,482.2 126.8,484.1 130.3,485.8 133.8,487.3 137.4,488.7 141.0,489.8 144.7,490.7 148.5,491.5 152.2,492.0 156.0,492.3 159.8,492.4Z"/></clipPath>
<g clip-path="url(#c232_416)">
<path d="M305.2,492.4 309.0,492.3 312.8,492.0 316.5,491.5 320.3,490.7 324.0,489.8 327.6,488.7 331.2,487.3 334.7,485.8 338.2,484.1 341.5,482.2 344.8,480.1 347.9,477.9 350.9,475.4 353.8,472.9 356.6,470.1 359.2,467.2 361.7,464.2 364.0,461.0 366.1,457.7 368.1,454.4 369.9,450.8 371.6,447.3 373.0,443.6 374.3,439.8 375.4,436.0 376.3,432.1 377.0,428.2 377.5,424.3 377.8,420.3 377.9,416.3 377.8,412.3 377.5,408.3 377.0,404.4 376.3,400.5 375.4,396.6 374.3,392.8 373.0,389.0 371.6,385.3 369.9,381.8 368.1,378.2 366.1,374.9 364.0,371.6 361.7,368.4 359.2,365.4 356.6,362.5 353.8,359.7 350.9,357.2 347.9,354.7 344.8,352.5 341.5,350.4 338.2,348.5 334.7,346.8 331.2,345.3 327.6,343.9 324.0,342.8 320.3,341.9 316.5,341.1 312.8,340.6 309.0,340.3 305.2,340.2 159.8,340.2 156.0,340.3 152.2,340.6 148.5,341.1 144.7,341.9 141.0,342.8 137.4,343.9 133.8,345.3 130.3,346.8 126.8,348.5 123.5,350.4 120.2,352.5 117.1,354.7 114.1,357.2 111.2,359.7 108.4,362.5 105.8,365.4 103.3,368.4 101.0,371.6 98.9,374.9 96.9,378.2 95.1,381.8 93.4,385.3 92.0,389.0 90.7,392.8 89.6,396.6 88.7,400.5 88.0,404.4 87.5,408.3 87.2,412.3 87.2,416.3 87.2,420.3 87.5,424.3 88.0,428.2 88.7,432.1 89.6,436.0 90.7,439.8 92.0,443.6 93.4,447.3 95.1,450.8 96.9,454.4 98.9,457.7 101.0,461.0 103.3,464.2 105.8,467.2 108.4,470.1 111.2,472.9 114.1,475.4 117.1,477.9 120.2,480.1 123.5,482.2 126.8,484.1 130.3,485.8 133.8,487.3 137.4,488.7 141.0,489.8 144.7,490.7 148.5,491.5 152.2,492.0 156.0,492.3 159.8,492.4Z" fill="#b9b9df"/>
<path d="M131.6,486.4 126.7,484.0 121.9,481.2 183.4,481.2 185.5,484.0 187.6,486.4ZM193.3,486.4 191.3,484.0 189.5,481.2 244.8,481.2 244.3,484.0 243.7,486.4ZM134.2,481.2 131.2,478.9 128.3,476.4 245.5,476.4 245.2,478.9 244.8,481.2ZM257.1,481.2 257.8,478.9 258.5,476.4 291.1,476.4 289.5,478.9 287.8,481.2ZM306.2,481.2 308.5,478.9 310.6,476.4 317.2,476.4 314.8,478.9 312.3,481.2ZM318.5,481.2 321.1,478.9 323.7,476.4 349.7,476.4 346.5,478.9 343.1,481.2ZM134.8,476.4 132.6,474.2 130.5,471.9 184.9,471.9 185.9,474.2 186.9,476.4ZM219.5,476.4 219.2,474.2 218.9,471.9 239.3,471.9 239.2,474.2 239.0,476.4ZM252.0,476.4 252.5,474.2 252.9,471.9 293.7,471.9 292.4,474.2 291.1,476.4ZM323.7,476.4 325.7,474.2 327.7,471.9 354.8,471.9 352.3,474.2 349.7,476.4ZM137.3,471.9 135.7,469.7 134.1,467.4 183.3,467.4 184.1,469.7 184.9,471.9ZM225.7,471.9 225.6,469.7 225.5,467.4 260.6,467.4 260.2,469.7 259.7,471.9ZM280.1,471.9 280.9,469.7 281.7,467.4 295.7,467.4 294.7,469.7 293.7,471.9ZM141.1,467.4 139.9,465.3 138.7,463.2 182.0,463.2 182.6,465.3 183.3,467.4ZM225.5,467.4 225.4,465.3 225.3,463.2 268.6,463.2 268.1,465.3 267.6,467.4ZM288.7,467.4 289.5,465.3 290.2,463.2 297.5,463.2 296.6,465.3 295.7,467.4ZM138.7,463.2 137.6,461.1 136.6,459.0 180.8,459.0 181.4,461.1 182.0,463.2ZM261.4,463.2 261.7,461.1 262.0,459.0 276.8,459.0 276.3,461.1 275.8,463.2ZM290.2,463.2 290.9,461.1 291.5,459.0 306.3,459.0 305.5,461.1 304.7,463.2ZM143.9,459.0 143.1,457.0 142.3,454.9 179.9,454.9 180.3,457.0 180.8,459.0ZM269.4,459.0 269.8,457.0 270.1,454.9 307.7,454.9 307.0,457.0 306.3,459.0ZM157.3,454.9 156.7,452.9 156.2,450.9 179.1,450.9 179.5,452.9 179.9,454.9ZM270.1,454.9 270.4,452.9 270.7,450.9 324.1,450.9 323.4,452.9 322.7,454.9ZM278.3,450.9 278.6,448.9 278.9,446.9 309.8,446.9 309.4,448.9 308.8,450.9ZM162.9,446.9 162.5,445.0 162.1,443.0 177.8,443.0 178.1,445.0 178.4,446.9ZM125.6,381.7 126.4,379.7 127.3,377.7 149.8,377.7 149.2,379.7 148.5,381.7ZM119.7,377.7 120.7,375.6 121.8,373.6 151.3,373.6 150.5,375.6 149.8,377.7ZM121.8,373.6 123.0,371.5 124.2,369.4 153.1,369.4 152.2,371.5 151.3,373.6ZM124.2,369.4 125.6,367.3 127.1,365.2 155.2,365.2 154.1,367.3 153.1,369.4ZM127.1,365.2 128.8,362.9 130.5,360.7 150.9,360.7 149.5,362.9 148.2,365.2ZM123.8,360.7 126.0,358.4 128.3,356.2 154.4,356.2 152.6,358.4 150.9,360.7ZM134.8,356.2 137.5,353.7 140.4,351.4 158.8,351.4 156.5,353.7 154.4,356.2ZM336.7,356.2 333.8,353.7 330.8,351.4 343.1,351.4 346.5,353.7 349.7,356.2ZM121.9,351.4 126.7,348.6 131.6,346.2 142.8,346.2 138.4,348.6 134.2,351.4ZM330.8,351.4 326.6,348.6 322.2,346.2 333.4,346.2 338.3,348.6 343.1,351.4Z" fill="#8b8bca"/>
<path d="M299.8,486.4 303.1,484.0 306.2,481.2 343.1,481.2 338.3,484.0 333.4,486.4ZM287.8,481.2 289.5,478.9 291.1,476.4 310.6,476.4 308.5,478.9 306.2,481.2ZM239.0,476.4 239.2,474.2 239.3,471.9 252.9,471.9 252.5,474.2 252.0,476.4ZM259.7,471.9 260.2,469.7 260.6,467.4 281.7,467.4 280.9,469.7 280.1,471.9ZM267.6,467.4 268.1,465.3 268.6,463.2 290.2,463.2 289.5,465.3 288.7,467.4ZM275.8,463.2 276.3,461.1 276.8,459.0 291.5,459.0 290.9,461.1 290.2,463.2Z" fill="#5d5db5"/>
<path d="M244.8,481.2 245.2,478.9 245.5,476.4 258.5,476.4 257.8,478.9 257.1,481.2Z" fill="#2e2ea0"/>
<path d="M199.9,476.4 199.2,474.2 198.5,471.9 205.3,471.9 205.9,474.2 206.5,476.4ZM205.3,471.9 204.8,469.7 204.4,467.4 211.4,467.4 211.8,469.7 212.1,471.9ZM334.5,471.9 336.2,469.7 337.9,467.4 352.0,467.4 350.0,469.7 348.0,471.9ZM211.4,467.4 211.1,465.3 210.8,463.2 218.1,463.2 218.3,465.3 218.4,467.4ZM344.9,467.4 346.5,465.3 348.0,463.2 355.2,463.2 353.6,465.3 352.0,467.4ZM102.6,463.2 101.1,461.1 99.7,459.0 107.0,459.0 108.4,461.1 109.8,463.2ZM218.1,463.2 217.9,461.1 217.7,459.0 225.1,459.0 225.2,461.1 225.3,463.2ZM239.7,463.2 239.8,461.1 239.9,459.0 247.3,459.0 247.1,461.1 246.9,463.2ZM348.0,463.2 349.3,461.1 350.6,459.0 365.3,459.0 363.9,461.1 362.4,463.2ZM99.7,459.0 98.4,457.0 97.2,454.9 104.7,454.9 105.8,457.0 107.0,459.0ZM225.1,459.0 225.0,457.0 225.0,454.9 232.5,454.9 232.5,457.0 232.5,459.0ZM254.6,459.0 254.9,457.0 255.1,454.9 262.6,454.9 262.3,457.0 262.0,459.0ZM350.6,459.0 351.7,457.0 352.8,454.9 360.3,454.9 359.2,457.0 358.0,459.0ZM97.2,454.9 96.1,452.9 95.1,450.9 102.7,450.9 103.7,452.9 104.7,454.9ZM255.1,454.9 255.2,452.9 255.4,450.9 263.0,450.9 262.8,452.9 262.6,454.9ZM345.3,454.9 346.2,452.9 347.0,450.9 362.3,450.9 361.3,452.9 360.3,454.9ZM255.4,450.9 255.6,448.9 255.7,446.9 263.4,446.9 263.2,448.9 263.0,450.9ZM339.4,450.9 340.1,448.9 340.8,446.9 356.2,446.9 355.5,448.9 354.6,450.9ZM255.7,446.9 255.8,445.0 256.0,443.0 263.8,443.0 263.6,445.0 263.4,446.9ZM325.3,446.9 325.8,445.0 326.3,443.0 349.8,443.0 349.2,445.0 348.5,446.9ZM256.0,443.0 256.1,441.1 256.2,439.1 264.1,439.1 263.9,441.1 263.8,443.0ZM318.5,443.0 318.9,441.1 319.3,439.1 350.8,439.1 350.3,441.1 349.8,443.0ZM256.2,439.1 256.3,437.2 256.3,435.3 264.3,435.3 264.2,437.2 264.1,439.1ZM303.5,439.1 303.8,437.2 304.0,435.3 312.0,435.3 311.7,437.2 311.4,439.1ZM327.2,439.1 327.5,437.2 327.9,435.3 343.8,435.3 343.4,437.2 342.9,439.1ZM224.6,435.3 224.5,433.4 224.5,431.4 232.5,431.4 232.5,433.4 232.5,435.3ZM248.4,435.3 248.4,433.4 248.5,431.4 256.5,431.4 256.4,433.4 256.3,435.3ZM264.3,435.3 264.4,433.4 264.5,431.4 304.4,431.4 304.2,433.4 304.0,435.3ZM335.8,435.3 336.1,433.4 336.4,431.4 344.4,431.4 344.1,433.4 343.8,435.3ZM88.6,431.4 88.3,429.5 88.0,427.6 168.3,427.6 168.4,429.5 168.5,431.4ZM224.5,431.4 224.5,429.5 224.5,427.6 232.5,427.6 232.5,429.5 232.5,431.4ZM248.5,431.4 248.5,429.5 248.6,427.6 256.6,427.6 256.5,429.5 256.5,431.4ZM264.5,431.4 264.6,429.5 264.6,427.6 272.6,427.6 272.6,429.5 272.5,431.4ZM280.5,431.4 280.6,429.5 280.7,427.6 312.8,427.6 312.6,429.5 312.4,431.4ZM344.4,431.4 344.7,429.5 344.9,427.6 352.9,427.6 352.7,429.5 352.4,431.4ZM256.6,427.6 256.6,425.8 256.7,423.9 272.8,423.9 272.7,425.8 272.6,427.6ZM369.0,427.6 369.2,425.8 369.4,423.9 377.5,423.9 377.3,425.8 377.0,427.6ZM256.7,423.9 256.7,422.0 256.7,420.1 272.9,420.1 272.8,422.0 272.8,423.9ZM369.4,423.9 369.6,422.0 369.7,420.1 377.8,420.1 377.6,422.0 377.5,423.9ZM159.9,420.1 159.8,418.2 159.8,416.3 167.9,416.3 167.9,418.2 167.9,420.1ZM256.7,420.1 256.7,418.2 256.7,416.3 272.9,416.3 272.9,418.2 272.9,420.1ZM305.1,420.1 305.2,418.2 305.2,416.3 321.3,416.3 321.3,418.2 321.3,420.1ZM151.8,416.3 151.8,414.4 151.8,412.5 167.9,412.5 167.9,414.4 167.9,416.3ZM256.7,416.3 256.7,414.4 256.7,412.5 272.9,412.5 272.9,414.4 272.9,416.3ZM321.3,416.3 321.3,414.4 321.3,412.5 329.3,412.5 329.4,414.4 329.4,416.3ZM159.9,412.5 159.9,410.6 160.0,408.7 176.1,408.7 176.1,410.6 176.0,412.5ZM256.7,412.5 256.7,410.6 256.7,408.7 272.8,408.7 272.8,410.6 272.9,412.5ZM289.0,412.5 288.9,410.6 288.9,408.7 296.9,408.7 297.0,410.6 297.1,412.5ZM321.3,412.5 321.2,410.6 321.1,408.7 329.2,408.7 329.3,410.6 329.3,412.5ZM151.9,408.7 152.1,406.8 152.2,405.0 160.2,405.0 160.1,406.8 160.0,408.7ZM256.7,408.7 256.6,406.8 256.6,405.0 272.6,405.0 272.7,406.8 272.8,408.7ZM321.1,408.7 321.0,406.8 320.8,405.0 344.9,405.0 345.1,406.8 345.3,408.7ZM88.0,405.0 88.3,403.1 88.6,401.2 152.6,401.2 152.4,403.1 152.2,405.0ZM208.4,405.0 208.5,403.1 208.5,401.2 216.5,401.2 216.5,403.1 216.4,405.0ZM264.6,405.0 264.6,403.1 264.5,401.2 288.5,401.2 288.6,403.1 288.7,405.0ZM208.5,401.2 208.6,399.2 208.7,397.3 216.6,397.3 216.6,399.2 216.5,401.2ZM264.5,401.2 264.4,399.2 264.3,397.3 288.1,397.3 288.3,399.2 288.5,401.2ZM272.2,397.3 272.1,395.4 271.9,393.5 279.8,393.5 280.0,395.4 280.2,397.3ZM193.4,389.6 193.6,387.6 193.8,385.7 201.6,385.7 201.4,387.6 201.2,389.6ZM193.8,385.7 194.1,383.7 194.3,381.7 217.2,381.7 217.1,383.7 217.0,385.7ZM171.4,381.7 171.9,379.7 172.4,377.7 179.9,377.7 179.5,379.7 179.1,381.7ZM186.7,381.7 187.0,379.7 187.4,377.7 232.5,377.7 232.5,379.7 232.5,381.7ZM194.9,377.7 195.2,375.6 195.6,373.6 217.7,373.6 217.6,375.6 217.5,377.7ZM225.0,377.7 225.0,375.6 225.1,373.6 232.5,373.6 232.5,375.6 232.5,377.7ZM195.6,373.6 196.0,371.5 196.4,369.4 210.8,369.4 210.6,371.5 210.4,373.6ZM217.7,373.6 217.9,371.5 218.1,369.4 232.5,369.4 232.5,371.5 232.5,373.6ZM239.9,373.6 239.8,371.5 239.7,369.4 246.9,369.4 247.1,371.5 247.3,373.6ZM321.1,373.6 320.1,371.5 319.1,369.4 326.3,369.4 327.4,371.5 328.4,373.6ZM203.6,369.4 204.0,367.3 204.4,365.2 211.4,365.2 211.1,367.3 210.8,369.4ZM239.7,369.4 239.6,367.3 239.5,365.2 246.6,365.2 246.7,367.3 246.9,369.4ZM319.1,369.4 318.0,367.3 316.8,365.2 344.9,365.2 346.5,367.3 348.0,369.4ZM323.9,365.2 322.4,362.9 320.9,360.7 341.2,360.7 343.1,362.9 344.9,365.2ZM320.9,360.7 319.0,358.4 317.2,356.2 330.2,356.2 332.4,358.4 334.5,360.7ZM263.2,351.4 261.9,348.6 260.5,346.2 266.1,346.2 267.8,348.6 269.4,351.4ZM170.8,346.2 179.3,341.7 188.1,340.2 212.3,340.2 208.3,341.7 204.5,346.2ZM249.3,346.2 247.0,341.7 244.6,340.2 252.7,340.2 256.7,341.7 260.5,346.2Z" fill="#f4e8e8"/>
<path d="M206.5,476.4 205.9,474.2 205.3,471.9 212.1,471.9 212.5,474.2 213.0,476.4ZM110.2,471.9 108.0,469.7 106.0,467.4 113.0,467.4 115.0,469.7 117.0,471.9ZM212.1,471.9 211.8,469.7 211.4,467.4 218.4,467.4 218.7,469.7 218.9,471.9ZM320.9,471.9 322.4,469.7 323.9,467.4 330.9,467.4 329.3,469.7 327.7,471.9ZM106.0,467.4 104.3,465.3 102.6,463.2 117.0,463.2 118.5,465.3 120.1,467.4ZM218.4,467.4 218.3,465.3 218.1,463.2 225.3,463.2 225.4,465.3 225.5,467.4ZM352.0,467.4 353.6,465.3 355.2,463.2 362.4,463.2 360.7,465.3 359.0,467.4ZM109.8,463.2 108.4,461.1 107.0,459.0 114.4,459.0 115.7,461.1 117.0,463.2ZM225.3,463.2 225.2,461.1 225.1,459.0 232.5,459.0 232.5,461.1 232.5,463.2ZM246.9,463.2 247.1,461.1 247.3,459.0 254.6,459.0 254.4,461.1 254.2,463.2ZM107.0,459.0 105.8,457.0 104.7,454.9 112.2,454.9 113.3,457.0 114.4,459.0ZM358.0,459.0 359.2,457.0 360.3,454.9 367.8,454.9 366.6,457.0 365.3,459.0ZM104.7,454.9 103.7,452.9 102.7,450.9 110.4,450.9 111.3,452.9 112.2,454.9ZM360.3,454.9 361.3,452.9 362.3,450.9 369.9,450.9 368.9,452.9 367.8,454.9ZM95.1,450.9 94.2,448.9 93.3,446.9 101.0,446.9 101.8,448.9 102.7,450.9ZM354.6,450.9 355.5,448.9 356.2,446.9 371.7,446.9 370.8,448.9 369.9,450.9ZM93.3,446.9 92.5,445.0 91.8,443.0 99.6,443.0 100.3,445.0 101.0,446.9ZM263.4,446.9 263.6,445.0 263.8,443.0 271.6,443.0 271.4,445.0 271.2,446.9ZM317.6,446.9 318.1,445.0 318.5,443.0 326.3,443.0 325.8,445.0 325.3,446.9ZM348.5,446.9 349.2,445.0 349.8,443.0 373.2,443.0 372.5,445.0 371.7,446.9ZM91.8,443.0 91.1,441.1 90.5,439.1 98.4,439.1 99.0,441.1 99.6,443.0ZM263.8,443.0 263.9,441.1 264.1,439.1 271.9,439.1 271.8,441.1 271.6,443.0ZM302.9,443.0 303.2,441.1 303.5,439.1 319.3,439.1 318.9,441.1 318.5,443.0ZM349.8,443.0 350.3,441.1 350.8,439.1 374.5,439.1 373.9,441.1 373.2,443.0ZM90.5,439.1 89.9,437.2 89.4,435.3 105.3,435.3 105.8,437.2 106.3,439.1ZM264.1,439.1 264.2,437.2 264.3,435.3 304.0,435.3 303.8,437.2 303.5,439.1ZM342.9,439.1 343.4,437.2 343.8,435.3 375.6,435.3 375.1,437.2 374.5,439.1ZM89.4,435.3 89.0,433.4 88.6,431.4 168.5,431.4 168.7,433.4 168.9,435.3ZM343.8,435.3 344.1,433.4 344.4,431.4 376.4,431.4 376.0,433.4 375.6,435.3ZM352.4,431.4 352.7,429.5 352.9,427.6 377.0,427.6 376.7,429.5 376.4,431.4ZM320.8,405.0 320.6,403.1 320.4,401.2 376.4,401.2 376.7,403.1 377.0,405.0ZM120.6,401.2 120.9,399.2 121.2,397.3 153.0,397.3 152.8,399.2 152.6,401.2ZM312.4,401.2 312.2,399.2 312.0,397.3 335.8,397.3 336.1,399.2 336.4,401.2ZM145.1,397.3 145.4,395.4 145.7,393.5 153.6,393.5 153.3,395.4 153.0,397.3ZM312.0,397.3 311.7,395.4 311.4,393.5 327.2,393.5 327.5,395.4 327.9,397.3ZM145.7,393.5 146.1,391.5 146.5,389.6 154.3,389.6 153.9,391.5 153.6,393.5ZM311.4,393.5 311.1,391.5 310.7,389.6 326.3,389.6 326.8,391.5 327.2,393.5ZM318.5,389.6 318.1,387.6 317.6,385.7 325.3,385.7 325.8,387.6 326.3,389.6ZM317.6,385.7 317.0,383.7 316.5,381.7 324.1,381.7 324.7,383.7 325.3,385.7ZM163.8,381.7 164.3,379.7 164.8,377.7 172.4,377.7 171.9,379.7 171.4,381.7ZM316.5,381.7 315.8,379.7 315.2,377.7 330.2,377.7 331.0,379.7 331.7,381.7ZM354.6,381.7 353.7,379.7 352.8,377.7 367.8,377.7 368.9,379.7 369.9,381.7ZM315.2,377.7 314.5,375.6 313.7,373.6 365.3,373.6 366.6,375.6 367.8,377.7ZM99.7,373.6 101.1,371.5 102.6,369.4 117.0,369.4 115.7,371.5 114.4,373.6ZM210.4,373.6 210.6,371.5 210.8,369.4 218.1,369.4 217.9,371.5 217.7,373.6ZM328.4,373.6 327.4,371.5 326.3,369.4 362.4,369.4 363.9,371.5 365.3,373.6ZM210.8,369.4 211.1,367.3 211.4,365.2 218.4,365.2 218.3,367.3 218.1,369.4ZM348.0,369.4 346.5,367.3 344.9,365.2 359.0,365.2 360.7,367.3 362.4,369.4ZM197.4,365.2 197.9,362.9 198.5,360.7 218.9,360.7 218.7,362.9 218.4,365.2ZM344.9,365.2 343.1,362.9 341.2,360.7 354.8,360.7 357.0,362.9 359.0,365.2ZM205.3,360.7 205.9,358.4 206.5,356.2 213.0,356.2 212.5,358.4 212.1,360.7ZM334.5,360.7 332.4,358.4 330.2,356.2 349.7,356.2 352.3,358.4 354.8,360.7Z" fill="#e8e8f4"/>
<path d="M191.7,471.9 191.0,469.7 190.3,467.4 204.4,467.4 204.8,469.7 205.3,471.9ZM327.7,471.9 329.3,469.7 330.9,467.4 337.9,467.4 336.2,469.7 334.5,471.9ZM204.4,467.4 204.0,465.3 203.6,463.2 210.8,463.2 211.1,465.3 211.4,467.4ZM330.9,467.4 332.2,465.3 333.6,463.2 348.0,463.2 346.5,465.3 344.9,467.4ZM210.8,463.2 210.6,461.1 210.4,459.0 217.7,459.0 217.9,461.1 218.1,463.2ZM333.6,463.2 334.7,461.1 335.8,459.0 350.6,459.0 349.3,461.1 348.0,463.2ZM217.7,459.0 217.6,457.0 217.5,454.9 225.0,454.9 225.0,457.0 225.1,459.0ZM247.3,459.0 247.4,457.0 247.5,454.9 255.1,454.9 254.9,457.0 254.6,459.0ZM328.4,459.0 329.4,457.0 330.2,454.9 352.8,454.9 351.7,457.0 350.6,459.0ZM225.0,454.9 224.9,452.9 224.9,450.9 232.5,450.9 232.5,452.9 232.5,454.9ZM247.5,454.9 247.7,452.9 247.8,450.9 255.4,450.9 255.2,452.9 255.1,454.9ZM337.7,454.9 338.6,452.9 339.4,450.9 347.0,450.9 346.2,452.9 345.3,454.9ZM224.9,450.9 224.8,448.9 224.8,446.9 232.5,446.9 232.5,448.9 232.5,450.9ZM247.8,450.9 247.9,448.9 248.0,446.9 255.7,446.9 255.6,448.9 255.4,450.9ZM224.8,446.9 224.7,445.0 224.7,443.0 232.5,443.0 232.5,445.0 232.5,446.9ZM248.0,446.9 248.1,445.0 248.1,443.0 256.0,443.0 255.8,445.0 255.7,446.9ZM224.7,443.0 224.6,441.1 224.6,439.1 232.5,439.1 232.5,441.1 232.5,443.0ZM224.6,439.1 224.6,437.2 224.6,435.3 232.5,435.3 232.5,437.2 232.5,439.1ZM311.4,439.1 311.7,437.2 312.0,435.3 327.9,435.3 327.5,437.2 327.2,439.1ZM256.3,435.3 256.4,433.4 256.5,431.4 264.5,431.4 264.4,433.4 264.3,435.3ZM304.0,435.3 304.2,433.4 304.4,431.4 312.4,431.4 312.2,433.4 312.0,435.3ZM327.9,435.3 328.2,433.4 328.4,431.4 336.4,431.4 336.1,433.4 335.8,435.3ZM256.5,431.4 256.5,429.5 256.6,427.6 264.6,427.6 264.6,429.5 264.5,431.4ZM272.5,431.4 272.6,429.5 272.6,427.6 280.7,427.6 280.6,429.5 280.5,431.4ZM336.4,431.4 336.7,429.5 336.9,427.6 344.9,427.6 344.7,429.5 344.4,431.4ZM88.0,427.6 87.7,425.8 87.5,423.9 168.1,423.9 168.2,425.8 168.3,427.6ZM224.5,427.6 224.5,425.8 224.4,423.9 232.5,423.9 232.5,425.8 232.5,427.6ZM336.9,427.6 337.1,425.8 337.2,423.9 369.4,423.9 369.2,425.8 369.0,427.6ZM160.0,423.9 159.9,422.0 159.9,420.1 167.9,420.1 168.0,422.0 168.1,423.9ZM305.0,423.9 305.1,422.0 305.1,420.1 313.2,420.1 313.1,422.0 313.1,423.9ZM337.2,423.9 337.3,422.0 337.4,420.1 369.7,420.1 369.6,422.0 369.4,423.9ZM143.7,420.1 143.7,418.2 143.7,416.3 159.8,416.3 159.8,418.2 159.9,420.1ZM297.1,420.1 297.1,418.2 297.1,416.3 305.2,416.3 305.2,418.2 305.1,420.1ZM321.3,420.1 321.3,418.2 321.3,416.3 353.6,416.3 353.6,418.2 353.6,420.1ZM135.6,416.3 135.6,414.4 135.7,412.5 151.8,412.5 151.8,414.4 151.8,416.3ZM289.0,416.3 289.0,414.4 289.0,412.5 297.1,412.5 297.1,414.4 297.1,416.3ZM305.2,416.3 305.2,414.4 305.1,412.5 313.2,412.5 313.2,414.4 313.2,416.3ZM329.4,416.3 329.4,414.4 329.3,412.5 353.6,412.5 353.6,414.4 353.6,416.3ZM329.3,412.5 329.3,410.6 329.2,408.7 353.3,408.7 353.5,410.6 353.6,412.5ZM87.5,408.7 87.7,406.8 88.0,405.0 152.2,405.0 152.1,406.8 151.9,408.7ZM160.0,408.7 160.1,406.8 160.2,405.0 176.3,405.0 176.2,406.8 176.1,408.7ZM288.9,408.7 288.8,406.8 288.7,405.0 296.7,405.0 296.8,406.8 296.9,408.7ZM345.3,408.7 345.1,406.8 344.9,405.0 352.9,405.0 353.2,406.8 353.3,408.7ZM152.2,405.0 152.4,403.1 152.6,401.2 160.6,401.2 160.4,403.1 160.2,405.0ZM184.5,401.2 184.7,399.2 184.8,397.3 200.7,397.3 200.6,399.2 200.5,401.2ZM176.9,397.3 177.1,395.4 177.3,393.5 208.8,393.5 208.7,395.4 208.7,397.3ZM169.4,393.5 169.7,391.5 170.0,389.6 209.0,389.6 208.9,391.5 208.8,393.5ZM170.0,389.6 170.3,387.6 170.6,385.7 193.8,385.7 193.6,387.6 193.4,389.6ZM201.2,389.6 201.4,387.6 201.6,385.7 217.0,385.7 216.9,387.6 216.9,389.6ZM162.9,385.7 163.3,383.7 163.8,381.7 194.3,381.7 194.1,383.7 193.8,385.7ZM217.0,385.7 217.1,383.7 217.2,381.7 224.9,381.7 224.8,383.7 224.8,385.7ZM179.1,381.7 179.5,379.7 179.9,377.7 187.4,377.7 187.0,379.7 186.7,381.7ZM179.9,377.7 180.3,375.6 180.8,373.6 195.6,373.6 195.2,375.6 194.9,377.7ZM188.2,373.6 188.7,371.5 189.2,369.4 196.4,369.4 196.0,371.5 195.6,373.6ZM154.0,346.2 164.8,341.7 176.0,340.2 188.1,340.2 179.3,341.7 170.8,346.2ZM204.5,346.2 208.3,341.7 212.3,340.2 232.5,340.2 232.5,341.7 232.5,346.2Z" fill="#dfb9b9"/>
<path d="M190.3,467.4 189.8,465.3 189.2,463.2 203.6,463.2 204.0,465.3 204.4,467.4ZM210.4,459.0 210.1,457.0 209.9,454.9 217.5,454.9 217.6,457.0 217.7,459.0ZM217.5,454.9 217.3,452.9 217.2,450.9 224.9,450.9 224.9,452.9 225.0,454.9ZM330.2,454.9 331.0,452.9 331.7,450.9 339.4,450.9 338.6,452.9 337.7,454.9ZM217.2,450.9 217.1,448.9 217.0,446.9 224.8,446.9 224.8,448.9 224.9,450.9ZM331.7,450.9 332.4,448.9 333.0,446.9 340.8,446.9 340.1,448.9 339.4,450.9ZM217.0,446.9 216.9,445.0 216.9,443.0 224.7,443.0 224.7,445.0 224.8,446.9ZM216.9,443.0 216.8,441.1 216.7,439.1 224.6,439.1 224.6,441.1 224.7,443.0ZM216.6,435.3 216.6,433.4 216.5,431.4 224.5,431.4 224.5,433.4 224.6,435.3ZM312.0,435.3 312.2,433.4 312.4,431.4 328.4,431.4 328.2,433.4 327.9,435.3ZM216.5,431.4 216.5,429.5 216.4,427.6 224.5,427.6 224.5,429.5 224.5,431.4ZM328.4,431.4 328.7,429.5 328.9,427.6 336.9,427.6 336.7,429.5 336.4,431.4ZM280.7,427.6 280.8,425.8 280.8,423.9 296.9,423.9 296.8,425.8 296.7,427.6ZM304.8,427.6 304.9,425.8 305.0,423.9 313.1,423.9 312.9,425.8 312.8,427.6ZM328.9,427.6 329.0,425.8 329.2,423.9 337.2,423.9 337.1,425.8 336.9,427.6ZM87.5,423.9 87.4,422.0 87.2,420.1 159.9,420.1 159.9,422.0 160.0,423.9ZM216.4,423.9 216.4,422.0 216.4,420.1 224.4,420.1 224.4,422.0 224.4,423.9ZM313.1,423.9 313.1,422.0 313.2,420.1 337.4,420.1 337.3,422.0 337.2,423.9ZM87.2,420.1 87.2,418.2 87.2,416.3 103.3,416.3 103.3,418.2 103.4,420.1ZM127.6,420.1 127.5,418.2 127.5,416.3 143.7,416.3 143.7,418.2 143.7,420.1ZM289.0,420.1 289.0,418.2 289.0,416.3 297.1,416.3 297.1,418.2 297.1,420.1ZM353.6,420.1 353.6,418.2 353.6,416.3 377.9,416.3 377.8,418.2 377.8,420.1ZM87.2,416.3 87.2,414.4 87.2,412.5 103.4,412.5 103.3,414.4 103.3,416.3ZM127.5,416.3 127.5,414.4 127.6,412.5 135.7,412.5 135.6,414.4 135.6,416.3ZM297.1,416.3 297.1,414.4 297.1,412.5 305.1,412.5 305.2,414.4 305.2,416.3ZM353.6,416.3 353.6,414.4 353.6,412.5 369.7,412.5 369.8,414.4 369.8,416.3ZM87.2,412.5 87.4,410.6 87.5,408.7 160.0,408.7 159.9,410.6 159.9,412.5ZM353.6,412.5 353.5,410.6 353.3,408.7 369.4,408.7 369.6,410.6 369.7,412.5ZM353.3,408.7 353.2,406.8 352.9,405.0 369.0,405.0 369.2,406.8 369.4,408.7ZM160.2,405.0 160.4,403.1 160.6,401.2 184.5,401.2 184.4,403.1 184.3,405.0ZM288.7,405.0 288.6,403.1 288.5,401.2 296.5,401.2 296.6,403.1 296.7,405.0ZM152.6,401.2 152.8,399.2 153.0,397.3 184.8,397.3 184.7,399.2 184.5,401.2ZM200.5,401.2 200.6,399.2 200.7,397.3 208.7,397.3 208.6,399.2 208.5,401.2ZM161.0,397.3 161.2,395.4 161.5,393.5 177.3,393.5 177.1,395.4 176.9,397.3ZM161.5,393.5 161.8,391.5 162.1,389.6 170.0,389.6 169.7,391.5 169.4,393.5ZM162.1,389.6 162.5,387.6 162.9,385.7 170.6,385.7 170.3,387.6 170.0,389.6ZM240.0,377.7 240.0,375.6 239.9,373.6 254.6,373.6 254.9,375.6 255.1,377.7ZM247.3,373.6 247.1,371.5 246.9,369.4 254.2,369.4 254.4,371.5 254.6,373.6ZM246.9,369.4 246.7,367.3 246.6,365.2 253.6,365.2 253.9,367.3 254.2,369.4ZM232.5,346.2 232.5,341.7 232.5,340.2 244.6,340.2 247.0,341.7 249.3,346.2Z" fill="#ca8b8b"/>
<path d="M196.4,463.2 196.0,461.1 195.6,459.0 203.0,459.0 203.3,461.1 203.6,463.2ZM195.6,459.0 195.2,457.0 194.9,454.9 202.4,454.9 202.7,457.0 203.0,459.0ZM209.6,450.9 209.4,448.9 209.3,446.9 217.0,446.9 217.1,448.9 217.2,450.9ZM209.3,446.9 209.2,445.0 209.0,443.0 216.9,443.0 216.9,445.0 217.0,446.9ZM208.8,439.1 208.7,437.2 208.7,435.3 216.6,435.3 216.7,437.2 216.7,439.1ZM208.7,435.3 208.6,433.4 208.5,431.4 216.5,431.4 216.6,433.4 216.6,435.3ZM312.4,431.4 312.6,429.5 312.8,427.6 320.8,427.6 320.6,429.5 320.4,431.4ZM296.9,423.9 297.0,422.0 297.1,420.1 305.1,420.1 305.1,422.0 305.0,423.9ZM103.4,420.1 103.3,418.2 103.3,416.3 127.5,416.3 127.5,418.2 127.6,420.1ZM192.1,416.3 192.1,414.4 192.1,412.5 208.3,412.5 208.3,414.4 208.3,416.3ZM184.1,412.5 184.1,410.6 184.2,408.7 192.2,408.7 192.2,410.6 192.1,412.5ZM208.3,412.5 208.3,410.6 208.3,408.7 216.4,408.7 216.4,410.6 216.4,412.5ZM297.1,412.5 297.0,410.6 296.9,408.7 305.0,408.7 305.1,410.6 305.1,412.5ZM184.2,408.7 184.2,406.8 184.3,405.0 192.4,405.0 192.3,406.8 192.2,408.7ZM200.4,405.0 200.4,403.1 200.5,401.2 208.5,401.2 208.5,403.1 208.4,405.0ZM256.6,405.0 256.5,403.1 256.5,401.2 264.5,401.2 264.6,403.1 264.6,405.0ZM264.3,397.3 264.2,395.4 264.1,393.5 271.9,393.5 272.1,395.4 272.2,397.3ZM264.1,393.5 263.9,391.5 263.8,389.6 271.6,389.6 271.8,391.5 271.9,393.5ZM263.8,389.6 263.6,387.6 263.4,385.7 271.2,385.7 271.4,387.6 271.6,389.6ZM248.0,385.7 247.9,383.7 247.8,381.7 263.0,381.7 263.2,383.7 263.4,385.7ZM247.8,381.7 247.7,379.7 247.5,377.7 255.1,377.7 255.2,379.7 255.4,381.7ZM255.1,377.7 254.9,375.6 254.6,373.6 262.0,373.6 262.3,375.6 262.6,377.7ZM254.6,373.6 254.4,371.5 254.2,369.4 268.6,369.4 269.0,371.5 269.4,373.6ZM254.2,369.4 253.9,367.3 253.6,365.2 260.6,365.2 261.0,367.3 261.4,369.4Z" fill="#a02e2e"/>
<path d="M203.6,463.2 203.3,461.1 203.0,459.0 210.4,459.0 210.6,461.1 210.8,463.2ZM209.9,454.9 209.8,452.9 209.6,450.9 217.2,450.9 217.3,452.9 217.5,454.9ZM216.7,439.1 216.7,437.2 216.6,435.3 224.6,435.3 224.6,437.2 224.6,439.1ZM320.4,431.4 320.6,429.5 320.8,427.6 328.9,427.6 328.7,429.5 328.4,431.4ZM216.4,427.6 216.4,425.8 216.4,423.9 224.4,423.9 224.5,425.8 224.5,427.6ZM296.7,427.6 296.8,425.8 296.9,423.9 305.0,423.9 304.9,425.8 304.8,427.6ZM312.8,427.6 312.9,425.8 313.1,423.9 329.2,423.9 329.0,425.8 328.9,427.6ZM288.9,423.9 288.9,422.0 289.0,420.1 297.1,420.1 297.0,422.0 296.9,423.9ZM216.4,420.1 216.4,418.2 216.3,416.3 224.4,416.3 224.4,418.2 224.4,420.1ZM103.3,416.3 103.3,414.4 103.4,412.5 127.6,412.5 127.5,414.4 127.5,416.3ZM216.3,416.3 216.4,414.4 216.4,412.5 224.4,412.5 224.4,414.4 224.4,416.3ZM369.8,416.3 369.8,414.4 369.7,412.5 377.8,412.5 377.8,414.4 377.9,416.3ZM369.7,412.5 369.6,410.6 369.4,408.7 377.5,408.7 377.6,410.6 377.8,412.5ZM176.1,408.7 176.2,406.8 176.3,405.0 184.3,405.0 184.2,406.8 184.2,408.7ZM369.4,408.7 369.2,406.8 369.0,405.0 377.0,405.0 377.3,406.8 377.5,408.7ZM184.3,405.0 184.4,403.1 184.5,401.2 200.5,401.2 200.4,403.1 200.4,405.0ZM263.4,385.7 263.2,383.7 263.0,381.7 270.7,381.7 270.9,383.7 271.2,385.7ZM255.4,381.7 255.2,379.7 255.1,377.7 262.6,377.7 262.8,379.7 263.0,381.7Z" fill="#b55d5d"/>
<path d="M203.0,459.0 202.7,457.0 202.4,454.9 209.9,454.9 210.1,457.0 210.4,459.0ZM202.4,454.9 202.2,452.9 202.0,450.9 209.6,450.9 209.8,452.9 209.9,454.9ZM202.0,450.9 201.8,448.9 201.6,446.9 209.3,446.9 209.4,448.9 209.6,450.9ZM201.6,446.9 201.4,445.0 201.2,443.0 209.0,443.0 209.2,445.0 209.3,446.9ZM209.0,443.0 208.9,441.1 208.8,439.1 216.7,439.1 216.8,441.1 216.9,443.0ZM208.5,431.4 208.5,429.5 208.4,427.6 216.4,427.6 216.5,429.5 216.5,431.4ZM208.4,427.6 208.4,425.8 208.3,423.9 216.4,423.9 216.4,425.8 216.4,427.6ZM200.3,423.9 200.2,422.0 200.2,420.1 216.4,420.1 216.4,422.0 216.4,423.9ZM200.2,420.1 200.2,418.2 200.2,416.3 216.3,416.3 216.4,418.2 216.4,420.1ZM208.3,416.3 208.3,414.4 208.3,412.5 216.4,412.5 216.4,414.4 216.3,416.3ZM192.1,412.5 192.2,410.6 192.2,408.7 208.3,408.7 208.3,410.6 208.3,412.5ZM192.2,408.7 192.3,406.8 192.4,405.0 208.4,405.0 208.4,406.8 208.3,408.7ZM296.9,408.7 296.8,406.8 296.7,405.0 304.8,405.0 304.9,406.8 305.0,408.7ZM256.5,401.2 256.4,399.2 256.3,397.3 264.3,397.3 264.4,399.2 264.5,401.2ZM256.3,397.3 256.3,395.4 256.2,393.5 264.1,393.5 264.2,395.4 264.3,397.3ZM256.2,393.5 256.1,391.5 256.0,389.6 263.8,389.6 263.9,391.5 264.1,393.5ZM232.5,389.6 232.5,387.6 232.5,385.7 248.0,385.7 248.1,387.6 248.1,389.6ZM256.0,389.6 255.8,387.6 255.7,385.7 263.4,385.7 263.6,387.6 263.8,389.6ZM232.5,385.7 232.5,383.7 232.5,381.7 247.8,381.7 247.9,383.7 248.0,385.7ZM232.5,381.7 232.5,379.7 232.5,377.7 247.5,377.7 247.7,379.7 247.8,381.7ZM232.5,377.7 232.5,375.6 232.5,373.6 239.9,373.6 240.0,375.6 240.0,377.7Z" fill="#8b0000"/>
<path d="M119.0,479.2H346.0M95.1,450.9H369.9M87.2,416.3H377.9M95.1,381.7H369.9M119.0,353.4H346.0M184.1,492.4 180.2,492.2 176.5,491.5 172.7,490.3 169.1,488.7 165.5,486.6 162.1,484.1 158.7,481.2 155.6,477.9 152.6,474.2 149.8,470.1 147.2,465.7 144.9,461.0 142.7,456.1 140.9,450.8 139.3,445.4 138.0,439.8 136.9,434.1 136.2,428.2 135.7,422.3 135.6,416.3 135.7,410.3 136.2,404.4 136.9,398.5 138.0,392.8 139.3,387.2 140.9,381.8 142.7,376.5 144.9,371.6 147.2,366.9 149.8,362.5 152.6,358.4 155.6,354.7 158.7,351.4 162.1,348.5 165.5,346.0 169.1,343.9 172.7,342.3 176.5,341.1 180.2,340.4 184.1,340.2M208.3,492.4 206.4,492.2 204.5,491.5 202.6,490.3 200.8,488.7 199.0,486.6 197.3,484.1 195.6,481.2 194.0,477.9 192.5,474.2 191.1,470.1 189.9,465.7 188.7,461.0 187.6,456.1 186.7,450.8 185.9,445.4 185.2,439.8 184.7,434.1 184.3,428.2 184.1,422.3 184.1,416.3 184.1,410.3 184.3,404.4 184.7,398.5 185.2,392.8 185.9,387.2 186.7,381.8 187.6,376.5 188.7,371.6 189.9,366.9 191.1,362.5 192.5,358.4 194.0,354.7 195.6,351.4 197.3,348.5 199.0,346.0 200.8,343.9 202.6,342.3 204.5,341.1 206.4,340.4 208.3,340.2M232.5,492.4 232.5,492.2 232.5,491.5 232.5,490.3 232.5,488.7 232.5,486.6 232.5,484.1 232.5,481.2 232.5,477.9 232.5,474.2 232.5,470.1 232.5,465.7 232.5,461.0 232.5,456.1 232.5,450.8 232.5,445.4 232.5,439.8 232.5,434.1 232.5,428.2 232.5,422.3 232.5,416.3 232.5,410.3 232.5,404.4 232.5,398.5 232.5,392.8 232.5,387.2 232.5,381.8 232.5,376.5 232.5,371.6 232.5,366.9 232.5,362.5 232.5,358.4 232.5,354.7 232.5,351.4 232.5,348.5 232.5,346.0 232.5,343.9 232.5,342.3 232.5,341.1 232.5,340.4 232.5,340.2M256.7,492.4 258.6,492.2 260.5,491.5 262.4,490.3 264.2,488.7 266.0,486.6 267.7,484.1 269.4,481.2 271.0,477.9 272.5,474.2 273.9,470.1 275.1,465.7 276.3,461.0 277.4,456.1 278.3,450.8 279.1,445.4 279.8,439.8 280.3,434.1 280.7,428.2 280.9,422.3 280.9,416.3 280.9,410.3 280.7,404.4 280.3,398.5 279.8,392.8 279.1,387.2 278.3,381.8 277.4,376.5 276.3,371.6 275.1,366.9 273.9,362.5 272.5,358.4 271.0,354.7 269.4,351.4 267.7,348.5 266.0,346.0 264.2,343.9 262.4,342.3 260.5,341.1 258.6,340.4 256.7,340.2M280.9,492.4 284.8,492.2 288.5,491.5 292.3,490.3 295.9,488.7 299.5,486.6 302.9,484.1 306.3,481.2 309.4,477.9 312.4,474.2 315.2,470.1 317.8,465.7 320.1,461.0 322.3,456.1 324.1,450.8 325.7,445.4 327.0,439.8 328.1,434.1 328.8,428.2 329.3,422.3 329.4,416.3 329.3,410.3 328.8,404.4 328.1,398.5 327.0,392.8 325.7,387.2 324.1,381.8 322.3,376.5 320.1,371.6 317.8,366.9 315.2,362.5 312.4,358.4 309.4,354.7 306.3,351.4 302.9,348.5 299.5,346.0 295.9,343.9 292.3,342.3 288.5,341.1 284.8,340.4 280.9,340.2" fill="none" stroke="#8f8f8f" stroke-opacity="0.9" stroke-width="0.8" stroke-dasharray="2.6,1.3"/>
<path d="M198.4,478.0 203.7,478.0 210.0,477.6 216.2,476.4 219.2,474.1 222.3,471.9 225.6,469.6 227.2,465.3 228.9,464.2 234.3,464.2M323.7,476.4 325.8,474.1 329.6,473.5 336.5,473.4 343.2,473.4 351.4,471.9 352.4,474.1 346.6,478.8M112.6,474.1 118.4,478.8 125.0,481.2 131.2,481.2 131.0,478.8 131.6,476.4 132.6,474.1 133.9,471.9 135.7,469.6 137.6,467.4 139.8,465.3 137.6,461.1 140.3,459.0 143.1,456.9 146.1,454.9 153.6,454.9 156.7,452.9 160.0,450.9 167.6,450.9 175.2,450.9M237.3,464.6 243.2,464.6 250.4,464.2 257.8,463.2 261.7,461.1 265.7,459.0 269.8,456.9 270.4,452.9 274.5,450.9 278.6,448.9 282.8,446.9 290.5,446.9 298.2,446.9 306.0,446.9 309.4,448.9 312.7,450.9 320.3,450.9M315.2,454.9 311.4,454.9 307.0,456.9 306.3,459.0M174.5,446.9 166.8,446.9 162.5,445.0 166.0,443.0 173.9,443.0M148.5,381.7 144.7,381.7 137.1,381.7 129.4,381.7 126.4,379.7 123.5,377.7 120.7,375.7 123.0,371.5 125.6,367.3 128.7,363.0 127.1,360.7 125.9,358.5 131.6,356.2 137.4,353.8M134.2,351.4 131.2,351.4 125.0,351.4 118.4,353.8M346.6,353.8 345.0,355.0 338.6,355.0 334.0,353.8 330.8,351.4" fill="none" stroke="#000" stroke-width="0.9" stroke-dasharray="3,2"/>
<path d="M201.6,474.9 202.7,474.9 205.8,474.1 208.7,471.9 211.7,469.6 214.9,467.4 218.2,465.3 221.7,463.2 225.2,461.1 228.8,459.0M106.2,463.2 108.4,461.1 105.8,456.9 103.7,452.9 98.9,450.9 96.1,452.9 98.4,456.9M328.4,468.5 327.6,469.6 331.5,471.3 339.1,470.4 346.0,470.4 348.4,469.6 353.7,465.3 358.8,463.2M368.9,452.9 366.6,456.9 361.6,459.0 359.2,456.9 361.3,452.9 358.5,450.9 355.5,448.9 352.4,446.9 349.2,445.0 350.3,441.1 346.9,439.1 343.4,437.2 344.1,433.4 348.4,431.4 352.7,429.5 356.8,428.6 364.9,428.6 373.0,427.6 376.7,429.5M242.2,461.8 243.4,461.8 247.1,461.1 250.9,460.0 258.5,458.0 260.4,456.9 260.9,452.9 261.3,448.9 263.6,445.0 263.9,441.1 264.2,437.2 268.3,435.3 276.2,435.3 284.2,435.3 292.1,435.3 300.1,435.3 303.8,437.2 307.4,439.1 315.2,440.1 318.9,441.1 322.4,443.0 325.8,445.0 327.5,445.9M88.3,429.5 92.6,431.4 100.6,431.4 108.6,431.4 116.6,431.4 124.6,431.4 132.6,431.4 140.6,431.4 148.6,431.4 156.6,431.4 164.5,431.4M376.7,403.1 372.8,403.5 364.8,403.7 356.8,403.7 348.8,404.0 340.9,405.0 332.9,405.0 324.8,405.0M150.6,396.1 150.1,399.2 148.6,401.2 140.6,401.2 132.6,401.2 124.6,401.2 116.4,402.1 108.4,402.1 100.4,402.1 92.4,402.1 88.3,403.1M171.9,379.7 167.8,380.7M321.1,373.6 324.7,373.6 327.4,371.5 329.9,369.4 337.2,369.4 344.4,369.4 346.5,367.3 343.2,363.0 337.9,360.7 332.4,358.5 328.1,357.3 323.1,357.3M218.1,369.4 217.9,371.5 214.1,373.6 210.6,371.5 211.1,367.3 207.9,365.2 204.4,365.2" fill="none" stroke="#000" stroke-width="0.9"/>
<path d="M193.9,467.4 200.9,467.4 204.0,465.3 207.4,464.2 212.4,461.1 214.1,459.0 217.6,456.9 221.2,454.9 224.9,452.9 224.8,448.9 224.7,445.0 224.6,441.1 226.6,437.2 222.5,433.4 222.5,429.5 226.5,425.7 224.4,423.9M334.0,454.9 338.6,452.9 338.2,448.9 336.6,447.9 334.7,447.9M280.7,427.6 284.7,426.7 292.8,426.7 300.8,427.6 308.9,426.7 311.6,429.5 312.2,433.4 315.9,435.3 323.9,435.3 328.2,433.4 332.4,431.4 336.7,429.5 337.1,425.7 337.3,422.0 333.4,420.1 325.3,420.1 317.2,421.0 313.1,422.0 309.0,423.9 307.8,422.0 301.1,418.8 297.1,418.2 293.1,416.3M89.4,422.0 91.5,423.9 99.6,423.9 107.6,423.9 115.7,423.9 123.8,423.9 131.8,423.9 139.9,423.9 147.9,423.9 156.0,423.9 159.9,422.0 155.8,420.1 147.8,420.1 143.7,418.2 139.6,416.3 135.6,414.4 139.7,412.5 147.8,412.5 155.9,411.6 157.9,410.6 155.9,409.7 147.9,408.7 139.9,408.7 131.8,408.7 123.8,408.7 115.7,408.7 107.6,408.7 99.6,408.7 91.5,408.7 89.7,406.9M373.1,405.4 365.2,406.2 357.1,406.2 353.2,406.9 353.5,410.6 353.6,414.4 353.6,418.2 357.6,420.1 365.7,420.1 373.8,419.1M210.0,404.2 209.5,403.1 206.6,399.2 204.7,397.3 200.6,399.2 196.6,400.2 188.6,400.2 184.7,399.2 180.8,397.3 177.1,395.4 173.3,393.5 169.7,391.5 170.3,387.6 166.8,385.7M260.6,405.4 265.6,403.1 266.0,399.2 268.3,397.8 273.1,395.4 273.0,394.0M290.5,402.1 290.6,403.1 292.7,405.0 293.8,406.9 296.0,410.6 297.1,414.4 301.1,416.3 305.2,414.4 307.8,413.8M155.5,398.6 155.4,399.2 156.6,401.2 160.4,403.1 164.2,405.0 172.3,405.0 174.2,406.9 176.1,408.7M231.0,372.8 231.0,375.7 231.0,379.7 231.0,380.9M248.5,367.3 248.9,371.5 243.6,374.6 241.3,372.8" fill="none" stroke="#000" stroke-width="0.9"/>
<path d="M198.0,462.1 199.8,462.1 203.3,461.1 206.8,460.0 210.1,456.9 211.7,452.9 213.4,450.9 215.2,448.9 215.0,445.0 216.8,441.1 216.7,437.2 214.6,433.4 216.5,429.5 218.4,425.7 216.4,422.0 218.4,418.2 218.4,414.4 216.4,412.5M315.6,429.5 316.5,430.5 320.6,429.5 316.8,427.6 315.6,429.5M297.0,422.0 301.0,423.9 302.4,422.0 301.1,421.3 297.0,422.0M105.3,418.2 107.4,419.1 115.5,419.1 123.5,419.1 125.5,418.2 123.5,416.3 115.4,416.3 107.3,416.3 105.3,418.2M206.8,405.7 205.5,403.1 204.5,402.1 200.4,403.1 196.4,404.0 188.3,405.0 184.2,406.9 184.2,408.7M260.6,403.5 261.5,403.1 262.8,399.2 268.2,395.9 269.1,395.4 268.9,392.0M296.7,405.0 297.9,406.9 300.0,410.6 301.1,411.6 302.4,411.3M267.3,385.7 263.2,383.7 259.2,381.7 255.2,379.7 251.4,378.7 243.8,377.7 240.0,375.7 238.4,374.4M234.0,374.4 234.0,375.7 234.0,379.7 234.0,382.5M255.7,367.3 256.2,371.5 256.7,375.7 258.8,377.7" fill="none" stroke="#000" stroke-width="0.9"/>

<path d="M159.8,492.4 145.4,490.9 131.6,486.4 333.4,486.4 319.6,490.9 305.2,492.4ZM187.6,486.4 185.5,484.0 183.4,481.2 189.5,481.2 191.3,484.0 193.3,486.4ZM243.7,486.4 244.3,484.0 244.8,481.2 306.2,481.2 303.1,484.0 299.8,486.4ZM312.3,481.2 314.8,478.9 317.2,476.4 323.7,476.4 321.1,478.9 318.5,481.2ZM186.9,476.4 185.9,474.2 184.9,471.9 198.5,471.9 199.2,474.2 199.9,476.4ZM291.1,476.4 292.4,474.2 293.7,471.9 320.9,471.9 319.0,474.2 317.2,476.4ZM184.9,471.9 184.1,469.7 183.3,467.4 190.3,467.4 191.0,469.7 191.7,471.9ZM293.7,471.9 294.7,469.7 295.7,467.4 323.9,467.4 322.4,469.7 320.9,471.9ZM183.3,467.4 182.6,465.3 182.0,463.2 189.2,463.2 189.8,465.3 190.3,467.4ZM295.7,467.4 296.6,465.3 297.5,463.2 333.6,463.2 332.2,465.3 330.9,467.4ZM182.0,463.2 181.4,461.1 180.8,459.0 195.6,459.0 196.0,461.1 196.4,463.2ZM232.5,463.2 232.5,461.1 232.5,459.0 239.9,459.0 239.8,461.1 239.7,463.2ZM304.7,463.2 305.5,461.1 306.3,459.0 335.8,459.0 334.7,461.1 333.6,463.2ZM180.8,459.0 180.3,457.0 179.9,454.9 194.9,454.9 195.2,457.0 195.6,459.0ZM232.5,459.0 232.5,457.0 232.5,454.9 247.5,454.9 247.4,457.0 247.3,459.0ZM313.7,459.0 314.5,457.0 315.2,454.9 330.2,454.9 329.4,457.0 328.4,459.0ZM179.9,454.9 179.5,452.9 179.1,450.9 202.0,450.9 202.2,452.9 202.4,454.9ZM232.5,454.9 232.5,452.9 232.5,450.9 247.8,450.9 247.7,452.9 247.5,454.9ZM322.7,454.9 323.4,452.9 324.1,450.9 331.7,450.9 331.0,452.9 330.2,454.9ZM179.1,450.9 178.7,448.9 178.4,446.9 201.6,446.9 201.8,448.9 202.0,450.9ZM232.5,450.9 232.5,448.9 232.5,446.9 248.0,446.9 247.9,448.9 247.8,450.9ZM324.1,450.9 324.7,448.9 325.3,446.9 333.0,446.9 332.4,448.9 331.7,450.9ZM178.4,446.9 178.1,445.0 177.8,443.0 201.2,443.0 201.4,445.0 201.6,446.9ZM232.5,446.9 232.5,445.0 232.5,443.0 248.1,443.0 248.1,445.0 248.0,446.9ZM177.8,443.0 177.5,441.1 177.3,439.1 208.8,439.1 208.9,441.1 209.0,443.0ZM232.5,443.0 232.5,441.1 232.5,439.1 256.2,439.1 256.1,441.1 256.0,443.0ZM177.3,439.1 177.1,437.2 176.9,435.3 208.7,435.3 208.7,437.2 208.8,439.1ZM232.5,439.1 232.5,437.2 232.5,435.3 256.3,435.3 256.3,437.2 256.2,439.1ZM168.9,435.3 168.7,433.4 168.5,431.4 208.5,431.4 208.6,433.4 208.7,435.3ZM232.5,435.3 232.5,433.4 232.5,431.4 248.5,431.4 248.4,433.4 248.4,435.3ZM168.5,431.4 168.4,429.5 168.3,427.6 208.4,427.6 208.5,429.5 208.5,431.4ZM232.5,431.4 232.5,429.5 232.5,427.6 248.6,427.6 248.5,429.5 248.5,431.4ZM168.3,427.6 168.2,425.8 168.1,423.9 208.3,423.9 208.4,425.8 208.4,427.6ZM232.5,427.6 232.5,425.8 232.5,423.9 256.7,423.9 256.6,425.8 256.6,427.6ZM272.6,427.6 272.7,425.8 272.8,423.9 280.8,423.9 280.8,425.8 280.7,427.6ZM168.1,423.9 168.0,422.0 167.9,420.1 200.2,420.1 200.2,422.0 200.3,423.9ZM224.4,423.9 224.4,422.0 224.4,420.1 256.7,420.1 256.7,422.0 256.7,423.9ZM272.8,423.9 272.8,422.0 272.9,420.1 289.0,420.1 288.9,422.0 288.9,423.9ZM167.9,420.1 167.9,418.2 167.9,416.3 200.2,416.3 200.2,418.2 200.2,420.1ZM224.4,420.1 224.4,418.2 224.4,416.3 256.7,416.3 256.7,418.2 256.7,420.1ZM272.9,420.1 272.9,418.2 272.9,416.3 289.0,416.3 289.0,418.2 289.0,420.1ZM167.9,416.3 167.9,414.4 167.9,412.5 192.1,412.5 192.1,414.4 192.1,416.3ZM224.4,416.3 224.4,414.4 224.4,412.5 256.7,412.5 256.7,414.4 256.7,416.3ZM272.9,416.3 272.9,414.4 272.9,412.5 289.0,412.5 289.0,414.4 289.0,416.3ZM313.2,416.3 313.2,414.4 313.2,412.5 321.3,412.5 321.3,414.4 321.3,416.3ZM176.0,412.5 176.1,410.6 176.1,408.7 184.2,408.7 184.1,410.6 184.1,412.5ZM216.4,412.5 216.4,410.6 216.4,408.7 256.7,408.7 256.7,410.6 256.7,412.5ZM272.9,412.5 272.8,410.6 272.8,408.7 288.9,408.7 288.9,410.6 289.0,412.5ZM305.1,412.5 305.1,410.6 305.0,408.7 321.1,408.7 321.2,410.6 321.3,412.5ZM208.3,408.7 208.4,406.8 208.4,405.0 256.6,405.0 256.6,406.8 256.7,408.7ZM272.8,408.7 272.7,406.8 272.6,405.0 288.7,405.0 288.8,406.8 288.9,408.7ZM305.0,408.7 304.9,406.8 304.8,405.0 320.8,405.0 321.0,406.8 321.1,408.7ZM216.4,405.0 216.5,403.1 216.5,401.2 256.5,401.2 256.5,403.1 256.6,405.0ZM296.7,405.0 296.6,403.1 296.5,401.2 320.4,401.2 320.6,403.1 320.8,405.0ZM216.5,401.2 216.6,399.2 216.6,397.3 256.3,397.3 256.4,399.2 256.5,401.2ZM288.5,401.2 288.3,399.2 288.1,397.3 312.0,397.3 312.2,399.2 312.4,401.2ZM153.0,397.3 153.3,395.4 153.6,393.5 161.5,393.5 161.2,395.4 161.0,397.3ZM208.7,397.3 208.7,395.4 208.8,393.5 256.2,393.5 256.3,395.4 256.3,397.3ZM280.2,397.3 280.0,395.4 279.8,393.5 311.4,393.5 311.7,395.4 312.0,397.3ZM153.6,393.5 153.9,391.5 154.3,389.6 162.1,389.6 161.8,391.5 161.5,393.5ZM208.8,393.5 208.9,391.5 209.0,389.6 256.0,389.6 256.1,391.5 256.2,393.5ZM271.9,393.5 271.8,391.5 271.6,389.6 310.7,389.6 311.1,391.5 311.4,393.5ZM154.3,389.6 154.7,387.6 155.2,385.7 162.9,385.7 162.5,387.6 162.1,389.6ZM216.9,389.6 216.9,387.6 217.0,385.7 232.5,385.7 232.5,387.6 232.5,389.6ZM248.1,389.6 248.1,387.6 248.0,385.7 255.7,385.7 255.8,387.6 256.0,389.6ZM271.6,389.6 271.4,387.6 271.2,385.7 317.6,385.7 318.1,387.6 318.5,389.6ZM155.2,385.7 155.6,383.7 156.2,381.7 163.8,381.7 163.3,383.7 162.9,385.7ZM224.8,385.7 224.8,383.7 224.9,381.7 232.5,381.7 232.5,383.7 232.5,385.7ZM271.2,385.7 270.9,383.7 270.7,381.7 316.5,381.7 317.0,383.7 317.6,385.7ZM148.5,381.7 149.2,379.7 149.8,377.7 164.8,377.7 164.3,379.7 163.8,381.7ZM263.0,381.7 262.8,379.7 262.6,377.7 315.2,377.7 315.8,379.7 316.5,381.7ZM149.8,377.7 150.5,375.6 151.3,373.6 180.8,373.6 180.3,375.6 179.9,377.7ZM217.5,377.7 217.6,375.6 217.7,373.6 225.1,373.6 225.0,375.6 225.0,377.7ZM262.6,377.7 262.3,375.6 262.0,373.6 313.7,373.6 314.5,375.6 315.2,377.7ZM151.3,373.6 152.2,371.5 153.1,369.4 189.2,369.4 188.7,371.5 188.2,373.6ZM232.5,373.6 232.5,371.5 232.5,369.4 239.7,369.4 239.8,371.5 239.9,373.6ZM269.4,373.6 269.0,371.5 268.6,369.4 319.1,369.4 320.1,371.5 321.1,373.6ZM153.1,369.4 154.1,367.3 155.2,365.2 204.4,365.2 204.0,367.3 203.6,369.4ZM218.1,369.4 218.3,367.3 218.4,365.2 239.5,365.2 239.6,367.3 239.7,369.4ZM261.4,369.4 261.0,367.3 260.6,365.2 316.8,365.2 318.0,367.3 319.1,369.4ZM148.2,365.2 149.5,362.9 150.9,360.7 198.5,360.7 197.9,362.9 197.4,365.2ZM218.4,365.2 218.7,362.9 218.9,360.7 320.9,360.7 322.4,362.9 323.9,365.2ZM150.9,360.7 152.6,358.4 154.4,356.2 199.9,356.2 199.2,358.4 198.5,360.7ZM212.1,360.7 212.5,358.4 213.0,356.2 317.2,356.2 319.0,358.4 320.9,360.7ZM154.4,356.2 156.5,353.7 158.8,351.4 318.5,351.4 321.1,353.7 323.7,356.2ZM134.2,351.4 138.4,348.6 142.8,346.2 260.5,346.2 261.9,348.6 263.2,351.4ZM269.4,351.4 267.8,348.6 266.1,346.2 322.2,346.2 326.6,348.6 330.8,351.4ZM131.6,346.2 145.4,341.7 159.8,340.2 176.0,340.2 164.8,341.7 154.0,346.2ZM260.5,346.2 256.7,341.7 252.7,340.2 305.2,340.2 319.6,341.7 333.4,346.2Z" fill="#fff"/>
<path d="M131.6,486.4 187.6,486.4M193.3,486.4 243.7,486.4M299.8,486.4 333.4,486.4M183.4,481.2 189.5,481.2M244.8,481.2 306.2,481.2M312.3,481.2 318.5,481.2M186.9,476.4 199.9,476.4M291.1,476.4 323.7,476.4M191.7,471.9 198.5,471.9M323.9,467.4 330.9,467.4M189.2,463.2 196.4,463.2M232.5,463.2 239.7,463.2M297.5,463.2 304.7,463.2M239.9,459.0 247.3,459.0M306.3,459.0 313.7,459.0M328.4,459.0 335.8,459.0M194.9,454.9 202.4,454.9M315.2,454.9 322.7,454.9M325.3,446.9 333.0,446.9M201.2,443.0 209.0,443.0M248.1,443.0 256.0,443.0M168.9,435.3 176.9,435.3M248.4,435.3 256.3,435.3M248.6,427.6 256.6,427.6M272.6,427.6 280.7,427.6M200.3,423.9 208.3,423.9M224.4,423.9 232.5,423.9M280.8,423.9 288.9,423.9M192.1,416.3 200.2,416.3M313.2,416.3 321.3,416.3M167.9,412.5 176.0,412.5M184.1,412.5 192.1,412.5M216.4,412.5 224.4,412.5M305.1,412.5 313.2,412.5M176.1,408.7 184.2,408.7M208.3,408.7 216.4,408.7M208.4,405.0 216.4,405.0M272.6,405.0 288.7,405.0M296.7,405.0 304.8,405.0M288.5,401.2 296.5,401.2M312.4,401.2 320.4,401.2M153.0,397.3 161.0,397.3M208.7,397.3 216.6,397.3M280.2,397.3 288.1,397.3M271.9,393.5 279.8,393.5M209.0,389.6 216.9,389.6M232.5,389.6 248.1,389.6M310.7,389.6 318.5,389.6M217.0,385.7 224.8,385.7M248.0,385.7 255.7,385.7M148.5,381.7 156.2,381.7M224.9,381.7 232.5,381.7M263.0,381.7 270.7,381.7M164.8,377.7 179.9,377.7M217.5,377.7 225.0,377.7M180.8,373.6 188.2,373.6M217.7,373.6 225.1,373.6M232.5,373.6 239.9,373.6M262.0,373.6 269.4,373.6M313.7,373.6 321.1,373.6M189.2,369.4 203.6,369.4M218.1,369.4 232.5,369.4M261.4,369.4 268.6,369.4M148.2,365.2 155.2,365.2M197.4,365.2 204.4,365.2M239.5,365.2 260.6,365.2M316.8,365.2 323.9,365.2M212.1,360.7 218.9,360.7M199.9,356.2 213.0,356.2M317.2,356.2 323.7,356.2M134.2,351.4 158.8,351.4M263.2,351.4 269.4,351.4M318.5,351.4 330.8,351.4M131.6,346.2 142.8,346.2M154.0,346.2 266.1,346.2M322.2,346.2 333.4,346.2M134.2,351.4 138.4,348.6 142.8,346.2M154.0,346.2 164.8,341.7 176.0,340.2M148.2,365.2 149.5,362.9 150.9,360.7 152.6,358.4 154.4,356.2 156.5,353.7 158.8,351.4M148.5,381.7 149.2,379.7 149.8,377.7 150.5,375.6 151.3,373.6 152.2,371.5 153.1,369.4 154.1,367.3 155.2,365.2M153.0,397.3 153.3,395.4 153.6,393.5 153.9,391.5 154.3,389.6 154.7,387.6 155.2,385.7 155.6,383.7 156.2,381.7M161.0,397.3 161.2,395.4 161.5,393.5 161.8,391.5 162.1,389.6 162.5,387.6 162.9,385.7 163.3,383.7 163.8,381.7 164.3,379.7 164.8,377.7M187.6,486.4 185.5,484.0 183.4,481.2M168.9,435.3 168.7,433.4 168.5,431.4 168.4,429.5 168.3,427.6 168.2,425.8 168.1,423.9 168.0,422.0 167.9,420.1 167.9,418.2 167.9,416.3 167.9,414.4 167.9,412.5M193.3,486.4 191.3,484.0 189.5,481.2M186.9,476.4 185.9,474.2 184.9,471.9 184.1,469.7 183.3,467.4 182.6,465.3 182.0,463.2 181.4,461.1 180.8,459.0 180.3,457.0 179.9,454.9 179.5,452.9 179.1,450.9 178.7,448.9 178.4,446.9 178.1,445.0 177.8,443.0 177.5,441.1 177.3,439.1 177.1,437.2 176.9,435.3M176.0,412.5 176.1,410.6 176.1,408.7M179.9,377.7 180.3,375.6 180.8,373.6M191.7,471.9 191.0,469.7 190.3,467.4 189.8,465.3 189.2,463.2M184.1,412.5 184.1,410.6 184.2,408.7M188.2,373.6 188.7,371.5 189.2,369.4M199.9,476.4 199.2,474.2 198.5,471.9M196.4,463.2 196.0,461.1 195.6,459.0 195.2,457.0 194.9,454.9M192.1,416.3 192.1,414.4 192.1,412.5M197.4,365.2 197.9,362.9 198.5,360.7 199.2,358.4 199.9,356.2M202.4,454.9 202.2,452.9 202.0,450.9 201.8,448.9 201.6,446.9 201.4,445.0 201.2,443.0M200.3,423.9 200.2,422.0 200.2,420.1 200.2,418.2 200.2,416.3M203.6,369.4 204.0,367.3 204.4,365.2M209.0,443.0 208.9,441.1 208.8,439.1 208.7,437.2 208.7,435.3 208.6,433.4 208.5,431.4 208.5,429.5 208.4,427.6 208.4,425.8 208.3,423.9M208.3,408.7 208.4,406.8 208.4,405.0M208.7,397.3 208.7,395.4 208.8,393.5 208.9,391.5 209.0,389.6M212.1,360.7 212.5,358.4 213.0,356.2M216.4,412.5 216.4,410.6 216.4,408.7M216.4,405.0 216.5,403.1 216.5,401.2 216.6,399.2 216.6,397.3M216.9,389.6 216.9,387.6 217.0,385.7M217.5,377.7 217.6,375.6 217.7,373.6M218.1,369.4 218.3,367.3 218.4,365.2 218.7,362.9 218.9,360.7M224.4,423.9 224.4,422.0 224.4,420.1 224.4,418.2 224.4,416.3 224.4,414.4 224.4,412.5M224.8,385.7 224.8,383.7 224.9,381.7M225.0,377.7 225.0,375.6 225.1,373.6M232.5,463.2 232.5,461.1 232.5,459.0 232.5,457.0 232.5,454.9 232.5,452.9 232.5,450.9 232.5,448.9 232.5,446.9 232.5,445.0 232.5,443.0 232.5,441.1 232.5,439.1 232.5,437.2 232.5,435.3 232.5,433.4 232.5,431.4 232.5,429.5 232.5,427.6 232.5,425.8 232.5,423.9M232.5,389.6 232.5,387.6 232.5,385.7 232.5,383.7 232.5,381.7M232.5,373.6 232.5,371.5 232.5,369.4M239.7,463.2 239.8,461.1 239.9,459.0M239.9,373.6 239.8,371.5 239.7,369.4 239.6,367.3 239.5,365.2M243.7,486.4 244.3,484.0 244.8,481.2M247.3,459.0 247.4,457.0 247.5,454.9 247.7,452.9 247.8,450.9 247.9,448.9 248.0,446.9 248.1,445.0 248.1,443.0M248.4,435.3 248.4,433.4 248.5,431.4 248.5,429.5 248.6,427.6M248.1,389.6 248.1,387.6 248.0,385.7M256.0,443.0 256.1,441.1 256.2,439.1 256.3,437.2 256.3,435.3M256.6,427.6 256.6,425.8 256.7,423.9 256.7,422.0 256.7,420.1 256.7,418.2 256.7,416.3 256.7,414.4 256.7,412.5 256.7,410.6 256.7,408.7 256.6,406.8 256.6,405.0 256.5,403.1 256.5,401.2 256.4,399.2 256.3,397.3 256.3,395.4 256.2,393.5 256.1,391.5 256.0,389.6 255.8,387.6 255.7,385.7M263.0,381.7 262.8,379.7 262.6,377.7 262.3,375.6 262.0,373.6M261.4,369.4 261.0,367.3 260.6,365.2M272.6,427.6 272.7,425.8 272.8,423.9 272.8,422.0 272.9,420.1 272.9,418.2 272.9,416.3 272.9,414.4 272.9,412.5 272.8,410.6 272.8,408.7 272.7,406.8 272.6,405.0M271.9,393.5 271.8,391.5 271.6,389.6 271.4,387.6 271.2,385.7 270.9,383.7 270.7,381.7M269.4,373.6 269.0,371.5 268.6,369.4M263.2,351.4 261.9,348.6 260.5,346.2 256.7,341.7 252.7,340.2M280.7,427.6 280.8,425.8 280.8,423.9M280.2,397.3 280.0,395.4 279.8,393.5M269.4,351.4 267.8,348.6 266.1,346.2M288.9,423.9 288.9,422.0 289.0,420.1 289.0,418.2 289.0,416.3 289.0,414.4 289.0,412.5 288.9,410.6 288.9,408.7 288.8,406.8 288.7,405.0M288.5,401.2 288.3,399.2 288.1,397.3M296.7,405.0 296.6,403.1 296.5,401.2M291.1,476.4 292.4,474.2 293.7,471.9 294.7,469.7 295.7,467.4 296.6,465.3 297.5,463.2M305.1,412.5 305.1,410.6 305.0,408.7 304.9,406.8 304.8,405.0M304.7,463.2 305.5,461.1 306.3,459.0M313.2,416.3 313.2,414.4 313.2,412.5M312.4,401.2 312.2,399.2 312.0,397.3 311.7,395.4 311.4,393.5 311.1,391.5 310.7,389.6M313.7,459.0 314.5,457.0 315.2,454.9M321.3,416.3 321.3,414.4 321.3,412.5 321.2,410.6 321.1,408.7 321.0,406.8 320.8,405.0 320.6,403.1 320.4,401.2M318.5,389.6 318.1,387.6 317.6,385.7 317.0,383.7 316.5,381.7 315.8,379.7 315.2,377.7 314.5,375.6 313.7,373.6M299.8,486.4 303.1,484.0 306.2,481.2M322.7,454.9 323.4,452.9 324.1,450.9 324.7,448.9 325.3,446.9M321.1,373.6 320.1,371.5 319.1,369.4 318.0,367.3 316.8,365.2M312.3,481.2 314.8,478.9 317.2,476.4 319.0,474.2 320.9,471.9 322.4,469.7 323.9,467.4M328.4,459.0 329.4,457.0 330.2,454.9 331.0,452.9 331.7,450.9 332.4,448.9 333.0,446.9M323.9,365.2 322.4,362.9 320.9,360.7 319.0,358.4 317.2,356.2M318.5,481.2 321.1,478.9 323.7,476.4M330.9,467.4 332.2,465.3 333.6,463.2 334.7,461.1 335.8,459.0M323.7,356.2 321.1,353.7 318.5,351.4M330.8,351.4 326.6,348.6 322.2,346.2" fill="none" stroke="#000" stroke-width="1.9" stroke-linecap="square"/>
</g>
<path d="M305.2,492.4 309.0,492.3 312.8,492.0 316.5,491.5 320.3,490.7 324.0,489.8 327.6,488.7 331.2,487.3 334.7,485.8 338.2,484.1 341.5,482.2 344.8,480.1 347.9,477.9 350.9,475.4 353.8,472.9 356.6,470.1 359.2,467.2 361.7,464.2 364.0,461.0 366.1,457.7 368.1,454.4 369.9,450.8 371.6,447.3 373.0,443.6 374.3,439.8 375.4,436.0 376.3,432.1 377.0,428.2 377.5,424.3 377.8,420.3 377.9,416.3 377.8,412.3 377.5,408.3 377.0,404.4 376.3,400.5 375.4,396.6 374.3,392.8 373.0,389.0 371.6,385.3 369.9,381.8 368.1,378.2 366.1,374.9 364.0,371.6 361.7,368.4 359.2,365.4 356.6,362.5 353.8,359.7 350.9,357.2 347.9,354.7 344.8,352.5 341.5,350.4 338.2,348.5 334.7,346.8 331.2,345.3 327.6,343.9 324.0,342.8 320.3,341.9 316.5,341.1 312.8,340.6 309.0,340.3 305.2,340.2 159.8,340.2 156.0,340.3 152.2,340.6 148.5,341.1 144.7,341.9 141.0,342.8 137.4,343.9 133.8,345.3 130.3,346.8 126.8,348.5 123.5,350.4 120.2,352.5 117.1,354.7 114.1,357.2 111.2,359.7 108.4,362.5 105.8,365.4 103.3,368.4 101.0,371.6 98.9,374.9 96.9,378.2 95.1,381.8 93.4,385.3 92.0,389.0 90.7,392.8 89.6,396.6 88.7,400.5 88.0,404.4 87.5,408.3 87.2,412.3 87.2,416.3 87.2,420.3 87.5,424.3 88.0,428.2 88.7,432.1 89.6,436.0 90.7,439.8 92.0,443.6 93.4,447.3 95.1,450.8 96.9,454.4 98.9,457.7 101.0,461.0 103.3,464.2 105.8,467.2 108.4,470.1 111.2,472.9 114.1,475.4 117.1,477.9 120.2,480.1 123.5,482.2 126.8,484.1 130.3,485.8 133.8,487.3 137.4,488.7 141.0,489.8 144.7,490.7 148.5,491.5 152.2,492.0 156.0,492.3 159.8,492.4Z" fill="none" stroke="#000" stroke-width="2.1"/>
<clipPath id="c538_416"><path d="M610.7,492.4 614.5,492.3 618.3,492.0 622.0,491.5 625.8,490.7 629.5,489.8 633.1,488.7 636.7,487.3 640.2,485.8 643.7,484.1 647.0,482.2 650.3,480.1 653.4,477.9 656.4,475.4 659.3,472.9 662.1,470.1 664.7,467.2 667.2,464.2 669.5,461.0 671.6,457.7 673.6,454.4 675.4,450.8 677.1,447.3 678.5,443.6 679.8,439.8 680.9,436.0 681.8,432.1 682.5,428.2 683.0,424.3 683.3,420.3 683.4,416.3 683.3,412.3 683.0,408.3 682.5,404.4 681.8,400.5 680.9,396.6 679.8,392.8 678.5,389.0 677.1,385.3 675.4,381.8 673.6,378.2 671.6,374.9 669.5,371.6 667.2,368.4 664.7,365.4 662.1,362.5 659.3,359.7 656.4,357.2 653.4,354.7 650.3,352.5 647.0,350.4 643.7,348.5 640.2,346.8 636.7,345.3 633.1,343.9 629.5,342.8 625.8,341.9 622.0,341.1 618.3,340.6 614.5,340.3 610.7,340.2 465.3,340.2 461.5,340.3 457.7,340.6 454.0,341.1 450.2,341.9 446.5,342.8 442.9,343.9 439.3,345.3 435.8,346.8 432.3,348.5 429.0,350.4 425.7,352.5 422.6,354.7 419.6,357.2 416.7,359.7 413.9,362.5 411.3,365.4 408.8,368.4 406.5,371.6 404.4,374.9 402.4,378.2 400.6,381.8 398.9,385.3 397.5,389.0 396.2,392.8 395.1,396.6 394.2,400.5 393.5,404.4 393.0,408.3 392.7,412.3 392.6,416.3 392.7,420.3 393.0,424.3 393.5,428.2 394.2,432.1 395.1,436.0 396.2,439.8 397.5,443.6 398.9,447.3 400.6,450.8 402.4,454.4 404.4,457.7 406.5,461.0 408.8,464.2 411.3,467.2 413.9,470.1 416.7,472.9 419.6,475.4 422.6,477.9 425.7,480.1 429.0,482.2 432.3,484.1 435.8,485.8 439.3,487.3 442.9,488.7 446.5,489.8 450.2,490.7 454.0,491.5 457.7,492.0 461.5,492.3 465.3,492.4Z"/></clipPath>
<g clip-path="url(#c538_416)">
<path d="M610.7,492.4 614.5,492.3 618.3,492.0 622.0,491.5 625.8,490.7 629.5,489.8 633.1,488.7 636.7,487.3 640.2,485.8 643.7,484.1 647.0,482.2 650.3,480.1 653.4,477.9 656.4,475.4 659.3,472.9 662.1,470.1 664.7,467.2 667.2,464.2 669.5,461.0 671.6,457.7 673.6,454.4 675.4,450.8 677.1,447.3 678.5,443.6 679.8,439.8 680.9,436.0 681.8,432.1 682.5,428.2 683.0,424.3 683.3,420.3 683.4,416.3 683.3,412.3 683.0,408.3 682.5,404.4 681.8,400.5 680.9,396.6 679.8,392.8 678.5,389.0 677.1,385.3 675.4,381.8 673.6,378.2 671.6,374.9 669.5,371.6 667.2,368.4 664.7,365.4 662.1,362.5 659.3,359.7 656.4,357.2 653.4,354.7 650.3,352.5 647.0,350.4 643.7,348.5 640.2,346.8 636.7,345.3 633.1,343.9 629.5,342.8 625.8,341.9 622.0,341.1 618.3,340.6 614.5,340.3 610.7,340.2 465.3,340.2 461.5,340.3 457.7,340.6 454.0,341.1 450.2,341.9 446.5,342.8 442.9,343.9 439.3,345.3 435.8,346.8 432.3,348.5 429.0,350.4 425.7,352.5 422.6,354.7 419.6,357.2 416.7,359.7 413.9,362.5 411.3,365.4 408.8,368.4 406.5,371.6 404.4,374.9 402.4,378.2 400.6,381.8 398.9,385.3 397.5,389.0 396.2,392.8 395.1,396.6 394.2,400.5 393.5,404.4 393.0,408.3 392.7,412.3 392.6,416.3 392.7,420.3 393.0,424.3 393.5,428.2 394.2,432.1 395.1,436.0 396.2,439.8 397.5,443.6 398.9,447.3 400.6,450.8 402.4,454.4 404.4,457.7 406.5,461.0 408.8,464.2 411.3,467.2 413.9,470.1 416.7,472.9 419.6,475.4 422.6,477.9 425.7,480.1 429.0,482.2 432.3,484.1 435.8,485.8 439.3,487.3 442.9,488.7 446.5,489.8 450.2,490.7 454.0,491.5 457.7,492.0 461.5,492.3 465.3,492.4Z" fill="#8b8bca"/>
<path d="M583.6,476.4 584.6,474.2 585.6,471.9 599.2,471.9 597.9,474.2 596.6,476.4ZM585.6,471.9 586.4,469.7 587.2,467.4 601.2,467.4 600.2,469.7 599.2,471.9ZM523.9,467.4 523.8,465.3 523.6,463.2 538.0,463.2 538.0,465.3 538.0,467.4ZM587.2,467.4 587.9,465.3 588.5,463.2 603.0,463.2 602.1,465.3 601.2,467.4ZM523.6,463.2 523.4,461.1 523.2,459.0 538.0,459.0 538.0,461.1 538.0,463.2ZM588.5,463.2 589.1,461.1 589.7,459.0 604.4,459.0 603.7,461.1 603.0,463.2ZM508.5,459.0 508.2,457.0 507.9,454.9 538.0,454.9 538.0,457.0 538.0,459.0ZM589.7,459.0 590.2,457.0 590.6,454.9 613.2,454.9 612.5,457.0 611.8,459.0ZM507.9,454.9 507.7,452.9 507.5,450.9 538.0,450.9 538.0,452.9 538.0,454.9ZM590.6,454.9 591.0,452.9 591.4,450.9 622.0,450.9 621.3,452.9 620.7,454.9ZM507.5,450.9 507.3,448.9 507.1,446.9 538.0,446.9 538.0,448.9 538.0,450.9ZM591.4,450.9 591.8,448.9 592.1,446.9 623.1,446.9 622.5,448.9 622.0,450.9ZM514.8,446.9 514.7,445.0 514.5,443.0 538.0,443.0 538.0,445.0 538.0,446.9ZM592.1,446.9 592.4,445.0 592.7,443.0 647.5,443.0 646.9,445.0 646.3,446.9ZM514.5,443.0 514.4,441.1 514.3,439.1 538.0,439.1 538.0,441.1 538.0,443.0ZM592.7,443.0 593.0,441.1 593.2,439.1 656.3,439.1 655.8,441.1 655.3,443.0ZM514.3,439.1 514.2,437.2 514.2,435.3 538.0,435.3 538.0,437.2 538.0,439.1ZM593.2,439.1 593.4,437.2 593.6,435.3 657.2,435.3 656.8,437.2 656.3,439.1ZM514.2,435.3 514.1,433.4 514.0,431.4 538.0,431.4 538.0,433.4 538.0,435.3ZM593.6,435.3 593.8,433.4 594.0,431.4 665.9,431.4 665.6,433.4 665.2,435.3ZM514.0,431.4 514.0,429.5 513.9,427.6 538.0,427.6 538.0,429.5 538.0,431.4ZM562.0,431.4 562.0,429.5 562.1,427.6 570.1,427.6 570.1,429.5 570.0,431.4ZM594.0,431.4 594.1,429.5 594.2,427.6 666.5,427.6 666.2,429.5 665.9,431.4ZM513.9,427.6 513.9,425.8 513.8,423.9 529.9,423.9 530.0,425.8 530.0,427.6ZM562.1,427.6 562.1,425.8 562.2,423.9 570.2,423.9 570.2,425.8 570.1,427.6ZM594.2,427.6 594.3,425.8 594.4,423.9 666.9,423.9 666.7,425.8 666.5,427.6ZM513.8,423.9 513.8,422.0 513.8,420.1 529.9,420.1 529.9,422.0 529.9,423.9ZM562.2,423.9 562.2,422.0 562.2,420.1 570.3,420.1 570.3,422.0 570.2,423.9ZM594.4,423.9 594.4,422.0 594.5,420.1 683.3,420.1 683.1,422.0 683.0,423.9ZM505.7,420.1 505.7,418.2 505.7,416.3 529.9,416.3 529.9,418.2 529.9,420.1ZM562.2,420.1 562.2,418.2 562.2,416.3 570.3,416.3 570.3,418.2 570.3,420.1ZM594.5,420.1 594.5,418.2 594.5,416.3 683.4,416.3 683.3,418.2 683.3,420.1ZM497.6,416.3 497.6,414.4 497.6,412.5 521.9,412.5 521.9,414.4 521.9,416.3ZM610.7,416.3 610.7,414.4 610.6,412.5 618.7,412.5 618.7,414.4 618.8,416.3ZM626.8,416.3 626.8,414.4 626.8,412.5 683.3,412.5 683.3,414.4 683.4,416.3ZM392.7,412.5 392.9,410.6 393.0,408.7 401.1,408.7 400.9,410.6 400.8,412.5ZM497.6,412.5 497.7,410.6 497.7,408.7 513.8,408.7 513.8,410.6 513.8,412.5ZM626.8,412.5 626.7,410.6 626.6,408.7 683.0,408.7 683.1,410.6 683.3,412.5ZM393.0,408.7 393.2,406.8 393.5,405.0 409.5,405.0 409.3,406.8 409.1,408.7ZM489.7,408.7 489.7,406.8 489.8,405.0 513.9,405.0 513.9,406.8 513.8,408.7ZM626.6,408.7 626.5,406.8 626.3,405.0 682.5,405.0 682.8,406.8 683.0,408.7ZM393.5,405.0 393.8,403.1 394.1,401.2 418.1,401.2 417.8,403.1 417.6,405.0ZM489.8,405.0 489.9,403.1 490.0,401.2 514.0,401.2 514.0,403.1 513.9,405.0ZM570.1,405.0 570.1,403.1 570.0,401.2 578.0,401.2 578.1,403.1 578.1,405.0ZM626.3,405.0 626.1,403.1 625.9,401.2 681.9,401.2 682.2,403.1 682.5,405.0ZM394.1,401.2 394.5,399.2 394.9,397.3 426.7,397.3 426.4,399.2 426.1,401.2ZM490.0,401.2 490.2,399.2 490.3,397.3 514.2,397.3 514.1,399.2 514.0,401.2ZM570.0,401.2 569.9,399.2 569.8,397.3 577.7,397.3 577.9,399.2 578.0,401.2ZM617.9,401.2 617.7,399.2 617.5,397.3 681.1,397.3 681.5,399.2 681.9,401.2ZM394.9,397.3 395.4,395.4 396.0,393.5 427.6,393.5 427.1,395.4 426.7,397.3ZM482.4,397.3 482.6,395.4 482.8,393.5 514.3,393.5 514.2,395.4 514.2,397.3ZM569.8,397.3 569.7,395.4 569.6,393.5 577.4,393.5 577.6,395.4 577.7,397.3ZM617.5,397.3 617.2,395.4 616.9,393.5 680.0,393.5 680.6,395.4 681.1,397.3ZM396.0,393.5 396.6,391.5 397.3,389.6 420.7,389.6 420.2,391.5 419.7,393.5ZM482.8,393.5 483.0,391.5 483.3,389.6 514.5,389.6 514.4,391.5 514.3,393.5ZM569.6,393.5 569.4,391.5 569.3,389.6 577.1,389.6 577.3,391.5 577.4,393.5ZM624.8,393.5 624.4,391.5 624.0,389.6 678.7,389.6 679.4,391.5 680.0,393.5ZM397.3,389.6 398.0,387.6 398.8,385.7 422.0,385.7 421.3,387.6 420.7,389.6ZM467.6,389.6 468.0,387.6 468.4,385.7 476.1,385.7 475.8,387.6 475.5,389.6ZM483.3,389.6 483.6,387.6 483.9,385.7 522.5,385.7 522.4,387.6 522.4,389.6ZM561.5,389.6 561.3,387.6 561.2,385.7 576.7,385.7 576.9,387.6 577.1,389.6ZM624.0,389.6 623.6,387.6 623.1,385.7 677.2,385.7 678.0,387.6 678.7,389.6ZM398.8,385.7 399.7,383.7 400.6,381.7 423.5,381.7 422.7,383.7 422.0,385.7ZM468.4,385.7 468.8,383.7 469.3,381.7 476.9,381.7 476.5,383.7 476.1,385.7ZM483.9,385.7 484.2,383.7 484.6,381.7 522.7,381.7 522.6,383.7 522.5,385.7ZM545.7,385.7 545.7,383.7 545.6,381.7 553.3,381.7 553.4,383.7 553.5,385.7ZM561.2,385.7 561.1,383.7 560.9,381.7 568.5,381.7 568.7,383.7 568.9,385.7ZM623.1,385.7 622.5,383.7 622.0,381.7 675.4,381.7 676.3,383.7 677.2,385.7ZM400.6,381.7 401.6,379.7 402.7,377.7 425.2,377.7 424.3,379.7 423.5,381.7ZM484.6,381.7 485.0,379.7 485.4,377.7 523.0,377.7 522.8,379.7 522.7,381.7ZM545.6,381.7 545.6,379.7 545.5,377.7 553.0,377.7 553.2,379.7 553.3,381.7ZM560.9,381.7 560.7,379.7 560.6,377.7 568.1,377.7 568.3,379.7 568.5,381.7ZM629.6,381.7 628.9,379.7 628.2,377.7 673.3,377.7 674.4,379.7 675.4,381.7ZM402.7,377.7 403.9,375.6 405.2,373.6 419.9,373.6 418.8,375.6 417.7,377.7ZM485.4,377.7 485.8,375.6 486.3,373.6 523.2,373.6 523.1,375.6 523.0,377.7ZM628.2,377.7 627.4,375.6 626.6,373.6 670.8,373.6 672.1,375.6 673.3,377.7ZM405.2,373.6 406.6,371.5 408.1,369.4 422.5,369.4 421.2,371.5 419.9,373.6ZM493.7,373.6 494.2,371.5 494.7,369.4 523.6,369.4 523.4,371.5 523.2,373.6ZM626.6,373.6 625.6,371.5 624.6,369.4 667.9,369.4 669.4,371.5 670.8,373.6ZM408.1,369.4 409.8,367.3 411.5,365.2 432.6,365.2 431.1,367.3 429.7,369.4ZM509.1,369.4 509.5,367.3 509.9,365.2 523.9,365.2 523.8,367.3 523.6,369.4ZM624.6,369.4 623.5,367.3 622.3,365.2 664.5,365.2 666.2,367.3 667.9,369.4ZM411.5,365.2 413.5,362.9 415.7,360.7 442.8,360.7 441.2,362.9 439.6,365.2ZM509.9,365.2 510.3,362.9 510.8,360.7 517.6,360.7 517.3,362.9 516.9,365.2ZM629.4,365.2 627.9,362.9 626.4,360.7 660.3,360.7 662.5,362.9 664.5,365.2ZM415.7,360.7 418.2,358.4 420.8,356.2 453.3,356.2 451.5,358.4 449.6,360.7ZM633.2,360.7 631.2,358.4 629.2,356.2 655.2,356.2 657.8,358.4 660.3,360.7ZM420.8,356.2 424.0,353.7 427.4,351.4 464.3,351.4 462.0,353.7 459.9,356.2ZM642.2,356.2 639.3,353.7 636.3,351.4 648.6,351.4 652.0,353.7 655.2,356.2Z" fill="#b9b9df"/>
<path d="M424.5,479.2H651.5M400.6,450.9H675.4M392.6,416.3H683.4M400.6,381.7H675.4M424.5,353.4H651.5M489.6,492.4 485.7,492.2 482.0,491.5 478.2,490.3 474.6,488.7 471.0,486.6 467.6,484.1 464.2,481.2 461.1,477.9 458.1,474.2 455.3,470.1 452.7,465.7 450.4,461.0 448.2,456.1 446.4,450.8 444.8,445.4 443.5,439.8 442.4,434.1 441.7,428.2 441.2,422.3 441.1,416.3 441.2,410.3 441.7,404.4 442.4,398.5 443.5,392.8 444.8,387.2 446.4,381.8 448.2,376.5 450.4,371.6 452.7,366.9 455.3,362.5 458.1,358.4 461.1,354.7 464.2,351.4 467.6,348.5 471.0,346.0 474.6,343.9 478.2,342.3 482.0,341.1 485.7,340.4 489.6,340.2M513.8,492.4 511.9,492.2 510.0,491.5 508.1,490.3 506.3,488.7 504.5,486.6 502.8,484.1 501.1,481.2 499.5,477.9 498.0,474.2 496.6,470.1 495.4,465.7 494.2,461.0 493.1,456.1 492.2,450.8 491.4,445.4 490.7,439.8 490.2,434.1 489.8,428.2 489.6,422.3 489.6,416.3 489.6,410.3 489.8,404.4 490.2,398.5 490.7,392.8 491.4,387.2 492.2,381.8 493.1,376.5 494.2,371.6 495.4,366.9 496.6,362.5 498.0,358.4 499.5,354.7 501.1,351.4 502.8,348.5 504.5,346.0 506.3,343.9 508.1,342.3 510.0,341.1 511.9,340.4 513.8,340.2M538.0,492.4 538.0,492.2 538.0,491.5 538.0,490.3 538.0,488.7 538.0,486.6 538.0,484.1 538.0,481.2 538.0,477.9 538.0,474.2 538.0,470.1 538.0,465.7 538.0,461.0 538.0,456.1 538.0,450.8 538.0,445.4 538.0,439.8 538.0,434.1 538.0,428.2 538.0,422.3 538.0,416.3 538.0,410.3 538.0,404.4 538.0,398.5 538.0,392.8 538.0,387.2 538.0,381.8 538.0,376.5 538.0,371.6 538.0,366.9 538.0,362.5 538.0,358.4 538.0,354.7 538.0,351.4 538.0,348.5 538.0,346.0 538.0,343.9 538.0,342.3 538.0,341.1 538.0,340.4 538.0,340.2M562.2,492.4 564.1,492.2 566.0,491.5 567.9,490.3 569.7,488.7 571.5,486.6 573.2,484.1 574.9,481.2 576.5,477.9 578.0,474.2 579.4,470.1 580.6,465.7 581.8,461.0 582.9,456.1 583.8,450.8 584.6,445.4 585.3,439.8 585.8,434.1 586.2,428.2 586.4,422.3 586.5,416.3 586.4,410.3 586.2,404.4 585.8,398.5 585.3,392.8 584.6,387.2 583.8,381.8 582.9,376.5 581.8,371.6 580.6,366.9 579.4,362.5 578.0,358.4 576.5,354.7 574.9,351.4 573.2,348.5 571.5,346.0 569.7,343.9 567.9,342.3 566.0,341.1 564.1,340.4 562.2,340.2M586.5,492.4 590.3,492.2 594.0,491.5 597.8,490.3 601.4,488.7 605.0,486.6 608.4,484.1 611.8,481.2 614.9,477.9 617.9,474.2 620.7,470.1 623.3,465.7 625.6,461.0 627.8,456.1 629.6,450.8 631.2,445.4 632.5,439.8 633.6,434.1 634.3,428.2 634.8,422.3 634.9,416.3 634.8,410.3 634.3,404.4 633.6,398.5 632.5,392.8 631.2,387.2 629.6,381.8 627.8,376.5 625.6,371.6 623.3,366.9 620.7,362.5 617.9,358.4 614.9,354.7 611.8,351.4 608.4,348.5 605.0,346.0 601.4,343.9 597.8,342.3 594.0,341.1 590.3,340.4 586.5,340.2" fill="none" stroke="#8f8f8f" stroke-opacity="0.9" stroke-width="0.8" stroke-dasharray="2.6,1.3"/>
<path d="M508.5,459.0 512.2,459.0 519.6,459.0 523.4,461.1 523.7,465.3 527.5,467.4 534.5,467.4 538.0,465.3 538.0,463.2M638.5,446.9 642.4,446.9 646.9,445.0 651.4,443.0 655.8,441.1 656.8,437.2 661.2,435.3 665.6,433.4 666.2,429.5 666.7,425.7 670.9,423.9 679.0,423.9 683.1,422.0 683.3,418.2 683.3,414.4M566.0,431.4 570.0,431.4M392.9,422.0 392.7,418.2 392.7,414.4 396.8,412.5 400.9,410.6 405.1,408.7 409.3,406.9 413.5,405.0 417.8,403.1 422.1,401.2 426.4,399.2 427.1,395.4 423.6,393.5 420.2,391.5 421.3,387.6 422.7,383.7 424.3,379.7 421.5,377.7 418.8,375.7 421.2,371.5 426.1,369.4 431.1,367.3 436.1,365.2 441.2,363.0 446.2,360.7 451.4,358.5 456.6,356.2M594.5,420.1 594.4,422.0 594.3,425.7 594.1,429.5 593.8,433.4 593.4,437.2 593.0,441.1 592.4,445.0 591.8,448.9 591.0,452.9 590.2,456.9 589.1,461.1 587.9,465.3 586.4,469.6 584.6,474.1 586.8,476.4 593.4,476.4 596.6,476.4M610.6,412.5 610.7,414.4 606.6,416.3 598.6,416.3M486.3,397.3 490.2,399.2 490.0,401.2M433.6,351.4 430.5,351.4 427.4,351.4" fill="none" stroke="#000" stroke-width="0.9" stroke-dasharray="3,2"/>

<path d="M465.3,492.4 450.9,490.9 437.1,486.4 638.9,486.4 625.1,490.9 610.7,492.4ZM487.5,486.4 485.1,484.0 482.7,481.2 501.1,481.2 502.7,484.0 504.4,486.4ZM538.0,486.4 538.0,484.0 538.0,481.2 630.1,481.2 626.2,484.0 622.1,486.4ZM427.4,481.2 424.0,478.9 420.8,476.4 427.3,476.4 430.4,478.9 433.6,481.2ZM495.0,481.2 493.7,478.9 492.4,476.4 505.4,476.4 506.3,478.9 507.3,481.2ZM611.7,481.2 614.0,478.9 616.1,476.4 629.2,476.4 626.6,478.9 624.0,481.2ZM642.4,481.2 645.6,478.9 648.7,476.4 655.2,476.4 652.0,478.9 648.6,481.2ZM492.4,476.4 491.4,474.2 490.4,471.9 504.0,471.9 504.7,474.2 505.4,476.4ZM596.6,476.4 597.9,474.2 599.2,471.9 633.2,471.9 631.2,474.2 629.2,476.4ZM648.7,476.4 651.2,474.2 653.5,471.9 660.3,471.9 657.8,474.2 655.2,476.4ZM490.4,471.9 489.6,469.7 488.8,467.4 502.9,467.4 503.4,469.7 504.0,471.9ZM599.2,471.9 600.2,469.7 601.2,467.4 643.4,467.4 641.7,469.7 640.0,471.9ZM488.8,467.4 488.1,465.3 487.5,463.2 501.9,463.2 502.4,465.3 502.9,467.4ZM601.2,467.4 602.1,465.3 603.0,463.2 646.3,463.2 644.9,465.3 643.4,467.4ZM487.5,463.2 486.9,461.1 486.3,459.0 501.1,459.0 501.5,461.1 501.9,463.2ZM538.0,463.2 538.0,461.1 538.0,459.0 545.4,459.0 545.3,461.1 545.2,463.2ZM603.0,463.2 603.7,461.1 604.4,459.0 641.3,459.0 640.2,461.1 639.1,463.2ZM486.3,459.0 485.8,457.0 485.4,454.9 507.9,454.9 508.2,457.0 508.5,459.0ZM538.0,459.0 538.0,457.0 538.0,454.9 553.0,454.9 552.9,457.0 552.8,459.0ZM611.8,459.0 612.5,457.0 613.2,454.9 643.2,454.9 642.3,457.0 641.3,459.0ZM485.4,454.9 485.0,452.9 484.6,450.9 507.5,450.9 507.7,452.9 507.9,454.9ZM538.0,454.9 538.0,452.9 538.0,450.9 553.3,450.9 553.2,452.9 553.0,454.9ZM620.7,454.9 621.3,452.9 622.0,450.9 637.2,450.9 636.5,452.9 635.7,454.9ZM484.6,450.9 484.2,448.9 483.9,446.9 507.1,446.9 507.3,448.9 507.5,450.9ZM538.0,450.9 538.0,448.9 538.0,446.9 553.5,446.9 553.4,448.9 553.3,450.9ZM560.9,450.9 561.1,448.9 561.2,446.9 568.9,446.9 568.7,448.9 568.5,450.9ZM622.0,450.9 622.5,448.9 623.1,446.9 638.5,446.9 637.9,448.9 637.2,450.9ZM483.9,446.9 483.6,445.0 483.3,443.0 514.5,443.0 514.7,445.0 514.8,446.9ZM538.0,446.9 538.0,445.0 538.0,443.0 561.5,443.0 561.3,445.0 561.2,446.9ZM483.3,443.0 483.0,441.1 482.8,439.1 514.3,439.1 514.4,441.1 514.5,443.0ZM538.0,443.0 538.0,441.1 538.0,439.1 561.7,439.1 561.6,441.1 561.5,443.0ZM482.8,439.1 482.6,437.2 482.4,435.3 514.2,435.3 514.2,437.2 514.3,439.1ZM538.0,439.1 538.0,437.2 538.0,435.3 561.8,435.3 561.8,437.2 561.7,439.1ZM474.4,435.3 474.2,433.4 474.0,431.4 514.0,431.4 514.1,433.4 514.2,435.3ZM538.0,435.3 538.0,433.4 538.0,431.4 562.0,431.4 561.9,433.4 561.8,435.3ZM474.0,431.4 473.9,429.5 473.8,427.6 513.9,427.6 514.0,429.5 514.0,431.4ZM538.0,431.4 538.0,429.5 538.0,427.6 562.1,427.6 562.0,429.5 562.0,431.4ZM570.0,431.4 570.1,429.5 570.1,427.6 586.2,427.6 586.1,429.5 586.0,431.4ZM473.8,427.6 473.7,425.8 473.6,423.9 513.8,423.9 513.9,425.8 513.9,427.6ZM530.0,427.6 530.0,425.8 529.9,423.9 562.2,423.9 562.1,425.8 562.1,427.6ZM570.1,427.6 570.2,425.8 570.2,423.9 586.3,423.9 586.3,425.8 586.2,427.6ZM473.6,423.9 473.5,422.0 473.4,420.1 513.8,420.1 513.8,422.0 513.8,423.9ZM529.9,423.9 529.9,422.0 529.9,420.1 562.2,420.1 562.2,422.0 562.2,423.9ZM570.2,423.9 570.3,422.0 570.3,420.1 586.4,420.1 586.4,422.0 586.3,423.9ZM473.4,420.1 473.4,418.2 473.4,416.3 505.7,416.3 505.7,418.2 505.7,420.1ZM529.9,420.1 529.9,418.2 529.9,416.3 562.2,416.3 562.2,418.2 562.2,420.1ZM570.3,420.1 570.3,418.2 570.3,416.3 594.5,416.3 594.5,418.2 594.5,420.1ZM473.4,416.3 473.4,414.4 473.4,412.5 497.6,412.5 497.6,414.4 497.6,416.3ZM521.9,416.3 521.9,414.4 521.9,412.5 594.5,412.5 594.5,414.4 594.5,416.3ZM618.8,416.3 618.7,414.4 618.7,412.5 626.8,412.5 626.8,414.4 626.8,416.3ZM481.5,412.5 481.6,410.6 481.6,408.7 497.7,408.7 497.7,410.6 497.6,412.5ZM513.8,412.5 513.8,410.6 513.8,408.7 594.4,408.7 594.4,410.6 594.5,412.5ZM610.6,412.5 610.6,410.6 610.5,408.7 626.6,408.7 626.7,410.6 626.8,412.5ZM481.6,408.7 481.7,406.8 481.8,405.0 489.8,405.0 489.7,406.8 489.7,408.7ZM513.8,408.7 513.9,406.8 513.9,405.0 594.2,405.0 594.3,406.8 594.4,408.7ZM610.5,408.7 610.4,406.8 610.3,405.0 626.3,405.0 626.5,406.8 626.6,408.7ZM481.8,405.0 481.9,403.1 482.0,401.2 490.0,401.2 489.9,403.1 489.8,405.0ZM513.9,405.0 514.0,403.1 514.0,401.2 570.0,401.2 570.1,403.1 570.1,405.0ZM578.1,405.0 578.1,403.1 578.0,401.2 594.0,401.2 594.1,403.1 594.2,405.0ZM610.3,405.0 610.1,403.1 609.9,401.2 625.9,401.2 626.1,403.1 626.3,405.0ZM474.0,401.2 474.2,399.2 474.4,397.3 482.4,397.3 482.2,399.2 482.0,401.2ZM514.0,401.2 514.1,399.2 514.2,397.3 569.8,397.3 569.9,399.2 570.0,401.2ZM578.0,401.2 577.9,399.2 577.7,397.3 593.6,397.3 593.8,399.2 594.0,401.2ZM602.0,401.2 601.8,399.2 601.6,397.3 617.5,397.3 617.7,399.2 617.9,401.2ZM458.5,397.3 458.8,395.4 459.1,393.5 482.8,393.5 482.6,395.4 482.4,397.3ZM514.2,397.3 514.2,395.4 514.3,393.5 569.6,393.5 569.7,395.4 569.8,397.3ZM577.7,397.3 577.6,395.4 577.4,393.5 616.9,393.5 617.2,395.4 617.5,397.3ZM459.1,393.5 459.4,391.5 459.8,389.6 483.3,389.6 483.0,391.5 482.8,393.5ZM514.3,393.5 514.4,391.5 514.5,389.6 569.3,389.6 569.4,391.5 569.6,393.5ZM577.4,393.5 577.3,391.5 577.1,389.6 624.0,389.6 624.4,391.5 624.8,393.5ZM459.8,389.6 460.2,387.6 460.7,385.7 468.4,385.7 468.0,387.6 467.6,389.6ZM475.5,389.6 475.8,387.6 476.1,385.7 483.9,385.7 483.6,387.6 483.3,389.6ZM522.4,389.6 522.4,387.6 522.5,385.7 561.2,385.7 561.3,387.6 561.5,389.6ZM577.1,389.6 576.9,387.6 576.7,385.7 623.1,385.7 623.6,387.6 624.0,389.6ZM460.7,385.7 461.1,383.7 461.7,381.7 469.3,381.7 468.8,383.7 468.4,385.7ZM476.1,385.7 476.5,383.7 476.9,381.7 484.6,381.7 484.2,383.7 483.9,385.7ZM522.5,385.7 522.6,383.7 522.7,381.7 545.6,381.7 545.7,383.7 545.7,385.7ZM553.5,385.7 553.4,383.7 553.3,381.7 560.9,381.7 561.1,383.7 561.2,385.7ZM568.9,385.7 568.7,383.7 568.5,381.7 622.0,381.7 622.5,383.7 623.1,385.7ZM454.0,381.7 454.7,379.7 455.3,377.7 485.4,377.7 485.0,379.7 484.6,381.7ZM522.7,381.7 522.8,379.7 523.0,377.7 545.5,377.7 545.6,379.7 545.6,381.7ZM553.3,381.7 553.2,379.7 553.0,377.7 560.6,377.7 560.7,379.7 560.9,381.7ZM568.5,381.7 568.3,379.7 568.1,377.7 628.2,377.7 628.9,379.7 629.6,381.7ZM455.3,377.7 456.0,375.6 456.8,373.6 486.3,373.6 485.8,375.6 485.4,377.7ZM523.0,377.7 523.1,375.6 523.2,373.6 626.6,373.6 627.4,375.6 628.2,377.7ZM456.8,373.6 457.7,371.5 458.6,369.4 494.7,369.4 494.2,371.5 493.7,373.6ZM523.2,373.6 523.4,371.5 523.6,369.4 624.6,369.4 625.6,371.5 626.6,373.6ZM458.6,369.4 459.6,367.3 460.7,365.2 509.9,365.2 509.5,367.3 509.1,369.4ZM523.6,369.4 523.8,367.3 523.9,365.2 622.3,365.2 623.5,367.3 624.6,369.4ZM453.7,365.2 455.0,362.9 456.4,360.7 510.8,360.7 510.3,362.9 509.9,365.2ZM516.9,365.2 517.3,362.9 517.6,360.7 626.4,360.7 627.9,362.9 629.4,365.2ZM456.4,360.7 458.1,358.4 459.9,356.2 629.2,356.2 631.2,358.4 633.2,360.7ZM459.9,356.2 462.0,353.7 464.3,351.4 636.3,351.4 639.3,353.7 642.2,356.2ZM433.6,351.4 438.0,348.6 442.7,346.2 638.9,346.2 643.8,348.6 648.6,351.4ZM437.1,346.2 450.9,341.7 465.3,340.2 610.7,340.2 625.1,341.7 638.9,346.2Z" fill="#fff"/>
<path d="M437.1,486.4 487.5,486.4M504.4,486.4 538.0,486.4M622.1,486.4 638.9,486.4M427.4,481.2 433.6,481.2M482.7,481.2 495.0,481.2M501.1,481.2 507.3,481.2M538.0,481.2 611.7,481.2M624.0,481.2 630.1,481.2M642.4,481.2 648.6,481.2M420.8,476.4 427.3,476.4M596.6,476.4 616.1,476.4M633.2,471.9 640.0,471.9M653.5,471.9 660.3,471.9M538.0,463.2 545.2,463.2M639.1,463.2 646.3,463.2M501.1,459.0 508.5,459.0M545.4,459.0 552.8,459.0M604.4,459.0 611.8,459.0M613.2,454.9 620.7,454.9M635.7,454.9 643.2,454.9M560.9,450.9 568.5,450.9M507.1,446.9 514.8,446.9M553.5,446.9 568.9,446.9M623.1,446.9 638.5,446.9M474.4,435.3 482.4,435.3M570.0,431.4 586.0,431.4M530.0,427.6 538.0,427.6M505.7,420.1 513.8,420.1M586.4,420.1 594.5,420.1M497.6,416.3 505.7,416.3M521.9,416.3 529.9,416.3M562.2,416.3 570.3,416.3M618.8,416.3 626.8,416.3M473.4,412.5 481.5,412.5M513.8,412.5 521.9,412.5M610.6,412.5 618.7,412.5M489.7,408.7 497.7,408.7M570.1,405.0 578.1,405.0M474.0,401.2 490.0,401.2M602.0,401.2 609.9,401.2M617.9,401.2 625.9,401.2M458.5,397.3 474.4,397.3M593.6,397.3 601.6,397.3M616.9,393.5 624.8,393.5M467.6,389.6 475.5,389.6M514.5,389.6 522.4,389.6M561.5,389.6 569.3,389.6M545.7,385.7 553.5,385.7M568.9,385.7 576.7,385.7M454.0,381.7 461.7,381.7M469.3,381.7 476.9,381.7M622.0,381.7 629.6,381.7M545.5,377.7 553.0,377.7M560.6,377.7 568.1,377.7M486.3,373.6 493.7,373.6M494.7,369.4 509.1,369.4M453.7,365.2 460.7,365.2M516.9,365.2 523.9,365.2M622.3,365.2 629.4,365.2M510.8,360.7 517.6,360.7M626.4,360.7 633.2,360.7M629.2,356.2 642.2,356.2M433.6,351.4 464.3,351.4M636.3,351.4 648.6,351.4M437.1,346.2 442.7,346.2M433.6,481.2 430.4,478.9 427.3,476.4M433.6,351.4 438.0,348.6 442.7,346.2M453.7,365.2 455.0,362.9 456.4,360.7 458.1,358.4 459.9,356.2 462.0,353.7 464.3,351.4M454.0,381.7 454.7,379.7 455.3,377.7 456.0,375.6 456.8,373.6 457.7,371.5 458.6,369.4 459.6,367.3 460.7,365.2M458.5,397.3 458.8,395.4 459.1,393.5 459.4,391.5 459.8,389.6 460.2,387.6 460.7,385.7 461.1,383.7 461.7,381.7M487.5,486.4 485.1,484.0 482.7,481.2M467.6,389.6 468.0,387.6 468.4,385.7 468.8,383.7 469.3,381.7M474.4,435.3 474.2,433.4 474.0,431.4 473.9,429.5 473.8,427.6 473.7,425.8 473.6,423.9 473.5,422.0 473.4,420.1 473.4,418.2 473.4,416.3 473.4,414.4 473.4,412.5M474.0,401.2 474.2,399.2 474.4,397.3M475.5,389.6 475.8,387.6 476.1,385.7 476.5,383.7 476.9,381.7M495.0,481.2 493.7,478.9 492.4,476.4 491.4,474.2 490.4,471.9 489.6,469.7 488.8,467.4 488.1,465.3 487.5,463.2 486.9,461.1 486.3,459.0 485.8,457.0 485.4,454.9 485.0,452.9 484.6,450.9 484.2,448.9 483.9,446.9 483.6,445.0 483.3,443.0 483.0,441.1 482.8,439.1 482.6,437.2 482.4,435.3M481.5,412.5 481.6,410.6 481.6,408.7 481.7,406.8 481.8,405.0 481.9,403.1 482.0,401.2 482.2,399.2 482.4,397.3 482.6,395.4 482.8,393.5 483.0,391.5 483.3,389.6 483.6,387.6 483.9,385.7 484.2,383.7 484.6,381.7 485.0,379.7 485.4,377.7 485.8,375.6 486.3,373.6M504.4,486.4 502.7,484.0 501.1,481.2M489.7,408.7 489.7,406.8 489.8,405.0 489.9,403.1 490.0,401.2M493.7,373.6 494.2,371.5 494.7,369.4M507.3,481.2 506.3,478.9 505.4,476.4 504.7,474.2 504.0,471.9 503.4,469.7 502.9,467.4 502.4,465.3 501.9,463.2 501.5,461.1 501.1,459.0M497.6,416.3 497.6,414.4 497.6,412.5 497.7,410.6 497.7,408.7M508.5,459.0 508.2,457.0 507.9,454.9 507.7,452.9 507.5,450.9 507.3,448.9 507.1,446.9M505.7,420.1 505.7,418.2 505.7,416.3M509.1,369.4 509.5,367.3 509.9,365.2 510.3,362.9 510.8,360.7M514.8,446.9 514.7,445.0 514.5,443.0 514.4,441.1 514.3,439.1 514.2,437.2 514.2,435.3 514.1,433.4 514.0,431.4 514.0,429.5 513.9,427.6 513.9,425.8 513.8,423.9 513.8,422.0 513.8,420.1M513.8,412.5 513.8,410.6 513.8,408.7 513.9,406.8 513.9,405.0 514.0,403.1 514.0,401.2 514.1,399.2 514.2,397.3 514.2,395.4 514.3,393.5 514.4,391.5 514.5,389.6M516.9,365.2 517.3,362.9 517.6,360.7M521.9,416.3 521.9,414.4 521.9,412.5M522.4,389.6 522.4,387.6 522.5,385.7 522.6,383.7 522.7,381.7 522.8,379.7 523.0,377.7 523.1,375.6 523.2,373.6 523.4,371.5 523.6,369.4 523.8,367.3 523.9,365.2M530.0,427.6 530.0,425.8 529.9,423.9 529.9,422.0 529.9,420.1 529.9,418.2 529.9,416.3M538.0,486.4 538.0,484.0 538.0,481.2M538.0,463.2 538.0,461.1 538.0,459.0 538.0,457.0 538.0,454.9 538.0,452.9 538.0,450.9 538.0,448.9 538.0,446.9 538.0,445.0 538.0,443.0 538.0,441.1 538.0,439.1 538.0,437.2 538.0,435.3 538.0,433.4 538.0,431.4 538.0,429.5 538.0,427.6M545.2,463.2 545.3,461.1 545.4,459.0M545.7,385.7 545.7,383.7 545.6,381.7 545.6,379.7 545.5,377.7M552.8,459.0 552.9,457.0 553.0,454.9 553.2,452.9 553.3,450.9 553.4,448.9 553.5,446.9M553.5,385.7 553.4,383.7 553.3,381.7 553.2,379.7 553.0,377.7M560.9,450.9 561.1,448.9 561.2,446.9 561.3,445.0 561.5,443.0 561.6,441.1 561.7,439.1 561.8,437.2 561.8,435.3 561.9,433.4 562.0,431.4 562.0,429.5 562.1,427.6 562.1,425.8 562.2,423.9 562.2,422.0 562.2,420.1 562.2,418.2 562.2,416.3M561.5,389.6 561.3,387.6 561.2,385.7 561.1,383.7 560.9,381.7 560.7,379.7 560.6,377.7M568.5,450.9 568.7,448.9 568.9,446.9M570.0,431.4 570.1,429.5 570.1,427.6 570.2,425.8 570.2,423.9 570.3,422.0 570.3,420.1 570.3,418.2 570.3,416.3M570.1,405.0 570.1,403.1 570.0,401.2 569.9,399.2 569.8,397.3 569.7,395.4 569.6,393.5 569.4,391.5 569.3,389.6M568.9,385.7 568.7,383.7 568.5,381.7 568.3,379.7 568.1,377.7M578.1,405.0 578.1,403.1 578.0,401.2 577.9,399.2 577.7,397.3 577.6,395.4 577.4,393.5 577.3,391.5 577.1,389.6 576.9,387.6 576.7,385.7M586.0,431.4 586.1,429.5 586.2,427.6 586.3,425.8 586.3,423.9 586.4,422.0 586.4,420.1M594.5,420.1 594.5,418.2 594.5,416.3 594.5,414.4 594.5,412.5 594.4,410.6 594.4,408.7 594.3,406.8 594.2,405.0 594.1,403.1 594.0,401.2 593.8,399.2 593.6,397.3M602.0,401.2 601.8,399.2 601.6,397.3M596.6,476.4 597.9,474.2 599.2,471.9 600.2,469.7 601.2,467.4 602.1,465.3 603.0,463.2 603.7,461.1 604.4,459.0M610.6,412.5 610.6,410.6 610.5,408.7 610.4,406.8 610.3,405.0 610.1,403.1 609.9,401.2M611.8,459.0 612.5,457.0 613.2,454.9M618.8,416.3 618.7,414.4 618.7,412.5M617.9,401.2 617.7,399.2 617.5,397.3 617.2,395.4 616.9,393.5M620.7,454.9 621.3,452.9 622.0,450.9 622.5,448.9 623.1,446.9M626.8,416.3 626.8,414.4 626.8,412.5 626.7,410.6 626.6,408.7 626.5,406.8 626.3,405.0 626.1,403.1 625.9,401.2M624.8,393.5 624.4,391.5 624.0,389.6 623.6,387.6 623.1,385.7 622.5,383.7 622.0,381.7M611.7,481.2 614.0,478.9 616.1,476.4M629.6,381.7 628.9,379.7 628.2,377.7 627.4,375.6 626.6,373.6 625.6,371.5 624.6,369.4 623.5,367.3 622.3,365.2M635.7,454.9 636.5,452.9 637.2,450.9 637.9,448.9 638.5,446.9M629.4,365.2 627.9,362.9 626.4,360.7M624.0,481.2 626.6,478.9 629.2,476.4 631.2,474.2 633.2,471.9M639.1,463.2 640.2,461.1 641.3,459.0 642.3,457.0 643.2,454.9M633.2,360.7 631.2,358.4 629.2,356.2M622.1,486.4 626.2,484.0 630.1,481.2M640.0,471.9 641.7,469.7 643.4,467.4 644.9,465.3 646.3,463.2M642.2,356.2 639.3,353.7 636.3,351.4M642.4,481.2 645.6,478.9 648.7,476.4 651.2,474.2 653.5,471.9" fill="none" stroke="#000" stroke-width="1.9" stroke-linecap="square"/>
</g>
<path d="M610.7,492.4 614.5,492.3 618.3,492.0 622.0,491.5 625.8,490.7 629.5,489.8 633.1,488.7 636.7,487.3 640.2,485.8 643.7,484.1 647.0,482.2 650.3,480.1 653.4,477.9 656.4,475.4 659.3,472.9 662.1,470.1 664.7,467.2 667.2,464.2 669.5,461.0 671.6,457.7 673.6,454.4 675.4,450.8 677.1,447.3 678.5,443.6 679.8,439.8 680.9,436.0 681.8,432.1 682.5,428.2 683.0,424.3 683.3,420.3 683.4,416.3 683.3,412.3 683.0,408.3 682.5,404.4 681.8,400.5 680.9,396.6 679.8,392.8 678.5,389.0 677.1,385.3 675.4,381.8 673.6,378.2 671.6,374.9 669.5,371.6 667.2,368.4 664.7,365.4 662.1,362.5 659.3,359.7 656.4,357.2 653.4,354.7 650.3,352.5 647.0,350.4 643.7,348.5 640.2,346.8 636.7,345.3 633.1,343.9 629.5,342.8 625.8,341.9 622.0,341.1 618.3,340.6 614.5,340.3 610.7,340.2 465.3,340.2 461.5,340.3 457.7,340.6 454.0,341.1 450.2,341.9 446.5,342.8 442.9,343.9 439.3,345.3 435.8,346.8 432.3,348.5 429.0,350.4 425.7,352.5 422.6,354.7 419.6,357.2 416.7,359.7 413.9,362.5 411.3,365.4 408.8,368.4 406.5,371.6 404.4,374.9 402.4,378.2 400.6,381.8 398.9,385.3 397.5,389.0 396.2,392.8 395.1,396.6 394.2,400.5 393.5,404.4 393.0,408.3 392.7,412.3 392.6,416.3 392.7,420.3 393.0,424.3 393.5,428.2 394.2,432.1 395.1,436.0 396.2,439.8 397.5,443.6 398.9,447.3 400.6,450.8 402.4,454.4 404.4,457.7 406.5,461.0 408.8,464.2 411.3,467.2 413.9,470.1 416.7,472.9 419.6,475.4 422.6,477.9 425.7,480.1 429.0,482.2 432.3,484.1 435.8,485.8 439.3,487.3 442.9,488.7 446.5,489.8 450.2,490.7 454.0,491.5 457.7,492.0 461.5,492.3 465.3,492.4Z" fill="none" stroke="#000" stroke-width="2.1"/>
<g font-size="18" fill="#000">
<text x="232.2" y="12.7" text-anchor="middle" textLength="90" lengthAdjust="spacingAndGlyphs">230 m b.s.l.</text>
<text x="538.4" y="12.7" text-anchor="middle" textLength="100" lengthAdjust="spacingAndGlyphs">2300 m b.s.l.</text>
<text transform="translate(79.3,101.7) scale(0.955,1)" text-anchor="end">×1.3 [PO<tspan font-size="12.5" dy="5">4</tspan><tspan dy="-5">]</tspan></text>
<text transform="translate(79.3,261.1) scale(0.955,1)" text-anchor="end">×1.0 [PO<tspan font-size="12.5" dy="5">4</tspan><tspan dy="-5">]</tspan></text>
<text transform="translate(79.3,421.4) scale(0.955,1)" text-anchor="end">×0.8 [PO<tspan font-size="12.5" dy="5">4</tspan><tspan dy="-5">]</tspan></text>
<text transform="translate(379.5,514) scale(0.975,1)" text-anchor="middle">[O<tspan font-size="12.5" dy="3">2</tspan><tspan dy="-3">] (μmol kg</tspan><tspan font-size="12.5" dy="-6">−1</tspan><tspan dy="6">)</tspan></text>
</g>
<g>
<path d="M227.6,520.5 L211.8,527.8 L227.6,535.2Z" fill="#00008b"/>
<path d="M528.8,520.5 L544.2,527.8 L528.8,535.2Z" fill="#8b0000"/>
<rect x="227.6" y="520.5" width="25.1" height="14.7" fill="#00008b"/>
<rect x="252.7" y="520.5" width="25.1" height="14.7" fill="#2e2ea0"/>
<rect x="277.8" y="520.5" width="25.1" height="14.7" fill="#5d5db5"/>
<rect x="302.9" y="520.5" width="25.1" height="14.7" fill="#8b8bca"/>
<rect x="328.0" y="520.5" width="25.1" height="14.7" fill="#b9b9df"/>
<rect x="353.1" y="520.5" width="25.1" height="14.7" fill="#e8e8f5"/>
<rect x="378.2" y="520.5" width="25.1" height="14.7" fill="#f5e8e8"/>
<rect x="403.3" y="520.5" width="25.1" height="14.7" fill="#dfb9b9"/>
<rect x="428.4" y="520.5" width="25.1" height="14.7" fill="#ca8b8b"/>
<rect x="453.5" y="520.5" width="25.1" height="14.7" fill="#b55d5d"/>
<rect x="478.6" y="520.5" width="25.1" height="14.7" fill="#a02e2e"/>
<rect x="503.7" y="520.5" width="25.1" height="14.7" fill="#8b0000"/>
<path d="M227.6,520.5 L211.8,527.8 L227.6,535.2 L528.8,535.2 L544.2,527.8 L528.8,520.5Z" fill="none" stroke="#000" stroke-width="1"/>
<path d="M227.6,535.2v3.5M302.9,535.2v3.5M378.2,535.2v3.5M453.5,535.2v3.5M528.8,535.2v3.5" stroke="#000" stroke-width="1"/>
</g>
<g font-size="18" fill="#000" text-anchor="middle">
<text x="228.1" y="560.5" textLength="34.4" lengthAdjust="spacingAndGlyphs">−60</text>
<text x="303.4" y="560.5" textLength="34.4" lengthAdjust="spacingAndGlyphs">−30</text>
<text x="378.2" y="560.5">0</text>
<text x="453.5" y="560.5">30</text>
<text x="528.8" y="560.5">60</text>
</g>

</svg></body></html>
